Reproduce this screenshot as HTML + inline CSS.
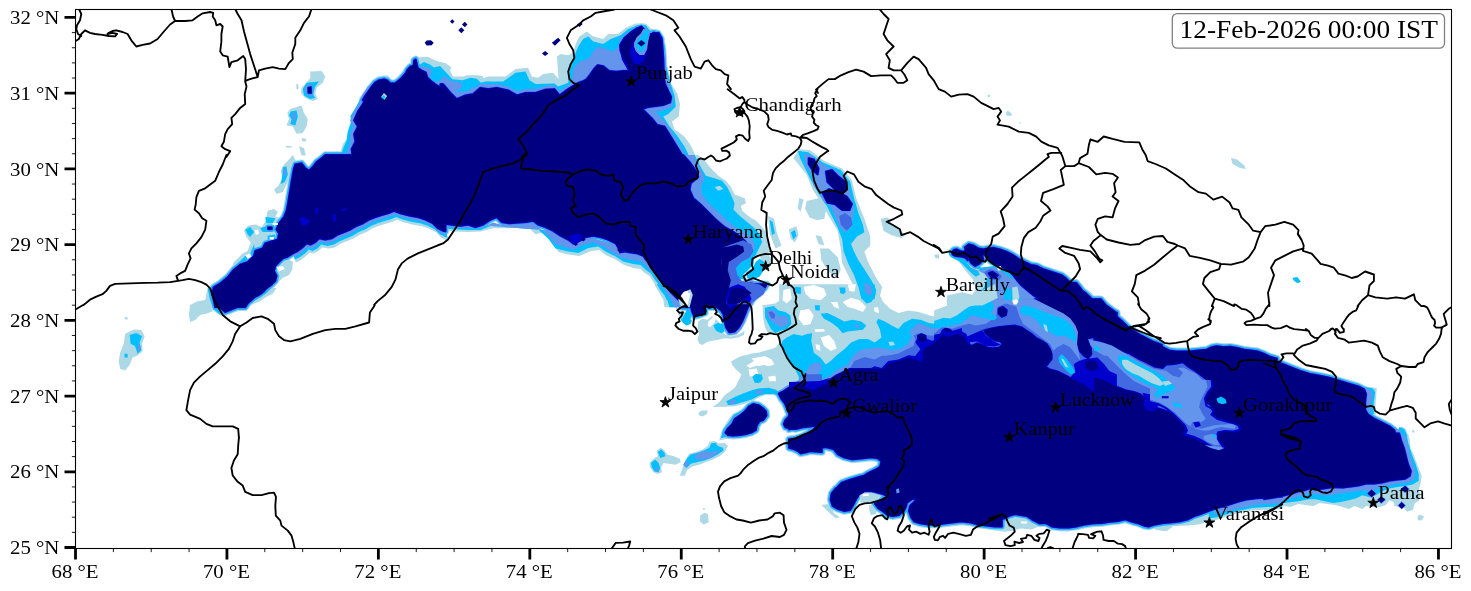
<!DOCTYPE html>
<html><head><meta charset="utf-8"><title>map</title>
<style>
html,body{margin:0;padding:0;background:#fff;}
body{width:1471px;height:591px;overflow:hidden;font-family:"Liberation Serif",serif;}
svg{display:block;position:absolute;left:0;top:0;}
text{font-family:"Liberation Serif",serif;fill:#000;}
.tk text{font-size:17.8px;}
.ct text{font-size:18.4px;}
</style></head><body>
<svg width="1471" height="591" viewBox="0 0 1471 591">
<rect width="1471" height="591" fill="#fff"/>
<defs><clipPath id="cp"><rect x="75.5" y="9.5" width="1376.0" height="539.0"/></clipPath></defs>
<g clip-path="url(#cp)">
<path d="M308.3,87.8 310.8,87.1 311,92.9 308.5,92.9Z M352.8,159.2 351.6,149.2 355.4,141.7 354.1,134.2 357.9,126.6 354.1,120.4 357.9,111.6 362.9,104.1 366.6,94.1 362.6,100 365.7,95.1 370.8,87.9 374.9,82.8 378.9,80.3 384,79.3 387.1,80.3 390.2,83.3 395.3,83.3 400.4,79.3 405.5,73.6 407.5,69.6 410.6,66.5 413.6,65.5 414.1,60.4 415.7,59.4 416.7,63.5 417.7,68 421.8,70.6 425.8,72.6 427.4,77.7 432,81.8 436,84.9 441.1,87.9 445.2,93 450.3,97.1 452.4,101.2 452.4,121.6 445.5,159.2Z M295.3,164.5 301.5,163.3 305.3,168.3 309,170.8 312.8,167 316.6,162 321.6,158.3 325.3,155 445.5,155 445.5,231.3 443,230.8 438,228.3 432.9,223.3 425.4,219.6 417.9,217.1 410.4,215.8 400.4,213.3 394.1,210.8 387.9,213.3 381.6,215.1 375.4,217.1 369.1,219.6 362.9,223.3 356.6,225.8 350.3,229.6 344.1,232.1 337.8,234.6 331.6,238.4 325.3,239.6 319.1,238.4 315.3,242.1 310.3,244.6 306.5,243.4 302.8,247.1 297.8,250.9 292.8,253.4 287.8,256.6 282.8,258.4 279,262.1 275.3,265.9 274,270.9 276.5,275.9 275.3,280.9 271.5,284.7 266.5,288.4 261.5,292.2 256.5,295.9 251.5,299.7 247.7,303.4 245.2,307.2 215.2,307.2 213.9,300.9 212.2,293.4 213.9,287.2 220.2,283.4 227.7,277.2 233.9,269.6 240.2,264.6 247.7,262.1 254,255.9 255.2,250.9 262.7,248.4 265.2,243.4 272.7,240.9 277.8,239.6 279,233.3 276.5,229.6 279,223.3 284,217.1 286.5,210.8 287.8,204.6 289,197.1 290.3,189.5 291.5,182 292.8,174.5 294,168.3Z M268.2,227.3 271.7,227.3 271.7,229.1 268.2,229.1Z M213.4,288 214.7,295 217.7,302.5 221.4,308.8 225.2,312 230.2,310 236.5,307.5 244,305 250.2,301.3 254,297.5 259,295 264,291.3 266.5,288Z M440.5,159.2 440.5,84.1 443,84.1 450.5,92.9 456.8,99.1 465.5,95.4 473,94.1 480.5,87.8 488.1,89.1 496.8,87.8 508.1,90.4 516.8,95.4 525.6,92.9 535.6,92.9 545.6,89.6 554.4,89.1 559.4,95.4 568.2,89.1 578.2,82.8 585.7,80.3 579.1,83.8 586.5,79.2 590.2,74.5 594,69 597.7,65.2 603.3,66.2 608.8,70.8 616.3,71.7 623.7,70.8 629.3,70.8 626.5,63.4 622.8,56.9 620.4,50.3 620.4,44.8 624.7,38.3 631.2,32.7 636.7,28.4 641.4,27.1 643.3,29.5 640.1,34.5 635.8,39.2 633,42.9 631.2,47.6 629.3,52.2 631.2,57.8 634,63.4 638.6,64.3 643.3,61.5 646,55 647.5,48.5 647.9,41 649.8,35.5 653.5,32.7 658.1,33.6 660.9,38.3 661.9,46.6 662.4,57.8 662.8,69 663.7,76.4 665,83.8 668.4,91.3 671.2,96.9 670.2,102.4 662.8,105.2 655.3,106.2 647.9,107.1 642.3,109 647,113.6 652.6,119.2 657.2,125 664.5,126.6 670.8,136.7 677,146.7 684.6,159.2Z M441,155 683.3,155 689.6,162 695.8,170.8 698.3,177 690.8,183.3 689.6,189.5 693.3,198.3 700.8,204.6 708.3,212.1 715.8,219.6 724.6,227.1 733.4,232.1 740.9,237.1 745.9,242.1 742.1,247.1 735.9,250.9 728.4,253.4 723.4,257.1 725.9,262.1 730.9,267.1 728.4,272.1 732.1,279.7 739.6,284.7 750.9,283.4 760.9,285.9 755.9,292.2 748.4,295.9 744.6,300.9 747.1,307.2 682,307.2 680.8,302.2 675.8,297.2 670.8,292.2 665.8,285.9 660.8,279.7 655.8,273.4 650.8,267.1 647,260.9 643.3,255.9 637,253.4 628.2,252.1 619.5,249.6 615.7,243.4 608.2,239.6 600.7,237.1 593.2,235.8 585.7,237.1 579.4,240.9 573.2,243.4 568.2,239.6 560.6,235.8 553.1,230.8 545.6,227.1 538.1,224.6 533.1,220.8 525.6,222.1 518.1,222.6 509.3,223.3 501.8,222.1 496.8,217.1 490.6,219.6 483.1,224.6 475.5,227.1 468,224.6 460.5,225.8 450.5,224.6 441,223.3Z M666.1,284.2 670.3,290.1 673.7,294.3 677.9,297.7 680.5,296 683.8,291.8 687.2,290.1 690.6,292.6 691.4,298.5 690.6,305.3 692.3,312.1 694.3,316.3 700.8,314.6 705,312.9 705,308.7 704.1,306.1 706.7,304.5 710.1,306.1 714.3,305.3 717.7,307.8 721.1,310.4 723.6,314.6 724.4,320.5 726.1,327.3 729.5,332.4 734.6,331.5 738.8,327.3 742.2,321.4 744.7,315.5 747.3,308.7 749.8,303.6 751.5,301.1 754,297.7 758.3,294.3 761.7,290.9 765,287.5 766.7,284.2Z M839.2,386.5 842.6,377.2 851.1,374.7 859.5,373 871.4,371.3 878.1,368.7 883.2,369.6 888.3,363.7 898.4,361.1 908.6,357.7 915.3,359.4 920.4,362 923.8,357.7 922.1,352.7 925.5,347.6 932.3,344.2 940.7,342.5 939,347.6 942.4,351 949.2,348.4 952.6,342.5 949.2,335.8 952.6,333.2 961.9,334.1 961.9,386.5Z M917.9,335.8 921.3,334.1 925.5,335.8 926.3,340 923,342.5 918.7,340.8Z M943.3,330.7 946.6,328.6 950.9,330.7 950,334.9 945.8,335.4Z M725.4,432.5 728,428.3 732.2,424.1 734.7,419 739.8,415.6 744.9,411.4 749.1,406.3 753.3,404.1 758.4,405.1 762.7,408 766,411.4 766.5,415.6 763.5,419.8 759.3,421.5 756.7,425.8 755.9,430 751.7,432.5 745.7,434.2 739.8,435.1 733,435.6 728,435.1Z M778.7,393.6 783.8,391.1 788.9,387.7 795.6,386.5 799.9,385.2 804.9,386.8 809.2,389.4 815.9,390.2 821.9,389.4 821.9,424.1 815.9,425.8 809.2,426.6 802.4,427.4 795.6,429.1 789.7,428.3 785.5,427.4 783.8,424.1 785.5,419.8 788.9,416.4 792.3,413.1 794.8,408.8 795.6,405.5 793.1,406.3 791.4,410.5 788,411.4 786.8,408 784.6,402.9 781.3,398.7Z M793.1,445.2 797.3,441.8 802.4,438.4 809.2,435.1 815.9,431.7 821.9,428.3 821.9,452 809.2,451.1 802.4,452.8 799,450.3 794.8,447.7Z M808.7,158.1 814,159.6 818.5,168.5 817.6,174.4 812.5,170 808.7,164.1Z M825.9,171.5 831.8,170 837.7,175.9 845.1,181.8 846.6,189.2 842.2,193.7 834.8,189.2 827.4,181.8Z M822.9,193.7 828.8,189.2 837.7,192.2 846.6,196.6 851.9,204 849.6,210 842.2,210 834.8,204 827.4,202.5Z M952,251.8 954.1,249.8 956.6,249.3 959.6,250.8 962.7,251.8 965.2,250.8 965.7,247.8 967.8,260.4 965.7,257.9 962.7,256.9 958.6,256.4 955.1,255.9 952.5,254.4Z M849.4,369 1001.8,369 1001.8,488.8 837.5,488.8 837.5,487 841.5,482.8 849.4,479.9 859.3,476.9 867.2,474.9 873.1,471 880.1,467 881.4,461.1 877.1,458.1 869.2,457.1 859.3,457.1 849.4,457.1 841.5,454.1 836.5,451.2 834.5,446.2 829.6,444.8 819.7,446.2 809.8,448.2 801.9,453.1 794,449.2 789,447.8 789,439.3 795.9,438.3 801.9,436.3 807.8,433.3 813.8,429.4 815.7,426.4 811.8,424.4 805.8,425.4 797.9,427.4 789,429.4 789,390.8 797.9,389.8 805.8,388.8 813.8,389.8 819.7,386.8 825.6,383.9 829.6,379.9 835.5,375.9 841.5,373Z M1034.8,299.2 1043.3,303.4 1053.4,308.5 1063.6,313.5 1070.3,318.6 1075.4,325.4 1077.1,333.8 1076.3,337.2 1077.1,344 1079.6,350.8 1083.9,355.8 1088.1,358.4 1091.5,354.1 1090.6,345.7 1087.3,338.9 1092.7,337.2 1103,342.3 1113.3,347.5 1116.9,349.1 1116.9,312.7 1115,311.8 1105.9,305.1 1100.8,299.2Z M934.2,341.1 938.4,340.3 942.6,333.5 946.8,336.9 950.2,335.9 953.6,334.7 960.4,333.8 964.6,337.2 967.1,343.1 971.4,345.7 977.3,343.1 982.4,344.8 987.4,347.4 993.4,348.2 999.3,347.4 1002.7,344 1000.1,341.4 995.1,340.6 990.8,338.1 985.8,333.8 984.1,330.5 989.1,328.8 997.6,327.1 1006.1,326.2 1014.5,325.4 1021.3,327.1 1026.4,330.5 1031.4,333.8 1036.5,338.1 1041.6,340.6 1046.7,344 1050,349.1 1051.7,354.1 1051.7,359.2 1048.3,363.4 1045.8,366.8 1050,369.4 1056.8,371.1 1063.6,374.4 1070.3,377.8 1077.1,381.2 1083.9,384.6 1088.1,388 1094,391.4 1099.9,393.9 1105.9,394.7 1116.9,394.7 1116.9,401.5 934.2,401.5Z M1085.6,361.7 1092.3,360.1 1097.4,363.4 1098.3,367.7 1094,371.1 1088.1,370.2 1084.7,366.8Z M942.6,330.5 946,327.9 950.2,329.6 951.1,333 947.7,335.5 943.5,333.8Z M998.4,308.5 1002.7,306.8 1006.9,310.2 1006.1,315.2 1001.8,316.9 998.4,313.5Z M964.8,247.4 968.9,244.3 973,245.3 978.2,248.4 983.3,249.4 987.5,248.4 993.7,247.8 999.9,249.4 1006,251.5 1012.2,254.6 1018.4,258.7 1024.6,261.8 1030.8,264.9 1037,266 1043.2,269.1 1049.4,271.1 1055.6,273.2 1061.8,275.2 1065.9,278.3 1070,282.5 1076.2,282.9 1079.3,286.6 1082.4,290.7 1086.5,293.8 1090.7,298 1096.9,302.1 1103.1,306.2 1109.2,310.3 1115.4,315.5 1121.6,320.7 1127.8,326.8 1134,331 1140.2,335.1 1146.4,338.2 1152.6,341.3 1161.9,344.8 1161.9,358.8 1146.4,357.8 1134,354.7 1123.7,351.6 1113.4,347.5 1103.1,342.3 1092.7,337.2 1084.5,334.1 1077.3,333 1074.2,327.9 1071.1,322.7 1066.9,317.6 1061.8,312.4 1056.6,308.3 1051.5,305.2 1045.3,302.1 1039.1,299 1032.9,294.9 1026.7,289.7 1020.5,284.5 1016.4,279.4 1013.3,275.2 1009.1,271.1 1004,268 997.8,264.9 991.6,261.8 987.5,257.7 984.4,253.6 982.3,255.6 983.3,259.8 979.2,263.9 975.1,266 971,262.9 968.9,257.7 966.8,252.5Z M988.5,273.2 992.6,271.7 997.8,275.2 995.7,277.9 991.2,277.3Z M788.3,444 794.4,448.1 800.6,453.3 806.8,452.2 815.1,449.1 825.4,447.1 833.7,449.1 837.8,454.3 844,457.4 852.2,459.4 862.6,458.4 870.8,457.4 879.1,458.4 882.2,462.5 879.1,467.7 872.9,470.8 866.7,473.9 860.5,478 854.3,481.1 848.1,482.2 841.9,485.2 835.7,488.3 831.6,493.5 830.6,499.7 832.6,505.9 837.8,509 844,511 850.2,510 853.3,504.9 856.4,498.7 859.5,494.5 864.6,491.4 870.8,490.8 877,492.5 883.2,494.1 887.3,496.2 881.1,500.3 874.9,503.8 878,508 883.2,511.5 887.3,514.8 892.5,516.2 898.7,515.2 903.8,511 905.9,506.9 906.9,502.8 912.1,499.1 917.3,498.3 914.2,501.8 910,505.9 909,511 911.1,517.2 914.2,521.4 920.4,523.4 928.6,524.5 936.9,524.5 945.1,523.4 953.4,522.4 961.6,521.4 969.9,522.4 978.1,524.5 986.4,525.5 994.7,526.5 1001.9,526.5 1001.9,444Z M989,524.9 990,524.5 996.2,522.4 1002.4,519.3 1008.6,516.2 1014.8,514.1 1021,515.2 1027.2,516.2 1033.3,520.3 1039.5,523.4 1045.7,523 1051.9,526.5 1060.2,527.6 1068.4,527.6 1076.7,526.5 1084.9,524.5 1093.2,523.4 1101.5,523 1109.7,521.8 1118,521 1125.2,519.3 1132.4,521.8 1138.6,523.4 1144.8,525.9 1148.9,526.5 1155.1,524.5 1163.4,523 1171.6,522.4 1179.9,521.4 1188.1,519.3 1194.3,516.2 1200.5,514.1 1208.8,511 1217,508 1225.3,505.9 1231.5,503.8 1237.7,501.8 1245.9,499.7 1256.3,498.3 1266.6,497.6 1274.8,497 1282.1,496.6 1282.1,444 989,444Z M960,395 1100,395 1100,420 1270,420 1270,450 960,450Z M1110,415 1270,415 1270,440 1110,440Z M1115.3,319.2 1122.1,325.1 1128.8,329.3 1137.3,333.5 1145.8,337.8 1154.2,342.8 1162.7,347.1 1169.4,350.5 1176.2,351.3 1183,351.3 1189.7,351.3 1198.2,350.5 1206.7,349.6 1211.7,347.1 1216.8,346.2 1223.6,347.1 1230.3,346.7 1237.1,347.9 1243.9,349.6 1250.6,350.5 1257.4,351.3 1264.2,353.8 1269.3,356.4 1276.9,358.6 1276.9,421.5 1216.8,421.5 1211.7,414.7 1213.4,409.7 1210,404.6 1203.3,401.2 1205,394.4 1210,391.1 1211.7,386 1208.3,380.9 1201.6,375.8 1194.8,370.8 1188,366.5 1183,362.3 1174.5,364 1166.1,364.8 1162.7,368.2 1154.2,366.5 1145.8,362.3 1137.3,358.1 1128.8,353 1122.1,348.8 1117,345.4 1110.2,343.7 1101.8,341.1 1094.2,339.5 1094.2,319.2Z M1186.4,421.5 1183,418.1 1176.2,414.7 1169.4,412.2 1162.7,409.7 1157.6,408 1152.5,411.4 1145.8,409.7 1144.1,404.6 1145.8,399.5 1140.7,394.4 1133.9,391.9 1125.5,390.2 1117,386.8 1108.5,382.6 1101.8,379.2 1094.2,377.5 1094.2,421.5Z M1264,355.9 1272.8,359.2 1280.6,363.1 1290.3,367 1300,370.8 1309.7,373.8 1319.5,375.7 1329.2,377.7 1338.9,380.6 1348.6,383.5 1358.4,386.4 1364.2,389.3 1366.1,394.2 1365.2,402 1365.2,409.8 1368.1,414.6 1373.9,418.5 1381.7,422.4 1389.5,426.3 1394.4,430.2 1396.3,436 1399.2,441.8 1401.2,447.7 1264,447.7Z M1399.2,433.4 1401.2,440.8 1404.1,448.6 1406,456.4 1408,464.2 1410.9,471 1409.9,475.8 1405.1,478.8 1397.3,479.7 1389.5,480.7 1381.7,482.7 1373.9,483.6 1366.1,483.6 1358.4,485.6 1350.6,486.5 1342.8,487.5 1333.1,487.1 1323.4,488.5 1315.6,489.5 1309.7,488.5 1303.9,490.4 1298.1,491.4 1292.2,493.4 1284.5,495.3 1276.7,497.2 1270.8,498.2 1264,499.2 1264,433.4Z" fill="none" stroke="#ADD8E6" stroke-width="7.6" stroke-linejoin="round"/>
<g fill="#ADD8E6"><path d="M310.3,71.6 321.6,71.1 325.3,76.6 322.8,82.8 316.6,87.8 315.3,94.1 317.8,99.1 312.8,101.1 305.3,97.9 301,92.9 301.5,87.8 306.5,82.8 310.3,77.8Z"/><path d="M296.3,84.1 298.3,84.1 298.5,89.1 296.5,89.1Z"/><path d="M290.3,109.1 301.5,105.4 304,112.9 307.8,119.1 306.5,126.6 302.8,132.9 296.5,133.7 292.8,126.6 286.5,125.4 289,119.1 287.3,112.9Z"/><path d="M301.5,137.9 306.5,138.7 305.3,141.7 302.3,141.2Z"/><path d="M286,145.9 291.5,145.9 291.5,147.4 286,147.4Z"/><path d="M299,146.2 304,147.9 305.8,155.4 301.5,155.4Z"/><path d="M416.7,60.4 419.7,57.3 427.9,56.8 432,58.9 438.1,61.4 445.2,62.9 451.3,67 449.3,72.6 454.4,78.7 462.6,77.2 466.6,75.2 477.9,75.2 483,76.2 483,101.2 452.4,101.2 421.8,70.6Z"/><path d="M321.6,159.2 325.3,152.9 340.3,152.9 342.8,144.2 346.6,139.2 347.8,131.7 350.3,121.6 351.6,114.1 356.6,106.6 361.6,96.6 369.1,84.1 377.9,76.6 387.9,75.3 390.4,80.3 375.4,84.1 357.9,159.2Z"/><path d="M287.8,160.8 284,164.5 280.8,170.8 282.3,178.3 278.3,185.8 274,189.5 276.5,194 282.8,192 287.8,182 292.8,172 296.5,162 292.8,155Z"/><path d="M267.7,210.8 274,209.1 277.8,212.1 275.3,217.1 282.8,218.3 277.8,232.1 282.8,238.4 275.3,242.1 267.7,240.9 262.7,243.4 257.7,248.4 252.7,248.4 250.2,242.1 246.5,237.1 244,230.8 247.7,225.8 255.2,224.6 261.5,227.1 265.2,222.1 266.5,215.8Z"/><path d="M250.2,243.4 247.7,250.9 242.7,253.4 237.7,258.4 233.9,262.1 231.4,268.4 225.2,274.6 218.9,279.7 211.4,284.7 207.7,290.9 208.9,297.2 206.4,300.9 200.2,302.2 198.9,307.2 215.2,307.2 255.2,250.9Z"/><path d="M282.8,257.1 292.8,261.6 292.3,269.6 289,275.1 282.8,277.7 278.3,282.2 275.3,280.9 274,269.6 276.5,263.4Z"/><path d="M340.3,232.1 350.3,228.3 362.9,222.1 365.4,225.8 360.4,230.8 350.3,234.6 342.8,235.8Z"/><path d="M445.5,231.3 443,230.8 438,228.3 432.9,223.3 425.4,219.6 417.9,217.1 410.4,215.8 400.4,213.3 394.1,210.8 387.9,213.3 381.6,215.1 375.4,217.1 369.1,219.6 362.9,223.3 356.6,225.8 350.3,229.6 344.1,232.1 337.8,234.6 331.6,238.4 325.3,239.6 319.1,238.4 315.3,242.1 310.3,244.6 306.5,243.4 302.8,247.1 297.8,250.9 292.8,253.4 295.9,262.4 300.9,259.9 305.9,256.1 309.7,252.4 313.4,253.6 318.5,251.1 322.2,247.4 328.5,248.6 334.7,247.4 341,243.6 347.2,241.1 353.5,238.6 359.8,234.8 366,232.3 372.3,228.6 378.5,226.1 384.8,224.1 391,222.3 397.3,219.8 403.6,222.3 413.6,224.8 421.1,226.1 428.6,228.6 436.1,232.3 441.1,237.4 446.1,239.9 448.6,240.4Z"/><path d="M190.1,305 197.7,301.3 205.2,300 207.7,288 210.2,305 212.7,311.3 206.4,313.8 200.2,315 195.2,320 190.1,322 188.9,315Z"/><path d="M266.5,288 276.5,288 272.7,293.8 265.2,297.5 260.2,301.3 254,303.8 245.2,308 237.7,311.3 227.7,314.5 220.2,315.5 213.9,311.3 210.2,305 207.7,288Z"/><path d="M125.1,333.8 133.8,329.5 141.3,330.1 144.6,336.3 142.1,343.8 142.6,351.3 137.6,355.6 132.6,357.6 129.6,365.1 125.1,370.6 120.1,368.8 118.8,361.3 120.1,352.6 123.8,343.8Z"/><path d="M124.6,317 127.6,317 127.6,319.5 125.1,319.5Z"/><path d="M440.5,62.3 449.3,69.1 453,76.6 468,76.6 478,80.3 488.1,76.6 505.6,76.6 515.6,69.1 528.1,67.8 531.9,76.6 538.1,77.8 543.1,74.1 553.1,72.8 558.6,79.1 556.9,56.6 560.6,54.1 568.2,55.3 573.2,52.8 575.7,44 579.4,36.5 586.9,31.5 593.2,36.5 603.2,39 608.2,34 618.2,34 625.7,27.8 635.7,23.5 645.8,23.5 650.8,28.5 658.3,29.8 663.8,36.5 666.3,49.1 667.5,66.6 671.3,84.1 677.5,94.1 680,104.1 678.8,116.6 672,121.6 674.5,129.2 684.6,136.7 690.8,145.4 697.1,159.2 440.5,159.2Z"/><path d="M441,230.8 455.5,231.6 468,232.1 480.5,231.6 493.1,228.3 508.1,228.3 525.6,227.1 530.6,229.6 535.6,234.6 543.1,232.1 548.1,233.3 551.1,242.1 558.6,252.1 568.2,254.6 579.4,256.1 590.7,250.9 599.4,250.1 605.7,255.1 615.7,259.6 623.2,264.6 633.2,268.1 640.7,269.1 644,272.6 649.5,275.9 654.5,283.4 658.3,290.9 663.3,299.7 664.5,307.2 683.3,307.2 643.3,252.1 568.2,232.1 443,222.1Z"/><path d="M698.3,155 705.8,162 712.1,169.5 718.3,175.8 725.9,180.8 730.9,187 734.6,194.5 744.6,198.3 745.9,203.3 740.9,205.8 742.1,210.8 749.6,217.1 755.9,220.8 760.9,225.8 765.9,232.1 768.4,242.1 770.9,252.1 755.9,257.1 718.3,232.1 683.3,182 680.8,155Z"/><path d="M654.2,284.2 657.6,290.1 662.7,296.8 666.1,301.9 672,303.6 677.1,307 679.6,312.9 683.8,312.1 689.8,315.5 692.3,321.4 686.4,324.8 681.3,321.4 666.9,284.2Z"/><path d="M698.2,321.4 702.4,318.8 707.5,319.7 711.7,316.3 716,318.8 719.4,323.1 724.4,334.1 730.4,336.6 738,334.9 744.7,330.7 743.9,334.9 738,337.4 731.2,338.8 724.4,338.3 717.7,340 712.6,340.8 707.5,341.7 702.4,345.1 699.1,343.4 697.4,339.1 699.1,334.1 697.7,327.3Z"/><path d="M762.5,305.3 775.2,303.6 780.3,300.2 785.3,298.5 787.9,303.6 788.7,310.4 793.8,313.8 797.2,323.9 790.4,330.7 778.6,334.1 768.4,334.1 765,327.3 763.3,318.8Z"/><path d="M731.2,362 738,357.7 744.7,356.1 751.5,353.5 758.3,352.7 761.7,356.1 768.4,354.4 775.2,356.1 776.9,361.1 776,366.2 778.6,369.6 783.6,373 790.4,376.4 793.8,385.7 738,385.7 739.7,379.7 742.2,373 738.8,367.9 732.9,366.2Z"/><path d="M779.2,284.2 874.7,284.2 881.5,288.4 879.8,295.2 883.2,301.9 890,308.7 898.4,312.9 908.6,310.4 918.7,312.1 932.3,316.3 942.4,315.5 949.2,310.4 952.6,305.3 961.9,303.6 961.9,386.5 779.2,386.5Z"/><path d="M793.5,356.1 800.3,352.7 805.4,357.7 807.1,364.5 802,369.6 796.9,366.2Z"/><path d="M719.2,440.6 721.7,430.8 727.6,420.7 732.7,413.9 741.2,409.3 748.3,403.4 753.3,401.2 750,408.8 734.7,425.8 728,438.4Z"/><path d="M698.4,413.1 701.7,410.5 707.7,410.5 706.8,413.9 702.6,416.4 699.2,415.6Z"/><path d="M679.8,475.7 683.1,466.4 685.7,459.6 689.1,453.7 695.8,452 702.6,449.4 707.7,446.1 709.4,441.8 714.4,441 719.5,443.5 724.6,442.7 728,446.1 724.6,452 719.5,456.2 712.7,459.6 706,462.1 699.2,464.7 692.4,466.4 687.4,469.7 684.8,475.7Z"/><path d="M656.9,451.1 660.3,447.7 664.5,450.3 667.1,454.5 673.8,456.2 679.8,458.7 680.6,462.1 675.5,464.7 668.8,463.8 663.7,463 661.1,467.2 662,472.3 657.8,474 653.5,472.3 650.2,467.2 649.3,463 653.5,458.7 657.8,456.2Z"/><path d="M712.7,407.1 719.5,402.1 724.6,395.3 731.4,390.2 738.1,385.2 744.9,381.8 748.3,374.2 807.5,374.2 806.6,380.1 778.7,397 773.6,395 765.2,395 758.4,397.8 751.7,401.2 744.9,403.8 734.7,406.3 724.6,406.8Z"/><path d="M731.3,361.2 741.5,356.1 758.4,352.7 775.3,347.7 781.4,340.9 781.4,381.5 768.6,388.3 751.6,391.6 738.1,395 728,401.8 717.8,403.5 734.7,388.3 741.5,374.7 734.7,368Z"/><path d="M700.4,515.3 704.6,512.7 708.1,514.3 708.7,522.6 703.5,524.6 699.8,521.5Z"/><path d="M703.1,508.1 704.8,508.1 704.8,509.8 703.1,509.8Z"/><path d="M987.2,96.1 988.7,94.6 990.7,96.1 988.7,97.6Z"/><path d="M1006.2,111.6 1008.7,111.1 1012,114.1 1011.3,115.9 1006.2,115.6Z"/><path d="M1019,122.9 1020,121.9 1021,122.9 1020,123.9Z"/><path d="M793.3,158.1 799.2,149.2 809.6,150.1 824.4,161.1 842.2,168.5 851.9,180.3 856.1,198.1 864.4,218.8 870.3,236.6 870.3,245.5 864.4,251.4 867.3,260.3 876.2,278.1 882.1,286.9 879.2,298.8 870.3,306.2 857,306.2 855.5,289.9 849.6,278.1 842.2,263.3 840.7,248.4 837.7,230.7 828.8,215.9 820,201.1 812.5,189.2 806.6,174.4Z"/><path d="M806.6,201.1 820,198.1 825.9,210 824.4,218.8 817,220.3 809.6,217.4 805.1,208.5Z"/><path d="M799.2,198.1 803.7,199.6 800.7,211.4 797.7,208.5Z"/><path d="M815.5,235.1 821.4,236.6 824.4,245.5 818.5,244Z"/><path d="M820,248.4 828.8,248.4 837.7,257.3 840.7,269.2 837.7,278.1 828.8,272.1 821.4,260.3Z"/><path d="M788.9,229.2 796.3,226.2 798.6,235.1 794.8,242.5 790.3,238.1Z"/><path d="M768.1,215.9 774.1,218.8 777,233.6 781.5,245.5 775.5,248.4 769.6,233.6Z"/><path d="M824.4,291.4 837.7,289.9 846.6,295.8 840.7,306.2 825.9,306.2Z"/><path d="M781.5,295.8 787.4,297.3 785.9,306.2 780,304.7Z"/><path d="M739.4,198.1 744.4,198.1 745.3,203.4 739.4,204Z"/><path d="M880.7,218.8 888.1,217.4 892.5,224.8 899.9,230.7 905.8,235.1 901.4,238.1 891,235.1 883.6,230.7Z"/><path d="M759.7,255.7 768,254.1 772.1,259.9 769,268.1 763.8,271.2 761.8,261.9Z"/><path d="M1231,158.1 1237,159.6 1244.4,165.5 1245.8,169.1 1239.9,167.9 1232.5,164Z"/><path d="M934.3,254.4 941.4,254.4 948.5,253.8 950.5,257.4 947.5,259.4 941.4,258.9 935.3,257.9Z"/><path d="M942.4,262.5 949.5,260.4 953.6,263.5 957.6,266.5 962.7,270.6 967.8,274.6 971.8,278.7 975.9,282.8 971.8,286.8 965.7,280.7 959.6,275.7 953.6,270.6 947.5,266Z"/><path d="M939,247.4 948.3,249.4 958.6,247.4 964.8,247.4 967.9,255.6 971,263.9 981.3,268 993.7,266 1008.1,273.2 1016.4,282.5 1008.1,296.9 991.6,309.3 971,321.7 939,325.8Z"/><path d="M944.1,261.8 952.4,263.9 960.6,272.2 956.5,276.3 948.3,268Z"/><path d="M946.2,292.8 956.5,290.7 966.8,296.9 960.6,303.1 952.4,301Z"/><path d="M869.2,504.9 873.9,505.3 877,509 876,514.1 870.8,515.2 869.2,510Z"/><path d="M821.3,504.9 830.6,503.8 833.7,513.1 839.9,517.2 835.7,518.3 830.6,514.1Z"/><path d="M1002.4,520.3 1010.6,515.2 1021,516.2 1031.3,517.2 1037.5,522.4 1041.6,525.5 1031.3,529.6 1021,528.6 1012.7,530.7 1004.4,531.7 998.3,530.7 989,529.6 989,523.4Z"/><path d="M1151,526.5 1157.2,525.1 1165.4,523.8 1173.7,523.4 1171.6,527.6 1166.5,531.3 1161.3,530.7 1155.1,529.6Z"/><path d="M1196.4,516.2 1282.1,496.6 1282.1,509 1266.6,509.4 1252.1,510.6 1237.7,513.1 1227.4,516.2 1217,519.7 1208.8,521.8 1198.5,524.5 1188.1,525.5 1175.8,525.9 1171.6,523.4Z"/><path d="M1366.1,386.4 1376.8,388 1376.3,394.2 1375.3,407.8 1375.9,415.6 1368.1,414.6 1364.2,388.4Z"/><path d="M1401.2,426.3 1406,429.2 1409.3,438.9 1410.5,447.7 1400.2,447.7 1396.3,436Z"/><path d="M1290.3,364.6 1296.1,367 1302,369.9 1299,371.2 1292.2,368.3Z"/><path d="M1412.2,430.2 1414.4,430.2 1414.4,432.5 1412.2,432.5Z"/><path d="M1408,433.4 1409.9,440.8 1409.3,446.7 1412.8,452.5 1415.7,460.3 1418.7,468.1 1421.6,475.8 1420.6,483.6 1418.7,489.5 1420.6,495.3 1418.7,501.1 1414.8,503.1 1412.8,509.9 1407,511.8 1404.1,507.9 1399.2,507 1394.4,506 1393.4,502.1 1389.5,500.2 1385.6,505 1379.8,507 1373.9,507 1366.1,506 1362.3,508.9 1354.5,506 1348.6,508.9 1342.8,507 1335,505 1327.2,504.1 1319.5,503.1 1313.6,506 1305.8,505 1298.1,504.1 1290.3,507 1284.5,506 1276.7,507.9 1270.8,509.9 1264,510.9 1264,493.4 1381.7,473.9Z"/><path d="M1417.7,515.7 1420.6,514.8 1424.1,516.7 1421.6,520.6 1417.7,520.2Z"/></g>
<g fill="#FFFFFF"><path d="M803.7,286.7 813.8,285 824,288.4 826.5,295.2 820.6,300.2 810.5,298.5 805.4,293.5Z"/><path d="M842.6,301.9 851.1,297.7 859.5,300.2 866.3,307 862.9,312.1 854.4,308.7 847.7,307Z"/><path d="M800.3,310.4 808.8,308.7 813.8,315.5 810.5,323.9 803.7,325.6 798.6,318.8Z"/><path d="M820.6,337.4 829.1,334.9 834.1,340.8 836.7,348.4 830.8,351 824,345.9Z"/><path d="M814.7,329.3 824,329 824.8,331.5 815.5,332Z"/><path d="M830.8,301.9 837.5,301.9 839.2,308.7 834.1,307Z"/><path d="M847.7,284.2 856.1,284.2 854.4,291.8 849.4,290.9Z"/><path d="M873.9,307.8 878.1,307 879,312.9 874.7,312.1Z"/><path d="M815.5,344.2 819.8,345.1 820.6,351 816.4,349.3Z"/><path d="M783.4,290.1 790.2,288.4 791.8,298.5 786.8,303.6 782.5,300.2Z"/><path d="M790.2,337.4 796.9,336.6 797.8,340 791,340.8Z"/><path d="M768.6,377.5 775.3,376.7 775.3,380.9 769.4,380.9Z"/><path d="M751.6,358.5 765.2,356.1 770.2,362.9 758.4,366.3Z"/><path d="M748.3,369.6 756.7,368.6 758.4,374.7 749.9,376.4Z"/><path d="M768.6,376.4 775.3,375.7 776,380.8 769.2,381.5Z"/><path d="M939,246.4 948.3,249.9 954.4,256.7 960.6,263.9 966.8,272.2 973,279.4 976.1,288.7 971,296.9 962.7,303.1 952.4,307.2 939,309.3Z"/></g>
<path d="M308.3,87.8 310.8,87.1 311,92.9 308.5,92.9Z M352.8,159.2 351.6,149.2 355.4,141.7 354.1,134.2 357.9,126.6 354.1,120.4 357.9,111.6 362.9,104.1 366.6,94.1 362.6,100 365.7,95.1 370.8,87.9 374.9,82.8 378.9,80.3 384,79.3 387.1,80.3 390.2,83.3 395.3,83.3 400.4,79.3 405.5,73.6 407.5,69.6 410.6,66.5 413.6,65.5 414.1,60.4 415.7,59.4 416.7,63.5 417.7,68 421.8,70.6 425.8,72.6 427.4,77.7 432,81.8 436,84.9 441.1,87.9 445.2,93 450.3,97.1 452.4,101.2 452.4,121.6 445.5,159.2Z M295.3,164.5 301.5,163.3 305.3,168.3 309,170.8 312.8,167 316.6,162 321.6,158.3 325.3,155 445.5,155 445.5,231.3 443,230.8 438,228.3 432.9,223.3 425.4,219.6 417.9,217.1 410.4,215.8 400.4,213.3 394.1,210.8 387.9,213.3 381.6,215.1 375.4,217.1 369.1,219.6 362.9,223.3 356.6,225.8 350.3,229.6 344.1,232.1 337.8,234.6 331.6,238.4 325.3,239.6 319.1,238.4 315.3,242.1 310.3,244.6 306.5,243.4 302.8,247.1 297.8,250.9 292.8,253.4 287.8,256.6 282.8,258.4 279,262.1 275.3,265.9 274,270.9 276.5,275.9 275.3,280.9 271.5,284.7 266.5,288.4 261.5,292.2 256.5,295.9 251.5,299.7 247.7,303.4 245.2,307.2 215.2,307.2 213.9,300.9 212.2,293.4 213.9,287.2 220.2,283.4 227.7,277.2 233.9,269.6 240.2,264.6 247.7,262.1 254,255.9 255.2,250.9 262.7,248.4 265.2,243.4 272.7,240.9 277.8,239.6 279,233.3 276.5,229.6 279,223.3 284,217.1 286.5,210.8 287.8,204.6 289,197.1 290.3,189.5 291.5,182 292.8,174.5 294,168.3Z M268.2,227.3 271.7,227.3 271.7,229.1 268.2,229.1Z M213.4,288 214.7,295 217.7,302.5 221.4,308.8 225.2,312 230.2,310 236.5,307.5 244,305 250.2,301.3 254,297.5 259,295 264,291.3 266.5,288Z M440.5,159.2 440.5,84.1 443,84.1 450.5,92.9 456.8,99.1 465.5,95.4 473,94.1 480.5,87.8 488.1,89.1 496.8,87.8 508.1,90.4 516.8,95.4 525.6,92.9 535.6,92.9 545.6,89.6 554.4,89.1 559.4,95.4 568.2,89.1 578.2,82.8 585.7,80.3 579.1,83.8 586.5,79.2 590.2,74.5 594,69 597.7,65.2 603.3,66.2 608.8,70.8 616.3,71.7 623.7,70.8 629.3,70.8 626.5,63.4 622.8,56.9 620.4,50.3 620.4,44.8 624.7,38.3 631.2,32.7 636.7,28.4 641.4,27.1 643.3,29.5 640.1,34.5 635.8,39.2 633,42.9 631.2,47.6 629.3,52.2 631.2,57.8 634,63.4 638.6,64.3 643.3,61.5 646,55 647.5,48.5 647.9,41 649.8,35.5 653.5,32.7 658.1,33.6 660.9,38.3 661.9,46.6 662.4,57.8 662.8,69 663.7,76.4 665,83.8 668.4,91.3 671.2,96.9 670.2,102.4 662.8,105.2 655.3,106.2 647.9,107.1 642.3,109 647,113.6 652.6,119.2 657.2,125 664.5,126.6 670.8,136.7 677,146.7 684.6,159.2Z M441,155 683.3,155 689.6,162 695.8,170.8 698.3,177 690.8,183.3 689.6,189.5 693.3,198.3 700.8,204.6 708.3,212.1 715.8,219.6 724.6,227.1 733.4,232.1 740.9,237.1 745.9,242.1 742.1,247.1 735.9,250.9 728.4,253.4 723.4,257.1 725.9,262.1 730.9,267.1 728.4,272.1 732.1,279.7 739.6,284.7 750.9,283.4 760.9,285.9 755.9,292.2 748.4,295.9 744.6,300.9 747.1,307.2 682,307.2 680.8,302.2 675.8,297.2 670.8,292.2 665.8,285.9 660.8,279.7 655.8,273.4 650.8,267.1 647,260.9 643.3,255.9 637,253.4 628.2,252.1 619.5,249.6 615.7,243.4 608.2,239.6 600.7,237.1 593.2,235.8 585.7,237.1 579.4,240.9 573.2,243.4 568.2,239.6 560.6,235.8 553.1,230.8 545.6,227.1 538.1,224.6 533.1,220.8 525.6,222.1 518.1,222.6 509.3,223.3 501.8,222.1 496.8,217.1 490.6,219.6 483.1,224.6 475.5,227.1 468,224.6 460.5,225.8 450.5,224.6 441,223.3Z M666.1,284.2 670.3,290.1 673.7,294.3 677.9,297.7 680.5,296 683.8,291.8 687.2,290.1 690.6,292.6 691.4,298.5 690.6,305.3 692.3,312.1 694.3,316.3 700.8,314.6 705,312.9 705,308.7 704.1,306.1 706.7,304.5 710.1,306.1 714.3,305.3 717.7,307.8 721.1,310.4 723.6,314.6 724.4,320.5 726.1,327.3 729.5,332.4 734.6,331.5 738.8,327.3 742.2,321.4 744.7,315.5 747.3,308.7 749.8,303.6 751.5,301.1 754,297.7 758.3,294.3 761.7,290.9 765,287.5 766.7,284.2Z M839.2,386.5 842.6,377.2 851.1,374.7 859.5,373 871.4,371.3 878.1,368.7 883.2,369.6 888.3,363.7 898.4,361.1 908.6,357.7 915.3,359.4 920.4,362 923.8,357.7 922.1,352.7 925.5,347.6 932.3,344.2 940.7,342.5 939,347.6 942.4,351 949.2,348.4 952.6,342.5 949.2,335.8 952.6,333.2 961.9,334.1 961.9,386.5Z M917.9,335.8 921.3,334.1 925.5,335.8 926.3,340 923,342.5 918.7,340.8Z M943.3,330.7 946.6,328.6 950.9,330.7 950,334.9 945.8,335.4Z M725.4,432.5 728,428.3 732.2,424.1 734.7,419 739.8,415.6 744.9,411.4 749.1,406.3 753.3,404.1 758.4,405.1 762.7,408 766,411.4 766.5,415.6 763.5,419.8 759.3,421.5 756.7,425.8 755.9,430 751.7,432.5 745.7,434.2 739.8,435.1 733,435.6 728,435.1Z M778.7,393.6 783.8,391.1 788.9,387.7 795.6,386.5 799.9,385.2 804.9,386.8 809.2,389.4 815.9,390.2 821.9,389.4 821.9,424.1 815.9,425.8 809.2,426.6 802.4,427.4 795.6,429.1 789.7,428.3 785.5,427.4 783.8,424.1 785.5,419.8 788.9,416.4 792.3,413.1 794.8,408.8 795.6,405.5 793.1,406.3 791.4,410.5 788,411.4 786.8,408 784.6,402.9 781.3,398.7Z M793.1,445.2 797.3,441.8 802.4,438.4 809.2,435.1 815.9,431.7 821.9,428.3 821.9,452 809.2,451.1 802.4,452.8 799,450.3 794.8,447.7Z M808.7,158.1 814,159.6 818.5,168.5 817.6,174.4 812.5,170 808.7,164.1Z M825.9,171.5 831.8,170 837.7,175.9 845.1,181.8 846.6,189.2 842.2,193.7 834.8,189.2 827.4,181.8Z M822.9,193.7 828.8,189.2 837.7,192.2 846.6,196.6 851.9,204 849.6,210 842.2,210 834.8,204 827.4,202.5Z M952,251.8 954.1,249.8 956.6,249.3 959.6,250.8 962.7,251.8 965.2,250.8 965.7,247.8 967.8,260.4 965.7,257.9 962.7,256.9 958.6,256.4 955.1,255.9 952.5,254.4Z M849.4,369 1001.8,369 1001.8,488.8 837.5,488.8 837.5,487 841.5,482.8 849.4,479.9 859.3,476.9 867.2,474.9 873.1,471 880.1,467 881.4,461.1 877.1,458.1 869.2,457.1 859.3,457.1 849.4,457.1 841.5,454.1 836.5,451.2 834.5,446.2 829.6,444.8 819.7,446.2 809.8,448.2 801.9,453.1 794,449.2 789,447.8 789,439.3 795.9,438.3 801.9,436.3 807.8,433.3 813.8,429.4 815.7,426.4 811.8,424.4 805.8,425.4 797.9,427.4 789,429.4 789,390.8 797.9,389.8 805.8,388.8 813.8,389.8 819.7,386.8 825.6,383.9 829.6,379.9 835.5,375.9 841.5,373Z M1034.8,299.2 1043.3,303.4 1053.4,308.5 1063.6,313.5 1070.3,318.6 1075.4,325.4 1077.1,333.8 1076.3,337.2 1077.1,344 1079.6,350.8 1083.9,355.8 1088.1,358.4 1091.5,354.1 1090.6,345.7 1087.3,338.9 1092.7,337.2 1103,342.3 1113.3,347.5 1116.9,349.1 1116.9,312.7 1115,311.8 1105.9,305.1 1100.8,299.2Z M934.2,341.1 938.4,340.3 942.6,333.5 946.8,336.9 950.2,335.9 953.6,334.7 960.4,333.8 964.6,337.2 967.1,343.1 971.4,345.7 977.3,343.1 982.4,344.8 987.4,347.4 993.4,348.2 999.3,347.4 1002.7,344 1000.1,341.4 995.1,340.6 990.8,338.1 985.8,333.8 984.1,330.5 989.1,328.8 997.6,327.1 1006.1,326.2 1014.5,325.4 1021.3,327.1 1026.4,330.5 1031.4,333.8 1036.5,338.1 1041.6,340.6 1046.7,344 1050,349.1 1051.7,354.1 1051.7,359.2 1048.3,363.4 1045.8,366.8 1050,369.4 1056.8,371.1 1063.6,374.4 1070.3,377.8 1077.1,381.2 1083.9,384.6 1088.1,388 1094,391.4 1099.9,393.9 1105.9,394.7 1116.9,394.7 1116.9,401.5 934.2,401.5Z M1085.6,361.7 1092.3,360.1 1097.4,363.4 1098.3,367.7 1094,371.1 1088.1,370.2 1084.7,366.8Z M942.6,330.5 946,327.9 950.2,329.6 951.1,333 947.7,335.5 943.5,333.8Z M998.4,308.5 1002.7,306.8 1006.9,310.2 1006.1,315.2 1001.8,316.9 998.4,313.5Z M964.8,247.4 968.9,244.3 973,245.3 978.2,248.4 983.3,249.4 987.5,248.4 993.7,247.8 999.9,249.4 1006,251.5 1012.2,254.6 1018.4,258.7 1024.6,261.8 1030.8,264.9 1037,266 1043.2,269.1 1049.4,271.1 1055.6,273.2 1061.8,275.2 1065.9,278.3 1070,282.5 1076.2,282.9 1079.3,286.6 1082.4,290.7 1086.5,293.8 1090.7,298 1096.9,302.1 1103.1,306.2 1109.2,310.3 1115.4,315.5 1121.6,320.7 1127.8,326.8 1134,331 1140.2,335.1 1146.4,338.2 1152.6,341.3 1161.9,344.8 1161.9,358.8 1146.4,357.8 1134,354.7 1123.7,351.6 1113.4,347.5 1103.1,342.3 1092.7,337.2 1084.5,334.1 1077.3,333 1074.2,327.9 1071.1,322.7 1066.9,317.6 1061.8,312.4 1056.6,308.3 1051.5,305.2 1045.3,302.1 1039.1,299 1032.9,294.9 1026.7,289.7 1020.5,284.5 1016.4,279.4 1013.3,275.2 1009.1,271.1 1004,268 997.8,264.9 991.6,261.8 987.5,257.7 984.4,253.6 982.3,255.6 983.3,259.8 979.2,263.9 975.1,266 971,262.9 968.9,257.7 966.8,252.5Z M988.5,273.2 992.6,271.7 997.8,275.2 995.7,277.9 991.2,277.3Z M788.3,444 794.4,448.1 800.6,453.3 806.8,452.2 815.1,449.1 825.4,447.1 833.7,449.1 837.8,454.3 844,457.4 852.2,459.4 862.6,458.4 870.8,457.4 879.1,458.4 882.2,462.5 879.1,467.7 872.9,470.8 866.7,473.9 860.5,478 854.3,481.1 848.1,482.2 841.9,485.2 835.7,488.3 831.6,493.5 830.6,499.7 832.6,505.9 837.8,509 844,511 850.2,510 853.3,504.9 856.4,498.7 859.5,494.5 864.6,491.4 870.8,490.8 877,492.5 883.2,494.1 887.3,496.2 881.1,500.3 874.9,503.8 878,508 883.2,511.5 887.3,514.8 892.5,516.2 898.7,515.2 903.8,511 905.9,506.9 906.9,502.8 912.1,499.1 917.3,498.3 914.2,501.8 910,505.9 909,511 911.1,517.2 914.2,521.4 920.4,523.4 928.6,524.5 936.9,524.5 945.1,523.4 953.4,522.4 961.6,521.4 969.9,522.4 978.1,524.5 986.4,525.5 994.7,526.5 1001.9,526.5 1001.9,444Z M989,524.9 990,524.5 996.2,522.4 1002.4,519.3 1008.6,516.2 1014.8,514.1 1021,515.2 1027.2,516.2 1033.3,520.3 1039.5,523.4 1045.7,523 1051.9,526.5 1060.2,527.6 1068.4,527.6 1076.7,526.5 1084.9,524.5 1093.2,523.4 1101.5,523 1109.7,521.8 1118,521 1125.2,519.3 1132.4,521.8 1138.6,523.4 1144.8,525.9 1148.9,526.5 1155.1,524.5 1163.4,523 1171.6,522.4 1179.9,521.4 1188.1,519.3 1194.3,516.2 1200.5,514.1 1208.8,511 1217,508 1225.3,505.9 1231.5,503.8 1237.7,501.8 1245.9,499.7 1256.3,498.3 1266.6,497.6 1274.8,497 1282.1,496.6 1282.1,444 989,444Z M960,395 1100,395 1100,420 1270,420 1270,450 960,450Z M1110,415 1270,415 1270,440 1110,440Z M1115.3,319.2 1122.1,325.1 1128.8,329.3 1137.3,333.5 1145.8,337.8 1154.2,342.8 1162.7,347.1 1169.4,350.5 1176.2,351.3 1183,351.3 1189.7,351.3 1198.2,350.5 1206.7,349.6 1211.7,347.1 1216.8,346.2 1223.6,347.1 1230.3,346.7 1237.1,347.9 1243.9,349.6 1250.6,350.5 1257.4,351.3 1264.2,353.8 1269.3,356.4 1276.9,358.6 1276.9,421.5 1216.8,421.5 1211.7,414.7 1213.4,409.7 1210,404.6 1203.3,401.2 1205,394.4 1210,391.1 1211.7,386 1208.3,380.9 1201.6,375.8 1194.8,370.8 1188,366.5 1183,362.3 1174.5,364 1166.1,364.8 1162.7,368.2 1154.2,366.5 1145.8,362.3 1137.3,358.1 1128.8,353 1122.1,348.8 1117,345.4 1110.2,343.7 1101.8,341.1 1094.2,339.5 1094.2,319.2Z M1186.4,421.5 1183,418.1 1176.2,414.7 1169.4,412.2 1162.7,409.7 1157.6,408 1152.5,411.4 1145.8,409.7 1144.1,404.6 1145.8,399.5 1140.7,394.4 1133.9,391.9 1125.5,390.2 1117,386.8 1108.5,382.6 1101.8,379.2 1094.2,377.5 1094.2,421.5Z M1264,355.9 1272.8,359.2 1280.6,363.1 1290.3,367 1300,370.8 1309.7,373.8 1319.5,375.7 1329.2,377.7 1338.9,380.6 1348.6,383.5 1358.4,386.4 1364.2,389.3 1366.1,394.2 1365.2,402 1365.2,409.8 1368.1,414.6 1373.9,418.5 1381.7,422.4 1389.5,426.3 1394.4,430.2 1396.3,436 1399.2,441.8 1401.2,447.7 1264,447.7Z M1399.2,433.4 1401.2,440.8 1404.1,448.6 1406,456.4 1408,464.2 1410.9,471 1409.9,475.8 1405.1,478.8 1397.3,479.7 1389.5,480.7 1381.7,482.7 1373.9,483.6 1366.1,483.6 1358.4,485.6 1350.6,486.5 1342.8,487.5 1333.1,487.1 1323.4,488.5 1315.6,489.5 1309.7,488.5 1303.9,490.4 1298.1,491.4 1292.2,493.4 1284.5,495.3 1276.7,497.2 1270.8,498.2 1264,499.2 1264,433.4Z" fill="none" stroke="#00BFFF" stroke-width="5.4" stroke-linejoin="round"/>
<g fill="#00BFFF"><path d="M306.5,82.8 319.1,81.6 315.3,86.6 312.8,94.1 315.3,97.9 310.3,99.1 304,95.4 302.8,89.1Z"/><path d="M290.8,111.6 296.5,110.4 297.8,116.6 295.3,125.4 290.3,124.1 291.5,119.1 289,115.4Z"/><path d="M417.2,66.5 423.8,61.9 429.9,64.5 434,67.5 440.1,66 444.2,70.6 448.3,74.7 452.4,79.3 462.6,80.3 470.7,77.7 476.8,78.7 483,84.9 483,101.2 452.4,101.2 421.8,70.6Z"/><path d="M432,74.7 438.1,73.6 441.1,77.7 436,80.8 430.9,79.8Z"/><path d="M340.3,159.2 342.8,149.2 346.6,140.4 347.8,131.7 351.6,121.6 350.3,116.6 355.4,107.9 360.4,99.1 367.9,86.6 375.4,84.1 357.9,159.2Z"/><path d="M282.8,167 286.5,166.5 287.8,174.5 284.8,182 280.8,184 282.3,175.8Z"/><path d="M245.2,229.6 250.2,227.1 254,232.1 250.2,237.1 247.7,234.6Z"/><path d="M265.2,217.1 275.3,218.3 272.7,223.3 266.5,223.3Z"/><path d="M260.2,228.3 267.7,225.8 275.3,228.3 272.7,232.1 262.7,232.1Z"/><path d="M267.7,235.8 275.3,234.6 274,239.6 267.7,239.6Z"/><path d="M254,244.6 250.2,253.4 245.2,255.9 239,262.1 235.2,265.9 232.7,270.9 226.4,276.6 219.7,281.4 212.2,285.9 209.7,292.2 211.4,299.7 212.7,307.2 215.2,307.2 255.2,250.9Z"/><path d="M445.5,231.3 443,230.8 438,228.3 432.9,223.3 425.4,219.6 417.9,217.1 410.4,215.8 400.4,213.3 394.1,210.8 387.9,213.3 381.6,215.1 375.4,217.1 369.1,219.6 362.9,223.3 356.6,225.8 350.3,229.6 344.1,232.1 337.8,234.6 331.6,238.4 325.3,239.6 319.1,238.4 315.3,242.1 310.3,244.6 306.5,243.4 302.8,247.1 297.8,250.9 292.8,253.4 295,259.6 300,257.1 305,253.4 308.7,249.6 312.5,250.9 317.5,248.4 321.2,244.6 327.5,245.9 333.8,244.6 340,240.9 346.3,238.4 352.5,235.8 358.8,232.1 365.1,229.6 371.3,225.8 377.6,223.3 383.8,221.3 390.1,219.6 396.3,217.1 402.6,219.6 412.6,222.1 420.1,223.3 427.6,225.8 435.1,229.6 440.1,234.6 445.2,237.1 447.7,237.6Z"/><path d="M207.7,288 209.7,298.8 213.2,308.8 218.9,313.8 225.2,314 235.2,310 245.2,306.5 252.7,302 259,298 266.5,293 271.5,288Z"/><path d="M129.6,335.1 136.3,333.1 142.1,336.3 139.6,342.6 141.3,350.1 137.6,353.8 135.1,346.3 130.6,343.8Z"/><path d="M124.6,353.8 127.6,353.8 127.6,357.6 124.6,357.6Z"/><path d="M440.5,73.6 450.5,79.1 458,81.6 468,80.3 475.5,84.1 485.6,81.6 503.1,81.6 515.6,72.8 525.6,71.6 529.4,80.3 535.6,84.1 554.4,83.6 558.1,86.6 568.2,82.8 569.4,71.6 573.2,59.1 578.2,46.5 583.2,39 588.2,36.5 593.2,41.5 603.2,44 610.7,39 620.7,35.3 628.2,29 638.2,25.3 645.8,25.3 649.5,30.3 658.3,31.5 662.8,37.8 665.3,49.1 666.3,66.6 670.8,84.1 674.5,95.4 675.8,106.6 668.3,114.1 663.3,116.6 669.5,126.6 677,135.4 684.6,146.7 690.8,159.2 440.5,159.2Z"/><path d="M441,228.6 468,230.1 480.5,230.1 493.1,225.1 501.8,227.1 518.1,226.6 533.1,225.1 538.1,229.6 548.1,238.4 555.6,248.4 568.2,251.6 578.2,253.1 588.2,248.1 598.2,246.6 605.7,251.6 615.7,256.6 623.2,261.6 633.2,264.1 640.7,265.1 645.3,269.6 650.8,273.4 655.8,280.9 660.8,287.2 665.8,294.7 669.5,307.2 683.3,307.2 643.3,252.1 568.2,232.1 443,222.1Z"/><path d="M694.6,155 700.8,167 705.8,175.8 714.6,178.3 722.1,180.8 727.1,187 730.9,194.5 734.6,203.3 733.4,209.6 739.6,215.8 747.1,222.1 754.6,228.3 759.6,234.6 762.1,242.1 758.4,249.6 754.6,257.1 753.4,264.6 747.1,270.9 743.4,274.6 747.1,280.2 730.9,277.2 718.3,257.1 718.3,232.1 683.3,182 680.8,155Z"/><path d="M656.8,284.2 660.2,290.1 664.4,295.2 666.9,300.2 672,301.9 677.1,305.3 683.8,304.5 686.4,307.8 690.6,307 691.4,313.8 690.6,318.8 686.4,321.4 682.1,319.7 683.8,315.5 686.4,310.4 666.9,284.2Z"/><path d="M713.4,325.6 717.7,323.1 722.7,323.9 724.4,331.5 721.1,333.2 716,330.7Z"/><path d="M680.5,318.8 688.9,317.1 691.4,320.5 690.6,323.9 686.4,325.6 683,323.1Z"/><path d="M765,307.8 773.5,306.1 778.6,310.4 785.3,312.1 790.4,315.5 791.3,323.9 787,329 780.3,330.7 775.2,333.2 771,329 768.4,323.9 765,317.1Z"/><path d="M752.4,377.2 755.7,373.8 760,374.7 762.5,378 760.8,382.3 754.9,383.1Z"/><path d="M820.6,313.8 827.4,312.9 835.8,317.1 844.3,321.4 852.7,319.7 861.2,321.4 866.3,325.6 862.9,329.8 854.4,330.7 847.7,331.5 842.6,333.2 837.5,327.3 830.8,322.2 824,318.8Z"/><path d="M786.8,337.4 793.5,334.1 802,335.8 807.1,334.1 812.1,333.2 811.3,340.8 813.8,352.7 820.6,357.7 825.7,364.5 830.8,361.1 835.8,356.1 844.3,349.3 851.1,342.5 859.5,339.1 868,339.1 874.7,342.5 881.5,337.4 879.8,329 876.4,322.2 878.1,318.8 884.9,321.4 891.7,325.6 898.4,329 903.5,323.1 912,318.8 920.4,319.7 928.9,323.1 935.6,323.9 942.4,320.5 949.2,317.1 961.9,316.3 961.9,386.5 800.3,386.5 798.6,376.4 795.2,369.6 790.2,361.1 785.1,352.7 780.8,345.9 782.5,340.8Z"/><path d="M859.5,288.4 864.6,284.2 874.7,284.2 875.6,293.5 871.4,301.9 866.3,303.6 861.2,296.8Z"/><path d="M839.2,287.5 845.1,287.5 845.6,292.6 840.9,293.5Z"/><path d="M814.7,305.3 819.8,305.3 819.8,310.4 815.5,310.4Z"/><path d="M796.1,286.7 801.1,287.5 800.3,293.5 796.6,292.6Z"/><path d="M779.2,312.1 786.8,315.5 788.5,323.1 783.4,328.1 779.2,329Z"/><path d="M720.9,437.9 723.4,429.1 729.3,421.5 733.6,414.8 741.2,410.9 748.3,404.6 753.3,402.1 750,408.8 734.7,425.8 728,436.7Z"/><path d="M683.1,464.7 687.4,457.9 690.8,454.5 697.5,452.8 704.3,450.3 709.4,447.7 711.1,443.5 715.3,442.7 717.8,446.1 722.9,447.7 723.7,450.3 717.8,454.5 711.1,457.9 704.3,460.4 697.5,462.1 690.8,463.8 686.5,468Z"/><path d="M657.8,452 661.1,449.4 664.5,452.8 665.4,456.2 660.3,457.9Z"/><path d="M651,463 655.2,459.6 658.6,463 660.3,468 658.6,472.3 654.4,471.4 651.8,467.2Z"/><path d="M753.3,375.8 761.8,374.2 762.7,379.2 758.4,382.6 754.2,380.1Z"/><path d="M726.3,401.2 734.7,397 743.2,393.6 751.7,390.2 758.4,388.5 768.6,387.7 775.3,389.4 778.7,391.9 777.9,396.1 773.6,393.9 765.2,393.9 758.4,396.1 751.7,399.5 743.2,402.1 734.7,404.6 728,405.1Z"/><path d="M753.3,376.4 758.4,374 762.5,378.8 758.4,383.2 754.3,381.5Z"/><path d="M797.7,150.7 808.1,152.2 822.9,162.6 840.7,170 850.2,181.8 854,198.1 858.4,212.9 862.9,224.8 864.4,232.2 857,236.6 851,244 854,251.4 858.4,260.3 864.4,269.2 871.8,281 876.2,289.9 874.7,298.8 867.3,303.2 861.4,298.8 858.4,286.9 854,275.1 848.1,263.3 843.6,251.4 842.2,239.6 837.7,227.7 831.8,215.9 825.9,204 818.5,193.7 812.5,183.3 806.6,171.5 800.7,159.6Z"/><path d="M790.9,232.2 795.1,230.1 796.3,236 793.3,239.6Z"/><path d="M769.6,220.3 772.6,221.8 774.9,233.6 772,235.1Z"/><path d="M840.1,288.4 845.1,289.9 844.2,294.3 840.1,292.9Z"/><path d="M794.8,286.9 800.7,288.4 800.7,294.3 795.7,292.9Z"/><path d="M746.3,272.2 752.5,268.1 755.6,261.9 759.7,258.8 763.8,261.9 763.8,270.2 759.7,276.4 753.5,279.5 747.3,278.4Z"/><path d="M1293.2,278 1297.6,277.4 1300.6,281.6 1296.2,282.5Z"/><path d="M948.5,251.3 951.5,250.3 952,254.4 955.6,256.9 959.6,257.9 963.7,259.4 966.8,262.5 969.8,266.5 972.8,269.6 977.9,270.6 979.9,274.6 975.9,276.7 971.8,273.6 967.8,269.6 963.7,265.5 959.6,261.5 955.6,259.4 951.5,257.4 949,254.9Z"/><path d="M789,402.7 793.6,403.7 794,408.6 789,411.6Z"/><path d="M954.4,256.7 962.7,255.6 968.9,261.8 975.1,268 983.3,271.1 987.5,277.3 984.4,286.6 979.2,294.9 971,305.2 962.7,311.4 952.4,317.6 940,321.7 939,325.8 971,323.8 993.7,311.4 1010.2,296.9 1017.4,283.5 1009.1,273.2 994.7,266 981.3,267.6 971,263.9 966.8,254.6Z"/><path d="M1208.8,513.1 1282.1,496.6 1282.1,506.9 1266.6,506.9 1252.1,508 1237.7,511 1227.4,514.1 1217,517.2 1208.8,518.3Z"/><path d="M1292.5,278 1296.9,277.1 1300.5,281.6 1298.4,283.3 1294,281Z"/><path d="M1365.2,387 1373,388.4 1375.1,392.2 1374.1,400 1373.2,407.8 1373.9,414 1368.1,414.6 1364.2,388.4Z"/><path d="M1399.2,426.9 1404.1,428.8 1407,435 1408.2,447.7 1400.2,447.7 1396.3,436Z"/><path d="M1405.4,433.4 1408.9,444.7 1411.9,454.5 1415.7,464.2 1418.7,473.9 1418.7,480.7 1412.8,484.6 1405.1,486 1397.3,487.1 1389.5,488.5 1381.7,491.4 1375.9,495.3 1370,497.2 1362.3,495.3 1356.4,498.2 1348.6,500.2 1340.9,502.1 1333.1,503.1 1323.4,501.1 1315.6,499.2 1307.8,499.2 1300,501.1 1292.2,502.1 1284.5,503.1 1276.7,504.1 1264,506 1264,493.4 1381.7,473.9Z"/></g>
<path d="M308.3,87.8 310.8,87.1 311,92.9 308.5,92.9Z M352.8,159.2 351.6,149.2 355.4,141.7 354.1,134.2 357.9,126.6 354.1,120.4 357.9,111.6 362.9,104.1 366.6,94.1 362.6,100 365.7,95.1 370.8,87.9 374.9,82.8 378.9,80.3 384,79.3 387.1,80.3 390.2,83.3 395.3,83.3 400.4,79.3 405.5,73.6 407.5,69.6 410.6,66.5 413.6,65.5 414.1,60.4 415.7,59.4 416.7,63.5 417.7,68 421.8,70.6 425.8,72.6 427.4,77.7 432,81.8 436,84.9 441.1,87.9 445.2,93 450.3,97.1 452.4,101.2 452.4,121.6 445.5,159.2Z M295.3,164.5 301.5,163.3 305.3,168.3 309,170.8 312.8,167 316.6,162 321.6,158.3 325.3,155 445.5,155 445.5,231.3 443,230.8 438,228.3 432.9,223.3 425.4,219.6 417.9,217.1 410.4,215.8 400.4,213.3 394.1,210.8 387.9,213.3 381.6,215.1 375.4,217.1 369.1,219.6 362.9,223.3 356.6,225.8 350.3,229.6 344.1,232.1 337.8,234.6 331.6,238.4 325.3,239.6 319.1,238.4 315.3,242.1 310.3,244.6 306.5,243.4 302.8,247.1 297.8,250.9 292.8,253.4 287.8,256.6 282.8,258.4 279,262.1 275.3,265.9 274,270.9 276.5,275.9 275.3,280.9 271.5,284.7 266.5,288.4 261.5,292.2 256.5,295.9 251.5,299.7 247.7,303.4 245.2,307.2 215.2,307.2 213.9,300.9 212.2,293.4 213.9,287.2 220.2,283.4 227.7,277.2 233.9,269.6 240.2,264.6 247.7,262.1 254,255.9 255.2,250.9 262.7,248.4 265.2,243.4 272.7,240.9 277.8,239.6 279,233.3 276.5,229.6 279,223.3 284,217.1 286.5,210.8 287.8,204.6 289,197.1 290.3,189.5 291.5,182 292.8,174.5 294,168.3Z M268.2,227.3 271.7,227.3 271.7,229.1 268.2,229.1Z M213.4,288 214.7,295 217.7,302.5 221.4,308.8 225.2,312 230.2,310 236.5,307.5 244,305 250.2,301.3 254,297.5 259,295 264,291.3 266.5,288Z M440.5,159.2 440.5,84.1 443,84.1 450.5,92.9 456.8,99.1 465.5,95.4 473,94.1 480.5,87.8 488.1,89.1 496.8,87.8 508.1,90.4 516.8,95.4 525.6,92.9 535.6,92.9 545.6,89.6 554.4,89.1 559.4,95.4 568.2,89.1 578.2,82.8 585.7,80.3 579.1,83.8 586.5,79.2 590.2,74.5 594,69 597.7,65.2 603.3,66.2 608.8,70.8 616.3,71.7 623.7,70.8 629.3,70.8 626.5,63.4 622.8,56.9 620.4,50.3 620.4,44.8 624.7,38.3 631.2,32.7 636.7,28.4 641.4,27.1 643.3,29.5 640.1,34.5 635.8,39.2 633,42.9 631.2,47.6 629.3,52.2 631.2,57.8 634,63.4 638.6,64.3 643.3,61.5 646,55 647.5,48.5 647.9,41 649.8,35.5 653.5,32.7 658.1,33.6 660.9,38.3 661.9,46.6 662.4,57.8 662.8,69 663.7,76.4 665,83.8 668.4,91.3 671.2,96.9 670.2,102.4 662.8,105.2 655.3,106.2 647.9,107.1 642.3,109 647,113.6 652.6,119.2 657.2,125 664.5,126.6 670.8,136.7 677,146.7 684.6,159.2Z M441,155 683.3,155 689.6,162 695.8,170.8 698.3,177 690.8,183.3 689.6,189.5 693.3,198.3 700.8,204.6 708.3,212.1 715.8,219.6 724.6,227.1 733.4,232.1 740.9,237.1 745.9,242.1 742.1,247.1 735.9,250.9 728.4,253.4 723.4,257.1 725.9,262.1 730.9,267.1 728.4,272.1 732.1,279.7 739.6,284.7 750.9,283.4 760.9,285.9 755.9,292.2 748.4,295.9 744.6,300.9 747.1,307.2 682,307.2 680.8,302.2 675.8,297.2 670.8,292.2 665.8,285.9 660.8,279.7 655.8,273.4 650.8,267.1 647,260.9 643.3,255.9 637,253.4 628.2,252.1 619.5,249.6 615.7,243.4 608.2,239.6 600.7,237.1 593.2,235.8 585.7,237.1 579.4,240.9 573.2,243.4 568.2,239.6 560.6,235.8 553.1,230.8 545.6,227.1 538.1,224.6 533.1,220.8 525.6,222.1 518.1,222.6 509.3,223.3 501.8,222.1 496.8,217.1 490.6,219.6 483.1,224.6 475.5,227.1 468,224.6 460.5,225.8 450.5,224.6 441,223.3Z M666.1,284.2 670.3,290.1 673.7,294.3 677.9,297.7 680.5,296 683.8,291.8 687.2,290.1 690.6,292.6 691.4,298.5 690.6,305.3 692.3,312.1 694.3,316.3 700.8,314.6 705,312.9 705,308.7 704.1,306.1 706.7,304.5 710.1,306.1 714.3,305.3 717.7,307.8 721.1,310.4 723.6,314.6 724.4,320.5 726.1,327.3 729.5,332.4 734.6,331.5 738.8,327.3 742.2,321.4 744.7,315.5 747.3,308.7 749.8,303.6 751.5,301.1 754,297.7 758.3,294.3 761.7,290.9 765,287.5 766.7,284.2Z M839.2,386.5 842.6,377.2 851.1,374.7 859.5,373 871.4,371.3 878.1,368.7 883.2,369.6 888.3,363.7 898.4,361.1 908.6,357.7 915.3,359.4 920.4,362 923.8,357.7 922.1,352.7 925.5,347.6 932.3,344.2 940.7,342.5 939,347.6 942.4,351 949.2,348.4 952.6,342.5 949.2,335.8 952.6,333.2 961.9,334.1 961.9,386.5Z M917.9,335.8 921.3,334.1 925.5,335.8 926.3,340 923,342.5 918.7,340.8Z M943.3,330.7 946.6,328.6 950.9,330.7 950,334.9 945.8,335.4Z M725.4,432.5 728,428.3 732.2,424.1 734.7,419 739.8,415.6 744.9,411.4 749.1,406.3 753.3,404.1 758.4,405.1 762.7,408 766,411.4 766.5,415.6 763.5,419.8 759.3,421.5 756.7,425.8 755.9,430 751.7,432.5 745.7,434.2 739.8,435.1 733,435.6 728,435.1Z M778.7,393.6 783.8,391.1 788.9,387.7 795.6,386.5 799.9,385.2 804.9,386.8 809.2,389.4 815.9,390.2 821.9,389.4 821.9,424.1 815.9,425.8 809.2,426.6 802.4,427.4 795.6,429.1 789.7,428.3 785.5,427.4 783.8,424.1 785.5,419.8 788.9,416.4 792.3,413.1 794.8,408.8 795.6,405.5 793.1,406.3 791.4,410.5 788,411.4 786.8,408 784.6,402.9 781.3,398.7Z M793.1,445.2 797.3,441.8 802.4,438.4 809.2,435.1 815.9,431.7 821.9,428.3 821.9,452 809.2,451.1 802.4,452.8 799,450.3 794.8,447.7Z M808.7,158.1 814,159.6 818.5,168.5 817.6,174.4 812.5,170 808.7,164.1Z M825.9,171.5 831.8,170 837.7,175.9 845.1,181.8 846.6,189.2 842.2,193.7 834.8,189.2 827.4,181.8Z M822.9,193.7 828.8,189.2 837.7,192.2 846.6,196.6 851.9,204 849.6,210 842.2,210 834.8,204 827.4,202.5Z M952,251.8 954.1,249.8 956.6,249.3 959.6,250.8 962.7,251.8 965.2,250.8 965.7,247.8 967.8,260.4 965.7,257.9 962.7,256.9 958.6,256.4 955.1,255.9 952.5,254.4Z M849.4,369 1001.8,369 1001.8,488.8 837.5,488.8 837.5,487 841.5,482.8 849.4,479.9 859.3,476.9 867.2,474.9 873.1,471 880.1,467 881.4,461.1 877.1,458.1 869.2,457.1 859.3,457.1 849.4,457.1 841.5,454.1 836.5,451.2 834.5,446.2 829.6,444.8 819.7,446.2 809.8,448.2 801.9,453.1 794,449.2 789,447.8 789,439.3 795.9,438.3 801.9,436.3 807.8,433.3 813.8,429.4 815.7,426.4 811.8,424.4 805.8,425.4 797.9,427.4 789,429.4 789,390.8 797.9,389.8 805.8,388.8 813.8,389.8 819.7,386.8 825.6,383.9 829.6,379.9 835.5,375.9 841.5,373Z M1034.8,299.2 1043.3,303.4 1053.4,308.5 1063.6,313.5 1070.3,318.6 1075.4,325.4 1077.1,333.8 1076.3,337.2 1077.1,344 1079.6,350.8 1083.9,355.8 1088.1,358.4 1091.5,354.1 1090.6,345.7 1087.3,338.9 1092.7,337.2 1103,342.3 1113.3,347.5 1116.9,349.1 1116.9,312.7 1115,311.8 1105.9,305.1 1100.8,299.2Z M934.2,341.1 938.4,340.3 942.6,333.5 946.8,336.9 950.2,335.9 953.6,334.7 960.4,333.8 964.6,337.2 967.1,343.1 971.4,345.7 977.3,343.1 982.4,344.8 987.4,347.4 993.4,348.2 999.3,347.4 1002.7,344 1000.1,341.4 995.1,340.6 990.8,338.1 985.8,333.8 984.1,330.5 989.1,328.8 997.6,327.1 1006.1,326.2 1014.5,325.4 1021.3,327.1 1026.4,330.5 1031.4,333.8 1036.5,338.1 1041.6,340.6 1046.7,344 1050,349.1 1051.7,354.1 1051.7,359.2 1048.3,363.4 1045.8,366.8 1050,369.4 1056.8,371.1 1063.6,374.4 1070.3,377.8 1077.1,381.2 1083.9,384.6 1088.1,388 1094,391.4 1099.9,393.9 1105.9,394.7 1116.9,394.7 1116.9,401.5 934.2,401.5Z M1085.6,361.7 1092.3,360.1 1097.4,363.4 1098.3,367.7 1094,371.1 1088.1,370.2 1084.7,366.8Z M942.6,330.5 946,327.9 950.2,329.6 951.1,333 947.7,335.5 943.5,333.8Z M998.4,308.5 1002.7,306.8 1006.9,310.2 1006.1,315.2 1001.8,316.9 998.4,313.5Z M964.8,247.4 968.9,244.3 973,245.3 978.2,248.4 983.3,249.4 987.5,248.4 993.7,247.8 999.9,249.4 1006,251.5 1012.2,254.6 1018.4,258.7 1024.6,261.8 1030.8,264.9 1037,266 1043.2,269.1 1049.4,271.1 1055.6,273.2 1061.8,275.2 1065.9,278.3 1070,282.5 1076.2,282.9 1079.3,286.6 1082.4,290.7 1086.5,293.8 1090.7,298 1096.9,302.1 1103.1,306.2 1109.2,310.3 1115.4,315.5 1121.6,320.7 1127.8,326.8 1134,331 1140.2,335.1 1146.4,338.2 1152.6,341.3 1161.9,344.8 1161.9,358.8 1146.4,357.8 1134,354.7 1123.7,351.6 1113.4,347.5 1103.1,342.3 1092.7,337.2 1084.5,334.1 1077.3,333 1074.2,327.9 1071.1,322.7 1066.9,317.6 1061.8,312.4 1056.6,308.3 1051.5,305.2 1045.3,302.1 1039.1,299 1032.9,294.9 1026.7,289.7 1020.5,284.5 1016.4,279.4 1013.3,275.2 1009.1,271.1 1004,268 997.8,264.9 991.6,261.8 987.5,257.7 984.4,253.6 982.3,255.6 983.3,259.8 979.2,263.9 975.1,266 971,262.9 968.9,257.7 966.8,252.5Z M988.5,273.2 992.6,271.7 997.8,275.2 995.7,277.9 991.2,277.3Z M788.3,444 794.4,448.1 800.6,453.3 806.8,452.2 815.1,449.1 825.4,447.1 833.7,449.1 837.8,454.3 844,457.4 852.2,459.4 862.6,458.4 870.8,457.4 879.1,458.4 882.2,462.5 879.1,467.7 872.9,470.8 866.7,473.9 860.5,478 854.3,481.1 848.1,482.2 841.9,485.2 835.7,488.3 831.6,493.5 830.6,499.7 832.6,505.9 837.8,509 844,511 850.2,510 853.3,504.9 856.4,498.7 859.5,494.5 864.6,491.4 870.8,490.8 877,492.5 883.2,494.1 887.3,496.2 881.1,500.3 874.9,503.8 878,508 883.2,511.5 887.3,514.8 892.5,516.2 898.7,515.2 903.8,511 905.9,506.9 906.9,502.8 912.1,499.1 917.3,498.3 914.2,501.8 910,505.9 909,511 911.1,517.2 914.2,521.4 920.4,523.4 928.6,524.5 936.9,524.5 945.1,523.4 953.4,522.4 961.6,521.4 969.9,522.4 978.1,524.5 986.4,525.5 994.7,526.5 1001.9,526.5 1001.9,444Z M989,524.9 990,524.5 996.2,522.4 1002.4,519.3 1008.6,516.2 1014.8,514.1 1021,515.2 1027.2,516.2 1033.3,520.3 1039.5,523.4 1045.7,523 1051.9,526.5 1060.2,527.6 1068.4,527.6 1076.7,526.5 1084.9,524.5 1093.2,523.4 1101.5,523 1109.7,521.8 1118,521 1125.2,519.3 1132.4,521.8 1138.6,523.4 1144.8,525.9 1148.9,526.5 1155.1,524.5 1163.4,523 1171.6,522.4 1179.9,521.4 1188.1,519.3 1194.3,516.2 1200.5,514.1 1208.8,511 1217,508 1225.3,505.9 1231.5,503.8 1237.7,501.8 1245.9,499.7 1256.3,498.3 1266.6,497.6 1274.8,497 1282.1,496.6 1282.1,444 989,444Z M960,395 1100,395 1100,420 1270,420 1270,450 960,450Z M1110,415 1270,415 1270,440 1110,440Z M1115.3,319.2 1122.1,325.1 1128.8,329.3 1137.3,333.5 1145.8,337.8 1154.2,342.8 1162.7,347.1 1169.4,350.5 1176.2,351.3 1183,351.3 1189.7,351.3 1198.2,350.5 1206.7,349.6 1211.7,347.1 1216.8,346.2 1223.6,347.1 1230.3,346.7 1237.1,347.9 1243.9,349.6 1250.6,350.5 1257.4,351.3 1264.2,353.8 1269.3,356.4 1276.9,358.6 1276.9,421.5 1216.8,421.5 1211.7,414.7 1213.4,409.7 1210,404.6 1203.3,401.2 1205,394.4 1210,391.1 1211.7,386 1208.3,380.9 1201.6,375.8 1194.8,370.8 1188,366.5 1183,362.3 1174.5,364 1166.1,364.8 1162.7,368.2 1154.2,366.5 1145.8,362.3 1137.3,358.1 1128.8,353 1122.1,348.8 1117,345.4 1110.2,343.7 1101.8,341.1 1094.2,339.5 1094.2,319.2Z M1186.4,421.5 1183,418.1 1176.2,414.7 1169.4,412.2 1162.7,409.7 1157.6,408 1152.5,411.4 1145.8,409.7 1144.1,404.6 1145.8,399.5 1140.7,394.4 1133.9,391.9 1125.5,390.2 1117,386.8 1108.5,382.6 1101.8,379.2 1094.2,377.5 1094.2,421.5Z M1264,355.9 1272.8,359.2 1280.6,363.1 1290.3,367 1300,370.8 1309.7,373.8 1319.5,375.7 1329.2,377.7 1338.9,380.6 1348.6,383.5 1358.4,386.4 1364.2,389.3 1366.1,394.2 1365.2,402 1365.2,409.8 1368.1,414.6 1373.9,418.5 1381.7,422.4 1389.5,426.3 1394.4,430.2 1396.3,436 1399.2,441.8 1401.2,447.7 1264,447.7Z M1399.2,433.4 1401.2,440.8 1404.1,448.6 1406,456.4 1408,464.2 1410.9,471 1409.9,475.8 1405.1,478.8 1397.3,479.7 1389.5,480.7 1381.7,482.7 1373.9,483.6 1366.1,483.6 1358.4,485.6 1350.6,486.5 1342.8,487.5 1333.1,487.1 1323.4,488.5 1315.6,489.5 1309.7,488.5 1303.9,490.4 1298.1,491.4 1292.2,493.4 1284.5,495.3 1276.7,497.2 1270.8,498.2 1264,499.2 1264,433.4Z" fill="none" stroke="#6495ED" stroke-width="3.7" stroke-linejoin="round"/>
<g fill="#6495ED"><path d="M306.5,85.3 311.5,84.1 312.8,91.6 311.5,96.6 306.5,94.1 304.8,89.1Z"/><path d="M292.8,112.9 295.8,112.9 295.3,119.1 294,122.9 292.3,119.1Z"/><path d="M417.7,68 421.8,66.5 427.9,67.5 432,70.6 430.9,74.7 427.9,78.7 432,82.8 440.1,80.8 444.2,75.7 450.3,80.8 457.5,81.8 462.6,83.8 460.5,88.9 455.4,91 462.6,97.1 472.8,86.9 483,93 483,101.2 452.4,101.2Z"/><path d="M346.6,159.2 347.8,149.2 350.3,141.7 349.8,134.2 353.3,126.6 350.3,120.4 354.1,111.6 359.1,104.1 362.9,94.1 370.4,84.1 375.4,84.1 357.9,159.2Z"/><path d="M283.3,169 286,169 286.5,174 284,175.8Z"/><path d="M266.5,226.6 272.7,226.6 273.2,229.6 266.5,229.6Z"/><path d="M445.5,231.3 443,230.8 438,228.3 432.9,223.3 425.4,219.6 417.9,217.1 410.4,215.8 400.4,213.3 394.1,210.8 387.9,213.3 381.6,215.1 375.4,217.1 369.1,219.6 362.9,223.3 356.6,225.8 350.3,229.6 344.1,232.1 337.8,234.6 331.6,238.4 325.3,239.6 319.1,238.4 315.3,242.1 310.3,244.6 306.5,243.4 302.8,247.1 297.8,250.9 292.8,253.4 294.1,257.1 299.1,254.6 304.1,250.9 307.9,247.1 311.6,248.4 316.6,245.9 320.4,242.1 326.6,243.4 332.9,242.1 339.1,238.4 345.4,235.8 351.7,233.3 357.9,229.6 364.2,227.1 370.4,223.3 376.7,220.8 382.9,218.8 389.2,217.1 395.5,214.6 401.7,217.1 411.7,219.6 419.2,220.8 426.8,223.3 434.3,227.1 439.3,232.1 444.3,234.6 446.8,235.1Z"/><path d="M211.4,288 212.7,297.5 215.7,305.5 220.2,311.3 225.2,313 235.2,309 245.2,305.5 252.2,301 257.7,297 265.2,292 269,288Z"/><path d="M138.1,343.8 140.6,346.3 139.6,351.3 137.6,350.1Z"/><path d="M440.5,79.6 450.5,84.1 455.5,91.6 465.5,91.6 473,89.1 480.5,84.1 496.8,84.1 508.1,86.6 516.8,91.6 525.6,89.1 535.6,89.1 545.6,86.1 554.4,85.3 559.4,91.6 568.2,85.3 571.9,81.6 573.2,69.1 579.4,61.6 588.2,59.1 593.2,51.6 598.2,46.5 605.7,49.1 613.2,51.6 618.2,46.5 620.7,39 627,32.8 638.2,26.5 644.5,26.5 648.3,32.8 654.5,32 660.3,34 663.3,42.8 665.3,56.6 666.3,71.6 669.5,84.1 672,95.4 672.8,106.6 663.3,110.4 655.8,111.6 665.8,122.9 673.3,134.2 680.8,146.7 687.1,159.2 440.5,159.2Z"/><path d="M441,226.6 468,228.3 480.5,228.3 493.1,222.6 501.8,225.1 518.1,225.1 533.1,223.3 538.1,227.1 549.4,236.6 554.4,243.4 563.2,246.6 573.2,250.1 583.2,245.1 593.2,242.6 603.2,246.6 613.2,252.9 620.7,257.6 630.7,260.1 640.7,261.4 645.8,265.9 652,272.1 658.3,280.9 664.5,289.7 669.5,297.2 674.5,307.2 683.3,307.2 643.3,252.1 568.2,232.1 443,222.1Z"/><path d="M693.3,155 700.8,169.5 704.6,178.3 700.8,187 702.1,194.5 708.3,203.3 717.1,210.8 725.9,219.6 734.6,227.1 743.4,232.1 750.9,237.1 754.6,243.4 754.6,248.4 750.9,253.4 743.4,257.1 738.4,262.1 733.4,267.1 734.6,274.6 740.9,280.9 750.9,279.7 763.4,284.7 765.9,288.4 759.6,293.4 752.1,297.2 749.6,302.2 752.1,307.2 730.9,307.2 718.3,257.1 718.3,232.1 683.3,182 680.8,155Z"/><path d="M723.6,323.1 725.3,330.7 729.5,334.9 736.3,334.1 741.4,329 744.7,322.2 748.1,313.8 751.5,307 755.7,298.5 761.7,293.5 768.4,286.7 768.4,284.2 751.5,284.2 734.6,318.8Z"/><path d="M661.8,284.2 665.2,290.1 669.5,295.2 673.7,298.5 677.9,299.4 681.3,297.7 684.7,293.5 688.1,292.1 689.8,295.2 689.2,305.3 690.6,312.9 693.1,318 700.8,316.3 666.9,284.2Z"/><path d="M766.7,310.4 771.8,308.7 776,312.1 778.6,316.3 783.6,315.5 787.9,317.1 788.7,322.2 785.3,326.4 780.3,327.3 776,324.8 771.8,321.4 767.6,317.1Z"/><path d="M854.4,324.8 857.8,324.2 859.5,327.3 856.1,328.6Z"/><path d="M864.6,286.7 871.4,286.7 872.2,293.5 868,295.2Z"/><path d="M781.4,316.3 786.8,318 786.8,324.8 781.4,326.4Z"/><path d="M802,386.5 805.4,373 810.5,364.5 818.9,362 822.3,367.9 817.2,374.7 820.6,379.7 829.1,376.4 837.5,369.6 847.7,364.5 852.7,356.1 859.5,350.1 868,348.4 878.1,347.6 884.9,348.4 891.7,350.1 901.8,348.4 908.6,342.5 912,335.8 908.6,332.4 913.6,327.3 918.7,323.1 925.5,325.6 932.3,328.1 939,327.3 945.8,324.8 952.6,323.1 961.9,321.4 961.9,386.5Z"/><path d="M723.2,435.6 725.9,427.4 731.4,420.7 735.6,415.6 741.5,412.6 748.3,406.3 753.3,402.9 750,408.8 734.7,425.8 728,435.9Z"/><path d="M776.7,392.8 782.1,388.9 787.2,385.5 793.1,383.1 797.3,380.9 800.7,377.5 801.6,374.2 809.2,374.2 792.3,390.2Z"/><path d="M694.1,456.2 699.2,452.8 706,451.1 711.1,452 716.1,451.1 721.2,449.4 714.4,455.4 707.7,458.7 700.9,459.6 695.8,459.6Z"/><path d="M684,463 688.2,461.3 689.1,464.7 684.8,467.2Z"/><path d="M655.2,468 657.8,467.2 658.6,470.6 656.1,471.4Z"/><path d="M729.7,400.4 736.4,399.5 734.7,403.8 729.7,404.6Z"/><path d="M755,391.1 761.8,389.9 763.5,392.8 756.7,394.5Z"/><path d="M803.7,153.7 811.1,155.2 820,162.6 827.4,167 837.7,171.5 848.1,183.3 851,198.1 854,208.5 852.5,218.8 851,227.7 845.1,232.2 839.2,226.2 834.8,215.9 830.3,205.5 822.9,201.1 820,193.7 814,186.3 811.1,174.4 805.7,165.5Z"/><path d="M864.4,282.5 870.3,285.5 872.7,292.9 868.8,295.8 864.4,291.4Z"/><path d="M966.8,266 975.1,271.1 984.4,269.1 993.7,267 1006,274.2 1012.2,282.5 1010.2,292.8 1001.9,303.1 989.5,313.4 971,323.8 952.4,325.8 964.8,317.6 977.2,307.2 984.4,296.9 989.5,286.6 988.5,276.3 979.2,271.1Z"/><path d="M1003,275 1016,280 1042,301 1000,301Z"/><path d="M1217,509 1227.4,504.9 1237.7,502.4 1250.1,499.1 1266.6,497.6 1282.1,497 1282.1,503.8 1268.6,503.8 1254.2,505.3 1241.8,508 1231.5,510 1221.2,513.1 1212.9,515.2Z"/><path d="M1365.2,388 1371,389.9 1372.4,396.1 1371.4,403.9 1370.4,411.7 1366.1,411.7 1364.2,388.4Z"/><path d="M1394.9,427.3 1400.8,431.1 1403.7,438.9 1405.1,447.7 1400.2,447.7 1396.3,436Z"/><path d="M1404.1,433.4 1407,442.8 1409.9,454.5 1412.8,464.2 1415.7,472.9 1414.8,478.8 1408.9,482.7 1401.2,483.6 1393.4,484.6 1385.6,486.5 1379.8,488.5 1373.9,489.5 1370,491.4 1362.3,490.4 1354.5,491.4 1346.7,492.4 1338.9,493.4 1331.1,495.3 1323.4,495.3 1315.6,494.3 1309.7,493.4 1303.9,495.3 1296.1,497.2 1288.3,499.2 1280.6,501.1 1272.8,502.1 1264,503.1 1264,493.4 1381.7,473.9Z"/><path d="M1366.5,493.4 1371.6,488.7 1376.7,493.4 1371.6,498Z"/><path d="M1376.7,499.8 1381.3,495.7 1386,499.8 1381.3,503.9Z"/><path d="M1400.4,489.1 1405.1,485 1409.7,489.1 1405.1,493.2Z"/><path d="M1397.5,505.4 1401.7,501.3 1406,505.4 1401.7,509.5Z"/></g>
<path d="M308.3,87.8 310.8,87.1 311,92.9 308.5,92.9Z M352.8,159.2 351.6,149.2 355.4,141.7 354.1,134.2 357.9,126.6 354.1,120.4 357.9,111.6 362.9,104.1 366.6,94.1 362.6,100 365.7,95.1 370.8,87.9 374.9,82.8 378.9,80.3 384,79.3 387.1,80.3 390.2,83.3 395.3,83.3 400.4,79.3 405.5,73.6 407.5,69.6 410.6,66.5 413.6,65.5 414.1,60.4 415.7,59.4 416.7,63.5 417.7,68 421.8,70.6 425.8,72.6 427.4,77.7 432,81.8 436,84.9 441.1,87.9 445.2,93 450.3,97.1 452.4,101.2 452.4,121.6 445.5,159.2Z M295.3,164.5 301.5,163.3 305.3,168.3 309,170.8 312.8,167 316.6,162 321.6,158.3 325.3,155 445.5,155 445.5,231.3 443,230.8 438,228.3 432.9,223.3 425.4,219.6 417.9,217.1 410.4,215.8 400.4,213.3 394.1,210.8 387.9,213.3 381.6,215.1 375.4,217.1 369.1,219.6 362.9,223.3 356.6,225.8 350.3,229.6 344.1,232.1 337.8,234.6 331.6,238.4 325.3,239.6 319.1,238.4 315.3,242.1 310.3,244.6 306.5,243.4 302.8,247.1 297.8,250.9 292.8,253.4 287.8,256.6 282.8,258.4 279,262.1 275.3,265.9 274,270.9 276.5,275.9 275.3,280.9 271.5,284.7 266.5,288.4 261.5,292.2 256.5,295.9 251.5,299.7 247.7,303.4 245.2,307.2 215.2,307.2 213.9,300.9 212.2,293.4 213.9,287.2 220.2,283.4 227.7,277.2 233.9,269.6 240.2,264.6 247.7,262.1 254,255.9 255.2,250.9 262.7,248.4 265.2,243.4 272.7,240.9 277.8,239.6 279,233.3 276.5,229.6 279,223.3 284,217.1 286.5,210.8 287.8,204.6 289,197.1 290.3,189.5 291.5,182 292.8,174.5 294,168.3Z M268.2,227.3 271.7,227.3 271.7,229.1 268.2,229.1Z M213.4,288 214.7,295 217.7,302.5 221.4,308.8 225.2,312 230.2,310 236.5,307.5 244,305 250.2,301.3 254,297.5 259,295 264,291.3 266.5,288Z M440.5,159.2 440.5,84.1 443,84.1 450.5,92.9 456.8,99.1 465.5,95.4 473,94.1 480.5,87.8 488.1,89.1 496.8,87.8 508.1,90.4 516.8,95.4 525.6,92.9 535.6,92.9 545.6,89.6 554.4,89.1 559.4,95.4 568.2,89.1 578.2,82.8 585.7,80.3 579.1,83.8 586.5,79.2 590.2,74.5 594,69 597.7,65.2 603.3,66.2 608.8,70.8 616.3,71.7 623.7,70.8 629.3,70.8 626.5,63.4 622.8,56.9 620.4,50.3 620.4,44.8 624.7,38.3 631.2,32.7 636.7,28.4 641.4,27.1 643.3,29.5 640.1,34.5 635.8,39.2 633,42.9 631.2,47.6 629.3,52.2 631.2,57.8 634,63.4 638.6,64.3 643.3,61.5 646,55 647.5,48.5 647.9,41 649.8,35.5 653.5,32.7 658.1,33.6 660.9,38.3 661.9,46.6 662.4,57.8 662.8,69 663.7,76.4 665,83.8 668.4,91.3 671.2,96.9 670.2,102.4 662.8,105.2 655.3,106.2 647.9,107.1 642.3,109 647,113.6 652.6,119.2 657.2,125 664.5,126.6 670.8,136.7 677,146.7 684.6,159.2Z M441,155 683.3,155 689.6,162 695.8,170.8 698.3,177 690.8,183.3 689.6,189.5 693.3,198.3 700.8,204.6 708.3,212.1 715.8,219.6 724.6,227.1 733.4,232.1 740.9,237.1 745.9,242.1 742.1,247.1 735.9,250.9 728.4,253.4 723.4,257.1 725.9,262.1 730.9,267.1 728.4,272.1 732.1,279.7 739.6,284.7 750.9,283.4 760.9,285.9 755.9,292.2 748.4,295.9 744.6,300.9 747.1,307.2 682,307.2 680.8,302.2 675.8,297.2 670.8,292.2 665.8,285.9 660.8,279.7 655.8,273.4 650.8,267.1 647,260.9 643.3,255.9 637,253.4 628.2,252.1 619.5,249.6 615.7,243.4 608.2,239.6 600.7,237.1 593.2,235.8 585.7,237.1 579.4,240.9 573.2,243.4 568.2,239.6 560.6,235.8 553.1,230.8 545.6,227.1 538.1,224.6 533.1,220.8 525.6,222.1 518.1,222.6 509.3,223.3 501.8,222.1 496.8,217.1 490.6,219.6 483.1,224.6 475.5,227.1 468,224.6 460.5,225.8 450.5,224.6 441,223.3Z M666.1,284.2 670.3,290.1 673.7,294.3 677.9,297.7 680.5,296 683.8,291.8 687.2,290.1 690.6,292.6 691.4,298.5 690.6,305.3 692.3,312.1 694.3,316.3 700.8,314.6 705,312.9 705,308.7 704.1,306.1 706.7,304.5 710.1,306.1 714.3,305.3 717.7,307.8 721.1,310.4 723.6,314.6 724.4,320.5 726.1,327.3 729.5,332.4 734.6,331.5 738.8,327.3 742.2,321.4 744.7,315.5 747.3,308.7 749.8,303.6 751.5,301.1 754,297.7 758.3,294.3 761.7,290.9 765,287.5 766.7,284.2Z M839.2,386.5 842.6,377.2 851.1,374.7 859.5,373 871.4,371.3 878.1,368.7 883.2,369.6 888.3,363.7 898.4,361.1 908.6,357.7 915.3,359.4 920.4,362 923.8,357.7 922.1,352.7 925.5,347.6 932.3,344.2 940.7,342.5 939,347.6 942.4,351 949.2,348.4 952.6,342.5 949.2,335.8 952.6,333.2 961.9,334.1 961.9,386.5Z M917.9,335.8 921.3,334.1 925.5,335.8 926.3,340 923,342.5 918.7,340.8Z M943.3,330.7 946.6,328.6 950.9,330.7 950,334.9 945.8,335.4Z M725.4,432.5 728,428.3 732.2,424.1 734.7,419 739.8,415.6 744.9,411.4 749.1,406.3 753.3,404.1 758.4,405.1 762.7,408 766,411.4 766.5,415.6 763.5,419.8 759.3,421.5 756.7,425.8 755.9,430 751.7,432.5 745.7,434.2 739.8,435.1 733,435.6 728,435.1Z M778.7,393.6 783.8,391.1 788.9,387.7 795.6,386.5 799.9,385.2 804.9,386.8 809.2,389.4 815.9,390.2 821.9,389.4 821.9,424.1 815.9,425.8 809.2,426.6 802.4,427.4 795.6,429.1 789.7,428.3 785.5,427.4 783.8,424.1 785.5,419.8 788.9,416.4 792.3,413.1 794.8,408.8 795.6,405.5 793.1,406.3 791.4,410.5 788,411.4 786.8,408 784.6,402.9 781.3,398.7Z M793.1,445.2 797.3,441.8 802.4,438.4 809.2,435.1 815.9,431.7 821.9,428.3 821.9,452 809.2,451.1 802.4,452.8 799,450.3 794.8,447.7Z M808.7,158.1 814,159.6 818.5,168.5 817.6,174.4 812.5,170 808.7,164.1Z M825.9,171.5 831.8,170 837.7,175.9 845.1,181.8 846.6,189.2 842.2,193.7 834.8,189.2 827.4,181.8Z M822.9,193.7 828.8,189.2 837.7,192.2 846.6,196.6 851.9,204 849.6,210 842.2,210 834.8,204 827.4,202.5Z M952,251.8 954.1,249.8 956.6,249.3 959.6,250.8 962.7,251.8 965.2,250.8 965.7,247.8 967.8,260.4 965.7,257.9 962.7,256.9 958.6,256.4 955.1,255.9 952.5,254.4Z M849.4,369 1001.8,369 1001.8,488.8 837.5,488.8 837.5,487 841.5,482.8 849.4,479.9 859.3,476.9 867.2,474.9 873.1,471 880.1,467 881.4,461.1 877.1,458.1 869.2,457.1 859.3,457.1 849.4,457.1 841.5,454.1 836.5,451.2 834.5,446.2 829.6,444.8 819.7,446.2 809.8,448.2 801.9,453.1 794,449.2 789,447.8 789,439.3 795.9,438.3 801.9,436.3 807.8,433.3 813.8,429.4 815.7,426.4 811.8,424.4 805.8,425.4 797.9,427.4 789,429.4 789,390.8 797.9,389.8 805.8,388.8 813.8,389.8 819.7,386.8 825.6,383.9 829.6,379.9 835.5,375.9 841.5,373Z M1034.8,299.2 1043.3,303.4 1053.4,308.5 1063.6,313.5 1070.3,318.6 1075.4,325.4 1077.1,333.8 1076.3,337.2 1077.1,344 1079.6,350.8 1083.9,355.8 1088.1,358.4 1091.5,354.1 1090.6,345.7 1087.3,338.9 1092.7,337.2 1103,342.3 1113.3,347.5 1116.9,349.1 1116.9,312.7 1115,311.8 1105.9,305.1 1100.8,299.2Z M934.2,341.1 938.4,340.3 942.6,333.5 946.8,336.9 950.2,335.9 953.6,334.7 960.4,333.8 964.6,337.2 967.1,343.1 971.4,345.7 977.3,343.1 982.4,344.8 987.4,347.4 993.4,348.2 999.3,347.4 1002.7,344 1000.1,341.4 995.1,340.6 990.8,338.1 985.8,333.8 984.1,330.5 989.1,328.8 997.6,327.1 1006.1,326.2 1014.5,325.4 1021.3,327.1 1026.4,330.5 1031.4,333.8 1036.5,338.1 1041.6,340.6 1046.7,344 1050,349.1 1051.7,354.1 1051.7,359.2 1048.3,363.4 1045.8,366.8 1050,369.4 1056.8,371.1 1063.6,374.4 1070.3,377.8 1077.1,381.2 1083.9,384.6 1088.1,388 1094,391.4 1099.9,393.9 1105.9,394.7 1116.9,394.7 1116.9,401.5 934.2,401.5Z M1085.6,361.7 1092.3,360.1 1097.4,363.4 1098.3,367.7 1094,371.1 1088.1,370.2 1084.7,366.8Z M942.6,330.5 946,327.9 950.2,329.6 951.1,333 947.7,335.5 943.5,333.8Z M998.4,308.5 1002.7,306.8 1006.9,310.2 1006.1,315.2 1001.8,316.9 998.4,313.5Z M964.8,247.4 968.9,244.3 973,245.3 978.2,248.4 983.3,249.4 987.5,248.4 993.7,247.8 999.9,249.4 1006,251.5 1012.2,254.6 1018.4,258.7 1024.6,261.8 1030.8,264.9 1037,266 1043.2,269.1 1049.4,271.1 1055.6,273.2 1061.8,275.2 1065.9,278.3 1070,282.5 1076.2,282.9 1079.3,286.6 1082.4,290.7 1086.5,293.8 1090.7,298 1096.9,302.1 1103.1,306.2 1109.2,310.3 1115.4,315.5 1121.6,320.7 1127.8,326.8 1134,331 1140.2,335.1 1146.4,338.2 1152.6,341.3 1161.9,344.8 1161.9,358.8 1146.4,357.8 1134,354.7 1123.7,351.6 1113.4,347.5 1103.1,342.3 1092.7,337.2 1084.5,334.1 1077.3,333 1074.2,327.9 1071.1,322.7 1066.9,317.6 1061.8,312.4 1056.6,308.3 1051.5,305.2 1045.3,302.1 1039.1,299 1032.9,294.9 1026.7,289.7 1020.5,284.5 1016.4,279.4 1013.3,275.2 1009.1,271.1 1004,268 997.8,264.9 991.6,261.8 987.5,257.7 984.4,253.6 982.3,255.6 983.3,259.8 979.2,263.9 975.1,266 971,262.9 968.9,257.7 966.8,252.5Z M988.5,273.2 992.6,271.7 997.8,275.2 995.7,277.9 991.2,277.3Z M788.3,444 794.4,448.1 800.6,453.3 806.8,452.2 815.1,449.1 825.4,447.1 833.7,449.1 837.8,454.3 844,457.4 852.2,459.4 862.6,458.4 870.8,457.4 879.1,458.4 882.2,462.5 879.1,467.7 872.9,470.8 866.7,473.9 860.5,478 854.3,481.1 848.1,482.2 841.9,485.2 835.7,488.3 831.6,493.5 830.6,499.7 832.6,505.9 837.8,509 844,511 850.2,510 853.3,504.9 856.4,498.7 859.5,494.5 864.6,491.4 870.8,490.8 877,492.5 883.2,494.1 887.3,496.2 881.1,500.3 874.9,503.8 878,508 883.2,511.5 887.3,514.8 892.5,516.2 898.7,515.2 903.8,511 905.9,506.9 906.9,502.8 912.1,499.1 917.3,498.3 914.2,501.8 910,505.9 909,511 911.1,517.2 914.2,521.4 920.4,523.4 928.6,524.5 936.9,524.5 945.1,523.4 953.4,522.4 961.6,521.4 969.9,522.4 978.1,524.5 986.4,525.5 994.7,526.5 1001.9,526.5 1001.9,444Z M989,524.9 990,524.5 996.2,522.4 1002.4,519.3 1008.6,516.2 1014.8,514.1 1021,515.2 1027.2,516.2 1033.3,520.3 1039.5,523.4 1045.7,523 1051.9,526.5 1060.2,527.6 1068.4,527.6 1076.7,526.5 1084.9,524.5 1093.2,523.4 1101.5,523 1109.7,521.8 1118,521 1125.2,519.3 1132.4,521.8 1138.6,523.4 1144.8,525.9 1148.9,526.5 1155.1,524.5 1163.4,523 1171.6,522.4 1179.9,521.4 1188.1,519.3 1194.3,516.2 1200.5,514.1 1208.8,511 1217,508 1225.3,505.9 1231.5,503.8 1237.7,501.8 1245.9,499.7 1256.3,498.3 1266.6,497.6 1274.8,497 1282.1,496.6 1282.1,444 989,444Z M960,395 1100,395 1100,420 1270,420 1270,450 960,450Z M1110,415 1270,415 1270,440 1110,440Z M1115.3,319.2 1122.1,325.1 1128.8,329.3 1137.3,333.5 1145.8,337.8 1154.2,342.8 1162.7,347.1 1169.4,350.5 1176.2,351.3 1183,351.3 1189.7,351.3 1198.2,350.5 1206.7,349.6 1211.7,347.1 1216.8,346.2 1223.6,347.1 1230.3,346.7 1237.1,347.9 1243.9,349.6 1250.6,350.5 1257.4,351.3 1264.2,353.8 1269.3,356.4 1276.9,358.6 1276.9,421.5 1216.8,421.5 1211.7,414.7 1213.4,409.7 1210,404.6 1203.3,401.2 1205,394.4 1210,391.1 1211.7,386 1208.3,380.9 1201.6,375.8 1194.8,370.8 1188,366.5 1183,362.3 1174.5,364 1166.1,364.8 1162.7,368.2 1154.2,366.5 1145.8,362.3 1137.3,358.1 1128.8,353 1122.1,348.8 1117,345.4 1110.2,343.7 1101.8,341.1 1094.2,339.5 1094.2,319.2Z M1186.4,421.5 1183,418.1 1176.2,414.7 1169.4,412.2 1162.7,409.7 1157.6,408 1152.5,411.4 1145.8,409.7 1144.1,404.6 1145.8,399.5 1140.7,394.4 1133.9,391.9 1125.5,390.2 1117,386.8 1108.5,382.6 1101.8,379.2 1094.2,377.5 1094.2,421.5Z M1264,355.9 1272.8,359.2 1280.6,363.1 1290.3,367 1300,370.8 1309.7,373.8 1319.5,375.7 1329.2,377.7 1338.9,380.6 1348.6,383.5 1358.4,386.4 1364.2,389.3 1366.1,394.2 1365.2,402 1365.2,409.8 1368.1,414.6 1373.9,418.5 1381.7,422.4 1389.5,426.3 1394.4,430.2 1396.3,436 1399.2,441.8 1401.2,447.7 1264,447.7Z M1399.2,433.4 1401.2,440.8 1404.1,448.6 1406,456.4 1408,464.2 1410.9,471 1409.9,475.8 1405.1,478.8 1397.3,479.7 1389.5,480.7 1381.7,482.7 1373.9,483.6 1366.1,483.6 1358.4,485.6 1350.6,486.5 1342.8,487.5 1333.1,487.1 1323.4,488.5 1315.6,489.5 1309.7,488.5 1303.9,490.4 1298.1,491.4 1292.2,493.4 1284.5,495.3 1276.7,497.2 1270.8,498.2 1264,499.2 1264,433.4Z" fill="none" stroke="#4169E1" stroke-width="2.6" stroke-linejoin="round"/>
<g fill="#4169E1"><path d="M768.4,312.1 771.8,311.2 775.2,314.6 774.3,318.8 771,318Z"/><path d="M820.6,386.5 830.8,379.7 839.2,373.8 849.4,369.6 854.4,361.1 864.6,356.9 874.7,359.4 881.5,356.1 890,355.2 898.4,353.5 905.2,350.1 913.6,345.9 915.3,339.1 913.6,335.8 917.9,333.2 923.8,334.9 932.3,335.8 940.7,334.1 949.2,329 961.9,324.8 961.9,386.5Z"/><path d="M799.9,384.3 803.3,380.9 805.8,376.7 806.6,374.2 821.9,374.2 821.9,389.4 815.9,390.2 809.2,389.4 804.9,386.8Z"/><path d="M839.2,215.9 845.1,212.9 851,217.4 852.5,224.8 846.6,230.7 840.7,224.8Z"/><path d="M934.2,323.7 945.2,320.3 955.3,316.9 965.5,310.2 975.6,305.1 985.8,299.2 1034.8,299.2 1043.3,303.4 1053.4,308.5 1063.6,313.5 1070.3,318.6 1075.4,325.4 1078,332.1 1087.3,338.1 1104.2,342.3 1116.9,349.1 1116.9,401.5 934.2,401.5Z"/><path d="M984.4,272.2 989.5,269.1 996.8,271.1 1001.9,276.3 998.8,280.4 991.6,279.4 986.4,276.3Z"/><path d="M1094.2,339.5 1101.8,341.1 1110.2,343.7 1117,345.4 1122.1,348.8 1128.8,353 1137.3,358.1 1145.8,362.3 1154.2,366.5 1162.7,368.2 1166.1,364.8 1174.5,364 1183,362.3 1188,366.5 1194.8,370.8 1201.6,375.8 1208.3,380.9 1211.7,386 1210,391.1 1205,394.4 1203.3,401.2 1210,404.6 1213.4,409.7 1211.7,414.7 1216.8,421.5 1186.4,421.5 1183,418.1 1176.2,414.7 1169.4,412.2 1162.7,409.7 1157.6,408 1152.5,411.4 1145.8,409.7 1144.1,404.6 1145.8,399.5 1140.7,394.4 1133.9,391.9 1125.5,390.2 1117,386.8 1108.5,382.6 1101.8,379.2 1094.2,377.5Z"/></g>
<path d="M308.3,87.8 310.8,87.1 311,92.9 308.5,92.9Z M352.8,159.2 351.6,149.2 355.4,141.7 354.1,134.2 357.9,126.6 354.1,120.4 357.9,111.6 362.9,104.1 366.6,94.1 362.6,100 365.7,95.1 370.8,87.9 374.9,82.8 378.9,80.3 384,79.3 387.1,80.3 390.2,83.3 395.3,83.3 400.4,79.3 405.5,73.6 407.5,69.6 410.6,66.5 413.6,65.5 414.1,60.4 415.7,59.4 416.7,63.5 417.7,68 421.8,70.6 425.8,72.6 427.4,77.7 432,81.8 436,84.9 441.1,87.9 445.2,93 450.3,97.1 452.4,101.2 452.4,121.6 445.5,159.2Z M295.3,164.5 301.5,163.3 305.3,168.3 309,170.8 312.8,167 316.6,162 321.6,158.3 325.3,155 445.5,155 445.5,231.3 443,230.8 438,228.3 432.9,223.3 425.4,219.6 417.9,217.1 410.4,215.8 400.4,213.3 394.1,210.8 387.9,213.3 381.6,215.1 375.4,217.1 369.1,219.6 362.9,223.3 356.6,225.8 350.3,229.6 344.1,232.1 337.8,234.6 331.6,238.4 325.3,239.6 319.1,238.4 315.3,242.1 310.3,244.6 306.5,243.4 302.8,247.1 297.8,250.9 292.8,253.4 287.8,256.6 282.8,258.4 279,262.1 275.3,265.9 274,270.9 276.5,275.9 275.3,280.9 271.5,284.7 266.5,288.4 261.5,292.2 256.5,295.9 251.5,299.7 247.7,303.4 245.2,307.2 215.2,307.2 213.9,300.9 212.2,293.4 213.9,287.2 220.2,283.4 227.7,277.2 233.9,269.6 240.2,264.6 247.7,262.1 254,255.9 255.2,250.9 262.7,248.4 265.2,243.4 272.7,240.9 277.8,239.6 279,233.3 276.5,229.6 279,223.3 284,217.1 286.5,210.8 287.8,204.6 289,197.1 290.3,189.5 291.5,182 292.8,174.5 294,168.3Z M268.2,227.3 271.7,227.3 271.7,229.1 268.2,229.1Z M213.4,288 214.7,295 217.7,302.5 221.4,308.8 225.2,312 230.2,310 236.5,307.5 244,305 250.2,301.3 254,297.5 259,295 264,291.3 266.5,288Z M440.5,159.2 440.5,84.1 443,84.1 450.5,92.9 456.8,99.1 465.5,95.4 473,94.1 480.5,87.8 488.1,89.1 496.8,87.8 508.1,90.4 516.8,95.4 525.6,92.9 535.6,92.9 545.6,89.6 554.4,89.1 559.4,95.4 568.2,89.1 578.2,82.8 585.7,80.3 579.1,83.8 586.5,79.2 590.2,74.5 594,69 597.7,65.2 603.3,66.2 608.8,70.8 616.3,71.7 623.7,70.8 629.3,70.8 626.5,63.4 622.8,56.9 620.4,50.3 620.4,44.8 624.7,38.3 631.2,32.7 636.7,28.4 641.4,27.1 643.3,29.5 640.1,34.5 635.8,39.2 633,42.9 631.2,47.6 629.3,52.2 631.2,57.8 634,63.4 638.6,64.3 643.3,61.5 646,55 647.5,48.5 647.9,41 649.8,35.5 653.5,32.7 658.1,33.6 660.9,38.3 661.9,46.6 662.4,57.8 662.8,69 663.7,76.4 665,83.8 668.4,91.3 671.2,96.9 670.2,102.4 662.8,105.2 655.3,106.2 647.9,107.1 642.3,109 647,113.6 652.6,119.2 657.2,125 664.5,126.6 670.8,136.7 677,146.7 684.6,159.2Z M441,155 683.3,155 689.6,162 695.8,170.8 698.3,177 690.8,183.3 689.6,189.5 693.3,198.3 700.8,204.6 708.3,212.1 715.8,219.6 724.6,227.1 733.4,232.1 740.9,237.1 745.9,242.1 742.1,247.1 735.9,250.9 728.4,253.4 723.4,257.1 725.9,262.1 730.9,267.1 728.4,272.1 732.1,279.7 739.6,284.7 750.9,283.4 760.9,285.9 755.9,292.2 748.4,295.9 744.6,300.9 747.1,307.2 682,307.2 680.8,302.2 675.8,297.2 670.8,292.2 665.8,285.9 660.8,279.7 655.8,273.4 650.8,267.1 647,260.9 643.3,255.9 637,253.4 628.2,252.1 619.5,249.6 615.7,243.4 608.2,239.6 600.7,237.1 593.2,235.8 585.7,237.1 579.4,240.9 573.2,243.4 568.2,239.6 560.6,235.8 553.1,230.8 545.6,227.1 538.1,224.6 533.1,220.8 525.6,222.1 518.1,222.6 509.3,223.3 501.8,222.1 496.8,217.1 490.6,219.6 483.1,224.6 475.5,227.1 468,224.6 460.5,225.8 450.5,224.6 441,223.3Z M666.1,284.2 670.3,290.1 673.7,294.3 677.9,297.7 680.5,296 683.8,291.8 687.2,290.1 690.6,292.6 691.4,298.5 690.6,305.3 692.3,312.1 694.3,316.3 700.8,314.6 705,312.9 705,308.7 704.1,306.1 706.7,304.5 710.1,306.1 714.3,305.3 717.7,307.8 721.1,310.4 723.6,314.6 724.4,320.5 726.1,327.3 729.5,332.4 734.6,331.5 738.8,327.3 742.2,321.4 744.7,315.5 747.3,308.7 749.8,303.6 751.5,301.1 754,297.7 758.3,294.3 761.7,290.9 765,287.5 766.7,284.2Z M839.2,386.5 842.6,377.2 851.1,374.7 859.5,373 871.4,371.3 878.1,368.7 883.2,369.6 888.3,363.7 898.4,361.1 908.6,357.7 915.3,359.4 920.4,362 923.8,357.7 922.1,352.7 925.5,347.6 932.3,344.2 940.7,342.5 939,347.6 942.4,351 949.2,348.4 952.6,342.5 949.2,335.8 952.6,333.2 961.9,334.1 961.9,386.5Z M917.9,335.8 921.3,334.1 925.5,335.8 926.3,340 923,342.5 918.7,340.8Z M943.3,330.7 946.6,328.6 950.9,330.7 950,334.9 945.8,335.4Z M725.4,432.5 728,428.3 732.2,424.1 734.7,419 739.8,415.6 744.9,411.4 749.1,406.3 753.3,404.1 758.4,405.1 762.7,408 766,411.4 766.5,415.6 763.5,419.8 759.3,421.5 756.7,425.8 755.9,430 751.7,432.5 745.7,434.2 739.8,435.1 733,435.6 728,435.1Z M778.7,393.6 783.8,391.1 788.9,387.7 795.6,386.5 799.9,385.2 804.9,386.8 809.2,389.4 815.9,390.2 821.9,389.4 821.9,424.1 815.9,425.8 809.2,426.6 802.4,427.4 795.6,429.1 789.7,428.3 785.5,427.4 783.8,424.1 785.5,419.8 788.9,416.4 792.3,413.1 794.8,408.8 795.6,405.5 793.1,406.3 791.4,410.5 788,411.4 786.8,408 784.6,402.9 781.3,398.7Z M793.1,445.2 797.3,441.8 802.4,438.4 809.2,435.1 815.9,431.7 821.9,428.3 821.9,452 809.2,451.1 802.4,452.8 799,450.3 794.8,447.7Z M808.7,158.1 814,159.6 818.5,168.5 817.6,174.4 812.5,170 808.7,164.1Z M825.9,171.5 831.8,170 837.7,175.9 845.1,181.8 846.6,189.2 842.2,193.7 834.8,189.2 827.4,181.8Z M822.9,193.7 828.8,189.2 837.7,192.2 846.6,196.6 851.9,204 849.6,210 842.2,210 834.8,204 827.4,202.5Z M952,251.8 954.1,249.8 956.6,249.3 959.6,250.8 962.7,251.8 965.2,250.8 965.7,247.8 967.8,260.4 965.7,257.9 962.7,256.9 958.6,256.4 955.1,255.9 952.5,254.4Z M849.4,369 1001.8,369 1001.8,488.8 837.5,488.8 837.5,487 841.5,482.8 849.4,479.9 859.3,476.9 867.2,474.9 873.1,471 880.1,467 881.4,461.1 877.1,458.1 869.2,457.1 859.3,457.1 849.4,457.1 841.5,454.1 836.5,451.2 834.5,446.2 829.6,444.8 819.7,446.2 809.8,448.2 801.9,453.1 794,449.2 789,447.8 789,439.3 795.9,438.3 801.9,436.3 807.8,433.3 813.8,429.4 815.7,426.4 811.8,424.4 805.8,425.4 797.9,427.4 789,429.4 789,390.8 797.9,389.8 805.8,388.8 813.8,389.8 819.7,386.8 825.6,383.9 829.6,379.9 835.5,375.9 841.5,373Z M1034.8,299.2 1043.3,303.4 1053.4,308.5 1063.6,313.5 1070.3,318.6 1075.4,325.4 1077.1,333.8 1076.3,337.2 1077.1,344 1079.6,350.8 1083.9,355.8 1088.1,358.4 1091.5,354.1 1090.6,345.7 1087.3,338.9 1092.7,337.2 1103,342.3 1113.3,347.5 1116.9,349.1 1116.9,312.7 1115,311.8 1105.9,305.1 1100.8,299.2Z M934.2,341.1 938.4,340.3 942.6,333.5 946.8,336.9 950.2,335.9 953.6,334.7 960.4,333.8 964.6,337.2 967.1,343.1 971.4,345.7 977.3,343.1 982.4,344.8 987.4,347.4 993.4,348.2 999.3,347.4 1002.7,344 1000.1,341.4 995.1,340.6 990.8,338.1 985.8,333.8 984.1,330.5 989.1,328.8 997.6,327.1 1006.1,326.2 1014.5,325.4 1021.3,327.1 1026.4,330.5 1031.4,333.8 1036.5,338.1 1041.6,340.6 1046.7,344 1050,349.1 1051.7,354.1 1051.7,359.2 1048.3,363.4 1045.8,366.8 1050,369.4 1056.8,371.1 1063.6,374.4 1070.3,377.8 1077.1,381.2 1083.9,384.6 1088.1,388 1094,391.4 1099.9,393.9 1105.9,394.7 1116.9,394.7 1116.9,401.5 934.2,401.5Z M1085.6,361.7 1092.3,360.1 1097.4,363.4 1098.3,367.7 1094,371.1 1088.1,370.2 1084.7,366.8Z M942.6,330.5 946,327.9 950.2,329.6 951.1,333 947.7,335.5 943.5,333.8Z M998.4,308.5 1002.7,306.8 1006.9,310.2 1006.1,315.2 1001.8,316.9 998.4,313.5Z M964.8,247.4 968.9,244.3 973,245.3 978.2,248.4 983.3,249.4 987.5,248.4 993.7,247.8 999.9,249.4 1006,251.5 1012.2,254.6 1018.4,258.7 1024.6,261.8 1030.8,264.9 1037,266 1043.2,269.1 1049.4,271.1 1055.6,273.2 1061.8,275.2 1065.9,278.3 1070,282.5 1076.2,282.9 1079.3,286.6 1082.4,290.7 1086.5,293.8 1090.7,298 1096.9,302.1 1103.1,306.2 1109.2,310.3 1115.4,315.5 1121.6,320.7 1127.8,326.8 1134,331 1140.2,335.1 1146.4,338.2 1152.6,341.3 1161.9,344.8 1161.9,358.8 1146.4,357.8 1134,354.7 1123.7,351.6 1113.4,347.5 1103.1,342.3 1092.7,337.2 1084.5,334.1 1077.3,333 1074.2,327.9 1071.1,322.7 1066.9,317.6 1061.8,312.4 1056.6,308.3 1051.5,305.2 1045.3,302.1 1039.1,299 1032.9,294.9 1026.7,289.7 1020.5,284.5 1016.4,279.4 1013.3,275.2 1009.1,271.1 1004,268 997.8,264.9 991.6,261.8 987.5,257.7 984.4,253.6 982.3,255.6 983.3,259.8 979.2,263.9 975.1,266 971,262.9 968.9,257.7 966.8,252.5Z M988.5,273.2 992.6,271.7 997.8,275.2 995.7,277.9 991.2,277.3Z M788.3,444 794.4,448.1 800.6,453.3 806.8,452.2 815.1,449.1 825.4,447.1 833.7,449.1 837.8,454.3 844,457.4 852.2,459.4 862.6,458.4 870.8,457.4 879.1,458.4 882.2,462.5 879.1,467.7 872.9,470.8 866.7,473.9 860.5,478 854.3,481.1 848.1,482.2 841.9,485.2 835.7,488.3 831.6,493.5 830.6,499.7 832.6,505.9 837.8,509 844,511 850.2,510 853.3,504.9 856.4,498.7 859.5,494.5 864.6,491.4 870.8,490.8 877,492.5 883.2,494.1 887.3,496.2 881.1,500.3 874.9,503.8 878,508 883.2,511.5 887.3,514.8 892.5,516.2 898.7,515.2 903.8,511 905.9,506.9 906.9,502.8 912.1,499.1 917.3,498.3 914.2,501.8 910,505.9 909,511 911.1,517.2 914.2,521.4 920.4,523.4 928.6,524.5 936.9,524.5 945.1,523.4 953.4,522.4 961.6,521.4 969.9,522.4 978.1,524.5 986.4,525.5 994.7,526.5 1001.9,526.5 1001.9,444Z M989,524.9 990,524.5 996.2,522.4 1002.4,519.3 1008.6,516.2 1014.8,514.1 1021,515.2 1027.2,516.2 1033.3,520.3 1039.5,523.4 1045.7,523 1051.9,526.5 1060.2,527.6 1068.4,527.6 1076.7,526.5 1084.9,524.5 1093.2,523.4 1101.5,523 1109.7,521.8 1118,521 1125.2,519.3 1132.4,521.8 1138.6,523.4 1144.8,525.9 1148.9,526.5 1155.1,524.5 1163.4,523 1171.6,522.4 1179.9,521.4 1188.1,519.3 1194.3,516.2 1200.5,514.1 1208.8,511 1217,508 1225.3,505.9 1231.5,503.8 1237.7,501.8 1245.9,499.7 1256.3,498.3 1266.6,497.6 1274.8,497 1282.1,496.6 1282.1,444 989,444Z M960,395 1100,395 1100,420 1270,420 1270,450 960,450Z M1110,415 1270,415 1270,440 1110,440Z M1115.3,319.2 1122.1,325.1 1128.8,329.3 1137.3,333.5 1145.8,337.8 1154.2,342.8 1162.7,347.1 1169.4,350.5 1176.2,351.3 1183,351.3 1189.7,351.3 1198.2,350.5 1206.7,349.6 1211.7,347.1 1216.8,346.2 1223.6,347.1 1230.3,346.7 1237.1,347.9 1243.9,349.6 1250.6,350.5 1257.4,351.3 1264.2,353.8 1269.3,356.4 1276.9,358.6 1276.9,421.5 1216.8,421.5 1211.7,414.7 1213.4,409.7 1210,404.6 1203.3,401.2 1205,394.4 1210,391.1 1211.7,386 1208.3,380.9 1201.6,375.8 1194.8,370.8 1188,366.5 1183,362.3 1174.5,364 1166.1,364.8 1162.7,368.2 1154.2,366.5 1145.8,362.3 1137.3,358.1 1128.8,353 1122.1,348.8 1117,345.4 1110.2,343.7 1101.8,341.1 1094.2,339.5 1094.2,319.2Z M1186.4,421.5 1183,418.1 1176.2,414.7 1169.4,412.2 1162.7,409.7 1157.6,408 1152.5,411.4 1145.8,409.7 1144.1,404.6 1145.8,399.5 1140.7,394.4 1133.9,391.9 1125.5,390.2 1117,386.8 1108.5,382.6 1101.8,379.2 1094.2,377.5 1094.2,421.5Z M1264,355.9 1272.8,359.2 1280.6,363.1 1290.3,367 1300,370.8 1309.7,373.8 1319.5,375.7 1329.2,377.7 1338.9,380.6 1348.6,383.5 1358.4,386.4 1364.2,389.3 1366.1,394.2 1365.2,402 1365.2,409.8 1368.1,414.6 1373.9,418.5 1381.7,422.4 1389.5,426.3 1394.4,430.2 1396.3,436 1399.2,441.8 1401.2,447.7 1264,447.7Z M1399.2,433.4 1401.2,440.8 1404.1,448.6 1406,456.4 1408,464.2 1410.9,471 1409.9,475.8 1405.1,478.8 1397.3,479.7 1389.5,480.7 1381.7,482.7 1373.9,483.6 1366.1,483.6 1358.4,485.6 1350.6,486.5 1342.8,487.5 1333.1,487.1 1323.4,488.5 1315.6,489.5 1309.7,488.5 1303.9,490.4 1298.1,491.4 1292.2,493.4 1284.5,495.3 1276.7,497.2 1270.8,498.2 1264,499.2 1264,433.4Z" fill="none" stroke="#0000CD" stroke-width="1.8" stroke-linejoin="round"/>
<g fill="#0000CD"><path d="M619.1,44.8 623.7,37.3 631.2,30.8 641.4,25.2 645.1,29 648.8,33.6 659.1,31.7 662.8,38.3 664.3,57.8 665,76.4 644.2,70.8 629.3,72.7 621.9,59.7Z"/><path d="M615.7,243.4 623.2,245.9 628.2,252.1 619.5,253.4Z"/><path d="M835.8,386.5 837.5,376.4 847.7,373 856.1,371.3 868,369.6 874.7,366.2 881.5,367.9 888.3,361.1 898.4,359.4 908.6,355.2 915.3,356.1 920.4,349.3 915.3,342.5 918.7,334.9 923.8,334.1 927.2,339.1 932.3,340.8 939,339.1 944.9,333.2 942.4,329.8 947.5,328.1 952.6,330.7 961.9,328.1 961.9,386.5Z"/><path d="M789,381.9 819.7,380.9 829.6,377.9 825.6,383.9 819.7,386.8 813.8,389.8 805.8,388.8 797.9,389.8 789,390.8Z"/><path d="M1073.7,364.3 1078.8,360.9 1083.9,359.2 1097.4,357.5 1104.2,364.3 1109.3,371.1 1116.9,374.4 1116.9,394.7 1105.9,394.7 1099.9,393.9 1094,391.4 1088.1,388 1083.9,384.6 1077.1,381.2 1070.3,377.8 1075.4,371.1Z"/><path d="M934.2,336.4 940.1,333.8 945.2,336.4 951.9,333.8 960.4,332.1 966.3,336.4 968.8,342.3 977.3,341.4 985.8,345.7 994.2,346.5 1001,344.8 994.2,341.4 985.8,335.5 982.4,330.5 989.1,327.1 934.2,350.8Z"/><path d="M1367.3,493.4 1371.6,489.5 1375.9,493.4 1371.6,497.2Z"/><path d="M1377.4,499.8 1381.3,496.5 1385.2,499.8 1381.3,503.1Z"/><path d="M1401.2,489.1 1405.1,485.8 1408.9,489.1 1405.1,492.4Z"/><path d="M1398.2,505.4 1401.7,502.1 1405.2,505.4 1401.7,508.7Z"/></g>
<g fill="#000080"><path d="M308.3,87.8 310.8,87.1 311,92.9 308.5,92.9Z"/><path d="M424.7,42.8 426.7,40.5 430.9,40.3 433.7,42.8 431.7,45.3 426.7,45.5Z"/><path d="M352.8,159.2 351.6,149.2 355.4,141.7 354.1,134.2 357.9,126.6 354.1,120.4 357.9,111.6 362.9,104.1 366.6,94.1 362.6,100 365.7,95.1 370.8,87.9 374.9,82.8 378.9,80.3 384,79.3 387.1,80.3 390.2,83.3 395.3,83.3 400.4,79.3 405.5,73.6 407.5,69.6 410.6,66.5 413.6,65.5 414.1,60.4 415.7,59.4 416.7,63.5 417.7,68 421.8,70.6 425.8,72.6 427.4,77.7 432,81.8 436,84.9 441.1,87.9 445.2,93 450.3,97.1 452.4,101.2 452.4,121.6 445.5,159.2Z"/><path d="M295.3,164.5 301.5,163.3 305.3,168.3 309,170.8 312.8,167 316.6,162 321.6,158.3 325.3,155 445.5,155 445.5,231.3 443,230.8 438,228.3 432.9,223.3 425.4,219.6 417.9,217.1 410.4,215.8 400.4,213.3 394.1,210.8 387.9,213.3 381.6,215.1 375.4,217.1 369.1,219.6 362.9,223.3 356.6,225.8 350.3,229.6 344.1,232.1 337.8,234.6 331.6,238.4 325.3,239.6 319.1,238.4 315.3,242.1 310.3,244.6 306.5,243.4 302.8,247.1 297.8,250.9 292.8,253.4 287.8,256.6 282.8,258.4 279,262.1 275.3,265.9 274,270.9 276.5,275.9 275.3,280.9 271.5,284.7 266.5,288.4 261.5,292.2 256.5,295.9 251.5,299.7 247.7,303.4 245.2,307.2 215.2,307.2 213.9,300.9 212.2,293.4 213.9,287.2 220.2,283.4 227.7,277.2 233.9,269.6 240.2,264.6 247.7,262.1 254,255.9 255.2,250.9 262.7,248.4 265.2,243.4 272.7,240.9 277.8,239.6 279,233.3 276.5,229.6 279,223.3 284,217.1 286.5,210.8 287.8,204.6 289,197.1 290.3,189.5 291.5,182 292.8,174.5 294,168.3Z"/><path d="M268.2,227.3 271.7,227.3 271.7,229.1 268.2,229.1Z"/><path d="M213.4,288 214.7,295 217.7,302.5 221.4,308.8 225.2,312 230.2,310 236.5,307.5 244,305 250.2,301.3 254,297.5 259,295 264,291.3 266.5,288Z"/><path d="M450,21.5 452.3,19.3 454.5,21.5 452.3,23.8Z"/><path d="M462,24.5 464.8,21.8 467.5,24.5 464.8,27.3Z"/><path d="M458.3,30.3 461.3,27.3 464.3,30.3 461.3,33.3Z"/><path d="M551.9,42.8 558.1,37.8 560.6,40.3 554.9,45.8Z"/><path d="M541.9,53.6 545.1,51.1 548.4,53.6 545.1,56.1Z"/><path d="M576.9,24.5 580.7,22 582.7,24 579.4,27Z"/><path d="M440.5,159.2 440.5,84.1 443,84.1 450.5,92.9 456.8,99.1 465.5,95.4 473,94.1 480.5,87.8 488.1,89.1 496.8,87.8 508.1,90.4 516.8,95.4 525.6,92.9 535.6,92.9 545.6,89.6 554.4,89.1 559.4,95.4 568.2,89.1 578.2,82.8 585.7,80.3 579.1,83.8 586.5,79.2 590.2,74.5 594,69 597.7,65.2 603.3,66.2 608.8,70.8 616.3,71.7 623.7,70.8 629.3,70.8 626.5,63.4 622.8,56.9 620.4,50.3 620.4,44.8 624.7,38.3 631.2,32.7 636.7,28.4 641.4,27.1 643.3,29.5 640.1,34.5 635.8,39.2 633,42.9 631.2,47.6 629.3,52.2 631.2,57.8 634,63.4 638.6,64.3 643.3,61.5 646,55 647.5,48.5 647.9,41 649.8,35.5 653.5,32.7 658.1,33.6 660.9,38.3 661.9,46.6 662.4,57.8 662.8,69 663.7,76.4 665,83.8 668.4,91.3 671.2,96.9 670.2,102.4 662.8,105.2 655.3,106.2 647.9,107.1 642.3,109 647,113.6 652.6,119.2 657.2,125 664.5,126.6 670.8,136.7 677,146.7 684.6,159.2Z"/><path d="M637.3,43.3 641.4,39.9 645.5,43.3 641.4,46.6Z"/><path d="M441,155 683.3,155 689.6,162 695.8,170.8 698.3,177 690.8,183.3 689.6,189.5 693.3,198.3 700.8,204.6 708.3,212.1 715.8,219.6 724.6,227.1 733.4,232.1 740.9,237.1 745.9,242.1 742.1,247.1 735.9,250.9 728.4,253.4 723.4,257.1 725.9,262.1 730.9,267.1 728.4,272.1 732.1,279.7 739.6,284.7 750.9,283.4 760.9,285.9 755.9,292.2 748.4,295.9 744.6,300.9 747.1,307.2 682,307.2 680.8,302.2 675.8,297.2 670.8,292.2 665.8,285.9 660.8,279.7 655.8,273.4 650.8,267.1 647,260.9 643.3,255.9 637,253.4 628.2,252.1 619.5,249.6 615.7,243.4 608.2,239.6 600.7,237.1 593.2,235.8 585.7,237.1 579.4,240.9 573.2,243.4 568.2,239.6 560.6,235.8 553.1,230.8 545.6,227.1 538.1,224.6 533.1,220.8 525.6,222.1 518.1,222.6 509.3,223.3 501.8,222.1 496.8,217.1 490.6,219.6 483.1,224.6 475.5,227.1 468,224.6 460.5,225.8 450.5,224.6 441,223.3Z"/><path d="M573.2,244.1 575.7,242.1 578.2,244.1 575.7,246.1Z"/><path d="M580.7,239.6 583.2,237.6 585.7,239.6 583.2,241.6Z"/><path d="M617,250.1 619.5,248.1 622,250.1 619.5,252.1Z"/><path d="M588.2,232.1 590.7,230.1 593.2,232.1 590.7,234.1Z"/><path d="M666.1,284.2 670.3,290.1 673.7,294.3 677.9,297.7 680.5,296 683.8,291.8 687.2,290.1 690.6,292.6 691.4,298.5 690.6,305.3 692.3,312.1 694.3,316.3 700.8,314.6 705,312.9 705,308.7 704.1,306.1 706.7,304.5 710.1,306.1 714.3,305.3 717.7,307.8 721.1,310.4 723.6,314.6 724.4,320.5 726.1,327.3 729.5,332.4 734.6,331.5 738.8,327.3 742.2,321.4 744.7,315.5 747.3,308.7 749.8,303.6 751.5,301.1 754,297.7 758.3,294.3 761.7,290.9 765,287.5 766.7,284.2Z"/><path d="M839.2,386.5 842.6,377.2 851.1,374.7 859.5,373 871.4,371.3 878.1,368.7 883.2,369.6 888.3,363.7 898.4,361.1 908.6,357.7 915.3,359.4 920.4,362 923.8,357.7 922.1,352.7 925.5,347.6 932.3,344.2 940.7,342.5 939,347.6 942.4,351 949.2,348.4 952.6,342.5 949.2,335.8 952.6,333.2 961.9,334.1 961.9,386.5Z"/><path d="M917.9,335.8 921.3,334.1 925.5,335.8 926.3,340 923,342.5 918.7,340.8Z"/><path d="M943.3,330.7 946.6,328.6 950.9,330.7 950,334.9 945.8,335.4Z"/><path d="M725.4,432.5 728,428.3 732.2,424.1 734.7,419 739.8,415.6 744.9,411.4 749.1,406.3 753.3,404.1 758.4,405.1 762.7,408 766,411.4 766.5,415.6 763.5,419.8 759.3,421.5 756.7,425.8 755.9,430 751.7,432.5 745.7,434.2 739.8,435.1 733,435.6 728,435.1Z"/><path d="M778.7,393.6 783.8,391.1 788.9,387.7 795.6,386.5 799.9,385.2 804.9,386.8 809.2,389.4 815.9,390.2 821.9,389.4 821.9,424.1 815.9,425.8 809.2,426.6 802.4,427.4 795.6,429.1 789.7,428.3 785.5,427.4 783.8,424.1 785.5,419.8 788.9,416.4 792.3,413.1 794.8,408.8 795.6,405.5 793.1,406.3 791.4,410.5 788,411.4 786.8,408 784.6,402.9 781.3,398.7Z"/><path d="M793.1,445.2 797.3,441.8 802.4,438.4 809.2,435.1 815.9,431.7 821.9,428.3 821.9,452 809.2,451.1 802.4,452.8 799,450.3 794.8,447.7Z"/><path d="M808.7,158.1 814,159.6 818.5,168.5 817.6,174.4 812.5,170 808.7,164.1Z"/><path d="M825.9,171.5 831.8,170 837.7,175.9 845.1,181.8 846.6,189.2 842.2,193.7 834.8,189.2 827.4,181.8Z"/><path d="M822.9,193.7 828.8,189.2 837.7,192.2 846.6,196.6 851.9,204 849.6,210 842.2,210 834.8,204 827.4,202.5Z"/><path d="M952,251.8 954.1,249.8 956.6,249.3 959.6,250.8 962.7,251.8 965.2,250.8 965.7,247.8 967.8,260.4 965.7,257.9 962.7,256.9 958.6,256.4 955.1,255.9 952.5,254.4Z"/><path d="M849.4,369 1001.8,369 1001.8,488.8 837.5,488.8 837.5,487 841.5,482.8 849.4,479.9 859.3,476.9 867.2,474.9 873.1,471 880.1,467 881.4,461.1 877.1,458.1 869.2,457.1 859.3,457.1 849.4,457.1 841.5,454.1 836.5,451.2 834.5,446.2 829.6,444.8 819.7,446.2 809.8,448.2 801.9,453.1 794,449.2 789,447.8 789,439.3 795.9,438.3 801.9,436.3 807.8,433.3 813.8,429.4 815.7,426.4 811.8,424.4 805.8,425.4 797.9,427.4 789,429.4 789,390.8 797.9,389.8 805.8,388.8 813.8,389.8 819.7,386.8 825.6,383.9 829.6,379.9 835.5,375.9 841.5,373Z"/><path d="M1034.8,299.2 1043.3,303.4 1053.4,308.5 1063.6,313.5 1070.3,318.6 1075.4,325.4 1077.1,333.8 1076.3,337.2 1077.1,344 1079.6,350.8 1083.9,355.8 1088.1,358.4 1091.5,354.1 1090.6,345.7 1087.3,338.9 1092.7,337.2 1103,342.3 1113.3,347.5 1116.9,349.1 1116.9,312.7 1115,311.8 1105.9,305.1 1100.8,299.2Z"/><path d="M934.2,341.1 938.4,340.3 942.6,333.5 946.8,336.9 950.2,335.9 953.6,334.7 960.4,333.8 964.6,337.2 967.1,343.1 971.4,345.7 977.3,343.1 982.4,344.8 987.4,347.4 993.4,348.2 999.3,347.4 1002.7,344 1000.1,341.4 995.1,340.6 990.8,338.1 985.8,333.8 984.1,330.5 989.1,328.8 997.6,327.1 1006.1,326.2 1014.5,325.4 1021.3,327.1 1026.4,330.5 1031.4,333.8 1036.5,338.1 1041.6,340.6 1046.7,344 1050,349.1 1051.7,354.1 1051.7,359.2 1048.3,363.4 1045.8,366.8 1050,369.4 1056.8,371.1 1063.6,374.4 1070.3,377.8 1077.1,381.2 1083.9,384.6 1088.1,388 1094,391.4 1099.9,393.9 1105.9,394.7 1116.9,394.7 1116.9,401.5 934.2,401.5Z"/><path d="M1085.6,361.7 1092.3,360.1 1097.4,363.4 1098.3,367.7 1094,371.1 1088.1,370.2 1084.7,366.8Z"/><path d="M942.6,330.5 946,327.9 950.2,329.6 951.1,333 947.7,335.5 943.5,333.8Z"/><path d="M998.4,308.5 1002.7,306.8 1006.9,310.2 1006.1,315.2 1001.8,316.9 998.4,313.5Z"/><path d="M964.8,247.4 968.9,244.3 973,245.3 978.2,248.4 983.3,249.4 987.5,248.4 993.7,247.8 999.9,249.4 1006,251.5 1012.2,254.6 1018.4,258.7 1024.6,261.8 1030.8,264.9 1037,266 1043.2,269.1 1049.4,271.1 1055.6,273.2 1061.8,275.2 1065.9,278.3 1070,282.5 1076.2,282.9 1079.3,286.6 1082.4,290.7 1086.5,293.8 1090.7,298 1096.9,302.1 1103.1,306.2 1109.2,310.3 1115.4,315.5 1121.6,320.7 1127.8,326.8 1134,331 1140.2,335.1 1146.4,338.2 1152.6,341.3 1161.9,344.8 1161.9,358.8 1146.4,357.8 1134,354.7 1123.7,351.6 1113.4,347.5 1103.1,342.3 1092.7,337.2 1084.5,334.1 1077.3,333 1074.2,327.9 1071.1,322.7 1066.9,317.6 1061.8,312.4 1056.6,308.3 1051.5,305.2 1045.3,302.1 1039.1,299 1032.9,294.9 1026.7,289.7 1020.5,284.5 1016.4,279.4 1013.3,275.2 1009.1,271.1 1004,268 997.8,264.9 991.6,261.8 987.5,257.7 984.4,253.6 982.3,255.6 983.3,259.8 979.2,263.9 975.1,266 971,262.9 968.9,257.7 966.8,252.5Z"/><path d="M988.5,273.2 992.6,271.7 997.8,275.2 995.7,277.9 991.2,277.3Z"/><path d="M788.3,444 794.4,448.1 800.6,453.3 806.8,452.2 815.1,449.1 825.4,447.1 833.7,449.1 837.8,454.3 844,457.4 852.2,459.4 862.6,458.4 870.8,457.4 879.1,458.4 882.2,462.5 879.1,467.7 872.9,470.8 866.7,473.9 860.5,478 854.3,481.1 848.1,482.2 841.9,485.2 835.7,488.3 831.6,493.5 830.6,499.7 832.6,505.9 837.8,509 844,511 850.2,510 853.3,504.9 856.4,498.7 859.5,494.5 864.6,491.4 870.8,490.8 877,492.5 883.2,494.1 887.3,496.2 881.1,500.3 874.9,503.8 878,508 883.2,511.5 887.3,514.8 892.5,516.2 898.7,515.2 903.8,511 905.9,506.9 906.9,502.8 912.1,499.1 917.3,498.3 914.2,501.8 910,505.9 909,511 911.1,517.2 914.2,521.4 920.4,523.4 928.6,524.5 936.9,524.5 945.1,523.4 953.4,522.4 961.6,521.4 969.9,522.4 978.1,524.5 986.4,525.5 994.7,526.5 1001.9,526.5 1001.9,444Z"/><path d="M989,524.9 990,524.5 996.2,522.4 1002.4,519.3 1008.6,516.2 1014.8,514.1 1021,515.2 1027.2,516.2 1033.3,520.3 1039.5,523.4 1045.7,523 1051.9,526.5 1060.2,527.6 1068.4,527.6 1076.7,526.5 1084.9,524.5 1093.2,523.4 1101.5,523 1109.7,521.8 1118,521 1125.2,519.3 1132.4,521.8 1138.6,523.4 1144.8,525.9 1148.9,526.5 1155.1,524.5 1163.4,523 1171.6,522.4 1179.9,521.4 1188.1,519.3 1194.3,516.2 1200.5,514.1 1208.8,511 1217,508 1225.3,505.9 1231.5,503.8 1237.7,501.8 1245.9,499.7 1256.3,498.3 1266.6,497.6 1274.8,497 1282.1,496.6 1282.1,444 989,444Z"/><path d="M960,395 1100,395 1100,420 1270,420 1270,450 960,450Z"/><path d="M1110,415 1270,415 1270,440 1110,440Z"/><path d="M1115.3,319.2 1122.1,325.1 1128.8,329.3 1137.3,333.5 1145.8,337.8 1154.2,342.8 1162.7,347.1 1169.4,350.5 1176.2,351.3 1183,351.3 1189.7,351.3 1198.2,350.5 1206.7,349.6 1211.7,347.1 1216.8,346.2 1223.6,347.1 1230.3,346.7 1237.1,347.9 1243.9,349.6 1250.6,350.5 1257.4,351.3 1264.2,353.8 1269.3,356.4 1276.9,358.6 1276.9,421.5 1216.8,421.5 1211.7,414.7 1213.4,409.7 1210,404.6 1203.3,401.2 1205,394.4 1210,391.1 1211.7,386 1208.3,380.9 1201.6,375.8 1194.8,370.8 1188,366.5 1183,362.3 1174.5,364 1166.1,364.8 1162.7,368.2 1154.2,366.5 1145.8,362.3 1137.3,358.1 1128.8,353 1122.1,348.8 1117,345.4 1110.2,343.7 1101.8,341.1 1094.2,339.5 1094.2,319.2Z"/><path d="M1186.4,421.5 1183,418.1 1176.2,414.7 1169.4,412.2 1162.7,409.7 1157.6,408 1152.5,411.4 1145.8,409.7 1144.1,404.6 1145.8,399.5 1140.7,394.4 1133.9,391.9 1125.5,390.2 1117,386.8 1108.5,382.6 1101.8,379.2 1094.2,377.5 1094.2,421.5Z"/><path d="M1264,355.9 1272.8,359.2 1280.6,363.1 1290.3,367 1300,370.8 1309.7,373.8 1319.5,375.7 1329.2,377.7 1338.9,380.6 1348.6,383.5 1358.4,386.4 1364.2,389.3 1366.1,394.2 1365.2,402 1365.2,409.8 1368.1,414.6 1373.9,418.5 1381.7,422.4 1389.5,426.3 1394.4,430.2 1396.3,436 1399.2,441.8 1401.2,447.7 1264,447.7Z"/><path d="M1399.2,433.4 1401.2,440.8 1404.1,448.6 1406,456.4 1408,464.2 1410.9,471 1409.9,475.8 1405.1,478.8 1397.3,479.7 1389.5,480.7 1381.7,482.7 1373.9,483.6 1366.1,483.6 1358.4,485.6 1350.6,486.5 1342.8,487.5 1333.1,487.1 1323.4,488.5 1315.6,489.5 1309.7,488.5 1303.9,490.4 1298.1,491.4 1292.2,493.4 1284.5,495.3 1276.7,497.2 1270.8,498.2 1264,499.2 1264,433.4Z"/><path d="M1367.9,493.4 1371.6,490 1375.3,493.4 1371.6,496.7Z"/><path d="M1378,499.8 1381.3,497.1 1384.6,499.8 1381.3,502.5Z"/><path d="M1401.7,489.1 1405.1,486.4 1408.4,489.1 1405.1,491.8Z"/><path d="M1398.8,505.4 1401.7,502.7 1404.7,505.4 1401.7,508.1Z"/></g>
<g fill="#0000CD"><path d="M722.6,247.5 730.8,244.4 741.1,241.3 747.3,244.4 749.4,251.6 745.3,255.7 737,259.9 730.8,266 732.9,274.3 737,282.6 747.3,286.7 755.6,286.7 761.8,290.8 755.6,297 749.4,301.1 744.2,304.2 726.7,304.2 725.7,292.9 722.6,278.4 721.5,261.9Z"/><path d="M934.2,334.7 940.1,333.8 942.6,329.1 946.8,332.1 951.9,331.8 960.4,330.5 966.3,333.8 968.8,340.6 971.4,345.7 967.1,343.1 964.6,337.2 960.4,333.8 953.6,334.7 950.2,335.9 946.8,336.9 942.6,333.5 938.4,340.3 934.2,341.1Z"/><path d="M1142.4,392.7 1150.8,394.4 1157.6,397.8 1159.3,404.6 1154.2,411.4 1145.8,409.7 1143.2,404.6 1144.9,399.5Z"/><path d="M1150,403.7 1158.5,405.4 1165.2,408.8 1172,413.8 1178.8,420.6 1183.8,425.7 1185.5,430.8 1182.1,434.1 1187.2,436.7 1194,438.4 1200.8,441.7 1207.5,446 1214.3,449.4 1221.1,450.2 1225.3,447.7 1221.1,442.6 1217.7,437.5 1219.4,432.4 1226.1,431.6 1234.6,432.4 1241.4,429.9 1239.7,425.7 1234.6,423.1 1226.1,420.6 1217.7,418.1 1212.6,413.8 1215.1,411.3 1212.6,407.9 1207.5,405.4 1205.8,398.6 1209.2,391.8 1213.4,386.8 1212.6,380 1150,380Z"/></g>
<g fill="#4169E1"><path d="M743.2,240.2 751.5,244.4 753.5,251.6 749.4,257.8 741.1,261.9 736,268.1 737,274.3 742.2,281.5 751.5,282.6 759.7,284.6 765.9,288.8 763.8,293.9 755.6,300.1 749.4,304.2 726.7,304.2 725.7,292.9 722.6,278.4 721.5,261.9 722.6,247.5 730.8,244.4Z"/><path d="M1183,384.3 1189.7,383.4 1193.1,387.7 1188,390.2 1183.8,388.5Z"/><path d="M1162.7,396.1 1169.4,395.3 1172.8,397.8 1167.7,399.5 1162.7,398.7Z"/><path d="M1150,401.1 1158.5,403.3 1166.1,407.1 1173.7,413 1180.5,419.8 1185.9,425.3 1188.1,430.8 1186.4,433.8 1194,435.8 1201.6,439.2 1208.4,443.4 1215.1,447.3 1220.2,447.7 1221.9,446.8 1218.5,441.7 1215.6,437.5 1217.3,431.6 1224.4,429.9 1233.7,430.4 1238.8,429.1 1237.6,426 1233.7,424.3 1225.3,422.3 1216.8,419.8 1210.1,414.7 1212.3,411.3 1210.1,408.8 1205.5,406.2 1203.8,398.6 1207.2,391.8 1211.2,386.8 1210.6,380 1150,380Z"/><path d="M1183.8,385.1 1190.6,384.2 1193.1,387.6 1188.9,389.3 1184.7,388.5Z"/></g>
<g fill="#6495ED"><path d="M634,42.9 636.7,37.3 640.8,33.6 643.4,29.1 646.4,28.4 650.1,33.6 648.3,41 647,49.4 644.2,55 639.5,55 635.8,51.3 634,46.6Z"/><path d="M934.2,323.7 945.2,320.3 955.3,316.9 965.5,310.2 975.6,305.1 985.8,299.2 1034.8,299.2 1043.3,303.4 1053.4,308.5 1063.6,313.5 1070.3,318.6 1075.4,325.4 1078,332.1 1077.1,344 1080.5,360.9 1075.4,354.1 1070.3,347.4 1063.6,344 1056.8,347.4 1053.4,350.8 1050,344 1043.3,338.9 1036.5,333.8 1029.7,328.8 1023,323.7 1019.6,316.9 1016.2,306.8 1006.1,303.4 997.6,306.8 995.9,316.9 985.8,323.7 975.6,325.4 968.8,323.7 962.1,325.4 951.9,328.8 941.8,327.1 934.2,333.8Z"/><path d="M1088.1,338.9 1097.4,342.3 1116.9,350.8 1116.9,355.8 1104.2,355.8 1095.7,350.8 1090.6,345.7Z"/><path d="M1094.2,341.1 1103.5,342.8 1111.9,345.4 1120.4,350.5 1128.8,355.5 1137.3,360.6 1145.8,364.8 1154.2,369.1 1166.1,370.8 1172.8,375.8 1179.6,377.5 1183,372.4 1177.9,368.2 1183,367.4 1189.7,370.8 1196.5,374.1 1203.3,380.9 1198.2,387.7 1196.5,396.1 1191.4,404.6 1196.5,411.4 1199.9,421.5 1191.4,421.5 1189.7,414.7 1183,408 1169.4,402.9 1162.7,401.2 1154.2,396.1 1152.5,389.4 1144.1,386 1133.9,380.9 1125.5,374.1 1118.7,367.4 1111.9,360.6 1105.2,353.8 1094.2,350.5Z"/><path d="M1150,399.5 1160.2,402.8 1168.6,407.9 1175.4,413 1182.1,419.8 1187.2,424.3 1192.3,427 1200.8,428.7 1207.5,427 1214.3,425.3 1222.7,424.5 1231.2,424 1235.9,425.7 1234.6,428.7 1227.8,427.9 1221.1,427 1214.3,428.7 1209.2,430.4 1202.4,430.4 1195.7,428.7 1190.6,425.3 1192.3,422.3 1200.8,422.3 1205.8,418.9 1202.4,413.8 1199.1,407.1 1200.8,400.3 1204.1,393.5 1207.5,386.8 1205.8,380 1150,380Z"/><path d="M1204.1,435.8 1210.9,434.1 1216.8,435 1216.8,439.2 1219.4,445.1 1214.3,445.1 1207.5,441.7 1203.3,438.4Z"/></g>
<g fill="#00BFFF"><path d="M635.6,44.8 638,39.2 642,35.5 644.2,30.3 646.4,29.9 648.7,34 646.4,42.9 644.7,49 641.4,51.8 638,50Z"/><path d="M934.2,320.3 941.8,316.9 948.5,318.6 955.3,315.2 962.1,310.2 968.8,306.8 977.3,303.4 982.4,299.2 990.8,299.2 994.2,306.8 990.8,313.5 997.6,316.9 994.2,320.3 985.8,318.6 979,316.9 972.2,315.2 967.1,318.6 960.4,323.7 951.9,325.4 943.5,327.1 934.2,328.8Z"/><path d="M1019.6,310.2 1023,305.1 1029.7,306.8 1036.5,308.5 1043.3,311.8 1053.4,315.2 1063.6,318.6 1072,325.4 1075.4,333.8 1076.3,342.3 1070.3,338.9 1063.6,335.5 1056.8,336.4 1050,332.1 1043.3,328.8 1038.2,322 1029.7,315.2 1023,315.2Z"/><path d="M1058.5,357.5 1061.9,354.1 1067,359.2 1072,366 1075.4,372.7 1070.3,374.4 1063.6,367.7 1059.3,362.6Z"/><path d="M1004,287 1012,290 1022,300 1004,300Z"/><path d="M1117.8,356.4 1122.1,354.7 1128.8,357.2 1137.3,362.3 1145.8,366.5 1154.2,370.8 1162.7,375.8 1169.4,382.6 1174.5,386 1174.5,389.4 1167.7,391.1 1162.7,392.7 1157.6,397.8 1154.2,395.3 1157.6,389.4 1152.5,386 1145.8,384.3 1137.3,379.2 1128.8,374.1 1122.1,367.4 1118.7,361.4Z"/><path d="M1171.1,402.9 1176.2,402.9 1182.1,405.4 1181.3,408 1174.5,406.3Z"/><path d="M1094.2,345.4 1100.1,347.9 1099.2,351.3 1094.2,350.5Z"/><path d="M1155.1,393.5 1161.8,390.2 1170.3,385.1 1175.4,386.8 1173.7,390.2 1165.2,393.5 1158.5,396.9Z"/><path d="M1172,402.8 1180.5,403.7 1182.1,407.1 1175.4,406.2Z"/></g>
<g fill="#ADD8E6"><path d="M934.2,310.2 943.5,306.8 951.9,303.4 965.5,300 979,299.2 975.6,305.1 968.8,306.8 963.8,310.2 957,315.2 950.2,318.6 943.5,317.8 934.2,321.1Z"/><path d="M1122.1,359.8 1127.1,359.8 1135.6,364.8 1144.1,369.1 1152.5,373.3 1159.3,378.4 1163.5,384.3 1160.1,386 1152.5,383.4 1145.8,380.1 1139,375.8 1132.2,373.3 1125.5,369.1 1122.1,364Z"/><path d="M1161.8,381.7 1168.6,380.8 1172,383.4 1165.2,385.9Z"/></g>
<g fill="#FFFFFF"><path d="M934.2,299.2 965.5,299.2 951.9,303.4 943.5,306.8 934.2,310.2Z"/></g>
<g fill="#ADD8E6"><path d="M381,97.1 384,93 387.1,96.1 384.6,99.7Z"/><path d="M678.3,299.7 683.3,292.2 690.3,289.2 692.8,294.7 689.6,307.2 680.8,307.2Z"/><path d="M714.6,187 719.6,185.8 723.4,189 718.3,190.8Z"/><path d="M888.3,341.7 893.3,341.7 895,345.1 890,345.9Z"/><path d="M1043.3,323.7 1046.7,325.4 1048,332.1 1045,330.5Z"/><path d="M1061,358.4 1063.6,359.2 1068.6,367.7 1065.3,366.8Z"/><path d="M1012.2,287.6 1017.4,286.6 1019.5,296.9 1016.4,305.2 1012.7,303.1Z"/><path d="M946.9,295.4 962.1,292.3 974.8,295.4 985,289 995.1,284 997.7,297.9 982.4,305.5 946.9,305.5Z"/><path d="M859.5,495.6 864.6,492.5 872.9,492.9 881.1,495.6 879.1,499.1 872.9,501.8 866.7,502.8 860.5,502.8Z"/><path d="M1218.2,399.2 1221.5,397.8 1224.4,400 1224.9,402.6 1221.9,402.9 1219,401.5Z"/></g>
<g fill="#00BFFF"><path d="M381.5,97.6 384,95.1 385.6,97.6 383.5,99.3Z"/><path d="M1216.5,398.7 1221,396.5 1225.6,399.2 1226.6,403.2 1221.9,404.2 1217.8,402.4Z"/><path d="M1211.7,435 1215.1,434.5 1215.6,437.2 1212.3,437.5Z"/></g>
<g fill="#6495ED"><path d="M896,489.4 898.7,488.3 899.7,492.5 896.6,493.5Z"/><path d="M1204.7,445 1212.9,446 1221.2,447.1 1224.3,448.1 1219.1,450.2 1210.8,448.1Z"/></g>
<g fill="#0000CD"><path d="M299,218.3 304,217.1 310.3,220.8 306.5,225.8 301.5,224.6Z"/><path d="M332.3,215.1 335.3,214.1 336.6,220.8 333.3,221.6Z"/><path d="M315.3,208.3 318.3,208.3 318.3,213.3 315.3,213.3Z"/><path d="M341.6,209.1 346.6,208.3 346.6,210.6 341.6,211.1Z"/><path d="M568.2,236.6 578.2,233.3 583.2,237.1 579.4,242.1 573.2,244.6Z"/><path d="M725.3,290.1 731.2,286.7 738,284.2 744.7,286.7 748.1,291.8 751.5,298.5 749.8,302.8 744.7,301.1 739.7,301.9 734.6,305.3 729.5,308.7 726.1,301.9Z"/><path d="M1193.1,422.3 1199.1,421.4 1200.8,425.7 1195.7,427.4Z"/><path d="M1161.8,396.1 1168.6,396.1 1168.6,398.3 1161.8,398.3Z"/></g>
<g fill="#000080"><path d="M637.3,43.3 641.4,39.9 645.5,43.3 641.4,46.6Z"/><path d="M721.5,247.5 728.8,246.4 737,244.4 743.2,246.4 744.2,251.6 737,256.8 728.8,261.9 727.7,270.2 730.8,280.5 728.8,288.8 726.7,297 721.5,297Z"/><path d="M730.8,288.8 739.1,287.7 747.3,289.8 751.5,292.9 745.3,298 739.1,303.2 730.8,304.2 727.7,303.2 728.8,297Z"/></g>
<g fill="#FFFFFF"><path d="M272.7,223.1 277.8,223.1 277.8,225.1 272.7,225.1Z"/><path d="M254.7,230.1 258.2,229.6 259,234.1 255.7,235.1Z"/><path d="M269.7,237.1 274,237.1 273.5,239.6 269.7,239.6Z"/><path d="M245.2,255.1 250.2,253.4 251.5,256.6 247.7,259.1Z"/><path d="M276.5,267.1 282.8,266.1 284.8,269.1 279,271.6Z"/><path d="M682.5,299.7 687.1,292.7 690.3,293.4 687.8,304.7 683.8,304.7Z"/><path d="M681.3,295.2 684.7,291.4 687.6,291.1 689.2,295.2 688.1,300.2 685.9,301.9Z"/><path d="M708.4,321.4 713.4,317.1 716,318.8 714.3,323.1 710.1,327.3 707.5,325.6Z"/><path d="M758.3,357.7 766.7,356.9 771.8,359.4 774.3,364.5 768.4,366.2 761.7,364.5 754.9,366.2 749.8,367.9 746.4,365.4 751.5,362.8Z"/><path d="M768.4,377.2 775.2,378 776,381.4 769.3,380.6Z"/><path d="M1012,300.8 1016.2,299.2 1018.7,301.7 1015.4,304.2Z"/><path d="M1012.7,301 1016.4,299.4 1017.4,303.5 1013.9,304.8Z"/><path d="M996.8,267 1000.9,266 1001.9,270.1 998.2,270.5Z"/><path d="M862.6,494.1 868.8,493.7 868.8,495.8 862.6,496.2Z"/><path d="M1021,521.4 1027.2,521.4 1027.2,523.4 1021,523.4Z"/></g>
<path d="M75,41.5 78.8,39 81.3,34 85,30.3 90,32.8 95,34 102.5,34.8 108.8,36 115.1,36.3 117.1,34 112.5,32.8 107.5,34 108.8,32.8 112.5,31 116.3,30.3 122.6,32 127.6,34 131.3,40.3 136.3,46.5 142.6,44.8 150.1,43.5 157.6,39 163.9,31.5 170.1,24.5 175.1,21 185.1,21 192.6,20.3 197.7,16.5 202.7,13.3 210.2,12 213.2,12.8 212.7,16.5 215.2,20.3 216.4,25.3 220.2,24 222.7,26.5 221.4,34 221.4,41.5 220.2,51.6 222.7,55.3 227.7,56.6 229.4,67.1 231.4,62.1 237.7,60.3 243.2,56.1 245.2,59.1 246,69.1 245.2,81.6 246.5,86.6 244.7,94.1 245.2,104.1 240.2,107.9 235.2,114.1 231.4,117.9 232.2,124.1 227.7,129.2 225.2,134.2 223.9,141.7 221.4,146.2 225.2,149.2 230.2,151.2 226.4,156.9 M79,9 81.3,14 80,20.3 77,25.3 76.3,29 78,34 81.3,36 M171.4,9 173.1,16.5 175.1,21 M235.2,9 237.7,14 241.5,20.3 244,31.5 250.2,54.1 257.7,77.1 M245.2,81.6 246.5,80.3 251.5,78.6 257.7,77.1 259,70.3 265.2,68.6 272.7,67.1 279,68.6 285.3,69.1 289,62.8 292.8,59.1 292.3,52.8 295.3,44 295.3,37.8 300.3,30.3 304,22.8 309,16.5 311.5,9 M226.4,155 222.7,164.5 218.9,172 215.2,180.8 210.2,184.5 205.2,188.3 198.9,190.8 196.4,197.1 195.7,204.6 194.6,209.6 198.9,213.3 202.2,218.3 206.4,220.8 205.2,229.6 201.4,237.1 196.4,243.4 191.4,248.4 188.9,253.4 190.6,258.4 187.6,264.6 185.1,270.9 180.1,273.4 176.4,275.9 178.1,280.9 182.6,280.2 188.9,278.9 195.2,280.2 201.4,282.2 206.4,284.7 210.2,288.4 212.7,295.9 215.2,302.2 216.4,304.9 M178.1,280.9 170.1,282.2 157.6,282.7 145.1,282.9 130.1,283.4 115.1,283.9 110,285.9 106.3,290.9 102.5,294.2 96.3,296.7 90,299.7 83.8,304.9 M443,243.4 430.4,248.4 417.9,253.4 407.9,258.4 401.7,263.4 397.9,269.6 395.4,279.7 391.6,287.2 385.4,294.7 377.9,300.9 374.1,304.9 M73.7,310.5 84,304.5 M216.7,304.5 217.7,306.3 222.7,315 230.2,321.3 240.2,326.3 246.5,322.5 252.7,318 261.5,316.3 267.7,318.8 274,323.8 275.3,330.1 279,336.3 284,340.1 290.3,341.3 300.3,338.8 312.8,333.8 325.3,330.1 335.3,328.8 345.3,328.8 355.4,326.3 369.1,322.5 369.9,312.5 374.6,305.5 M240.2,326.3 235.2,333.8 232.7,341.3 228.9,348.8 222.7,356.3 215.2,363.8 207.7,370.1 200.2,376.4 193.9,382.6 190.1,390.1 188.1,400.1 186.4,410.2 190.1,414.7 200.2,418.9 206.4,423.9 212.7,426.4 222.7,426.4 232.7,426.4 238.2,428.9 239,438.9 M239,436.7 238.2,445.5 237.7,454.3 233.9,460.5 231.4,468 232.7,475.5 237.7,481.8 242.7,485.6 245.2,491.8 252.7,495.1 261.5,495.1 269,493.1 274,492.6 276,496.8 275.3,505.6 275.8,515.6 280.3,520.6 281.5,525.6 287.8,530.6 291.5,535.6 293.3,541.9 294.8,548.6 M579.4,85.3 573.2,89.1 565.7,95.4 555.6,100.4 548.1,105.4 544.4,111.6 538.1,119.1 531.9,125.4 526.9,131.7 518.1,139.2 523.1,145.4 526.9,152.9 521.8,156.9 M579.4,85.3 573.2,82.8 569.4,79.1 568.2,71.6 570.7,64.1 574.4,57.8 573.2,50.3 569.4,44 566.9,37.8 570.7,30.3 578.2,25.3 583.2,20.3 590.7,16.5 595.7,12.8 605.7,11 613.2,9.8 618.2,8 M647,8 655.8,11.5 665.8,15.3 673.3,20.3 678.3,27.8 674.5,30.3 679.5,36.5 685.8,46.5 690.8,59.1 694.6,66.6 700.8,68.6 704.6,61.6 708.3,60.3 712.1,65.3 715.8,69.1 720.8,70.3 724.6,74.1 728.4,75.3 727.1,84.1 730.9,89.1 M727.6,89.2 733.7,93.8 739.8,98.4 742.1,96.9 744.4,99.9 744.4,102.2 747.4,104.5 752.7,107.5 758.1,109 764.2,111.3 768,115.1 768.7,119.7 767.2,124.3 768.7,127.3 772.5,129.9 777.1,130.8 782.4,132.6 787,134.5 790.8,133.4 791.6,135.7 796.1,136.4 799.9,138 M744.4,102.2 742.8,103.4 740.6,107.1 736.8,108 734.5,109 735.2,112.1 737.5,114.4 740.6,115.1 742.8,113.6 744.4,111.3 742.8,109 740.6,107.1 M744.4,112.8 747.4,116.6 748.9,120.5 749.7,126.5 749.2,132.6 749.7,138 748.2,141 745.1,138.7 742.8,135.7 739,134.9 736,136.4 736.8,139.5 733.7,142.5 729.1,144.8 724.6,147.1 721.5,148.6 722.3,150.9 726.1,150.6 729.1,152.4 729.9,155.5 726.9,158.5 723,160 720,161.3 M720,161.3 716,160.5 713.3,157 711,155.5 708.3,157 704.6,159.5 700.8,158.3 698.3,159.5 M817.5,89.2 815.2,93 816.7,96.1 814.4,98.4 813.7,102.2 811.4,105.2 810.6,109 812.9,112.8 812.1,116.6 814.4,119.7 813.7,122.7 815.9,125 818.7,126.5 817.5,129.3 812.9,131.4 807.6,133.4 803,134.9 799.9,138 M799.9,138 801.5,141 800.7,144.8 798.4,148.6 794.6,151.7 790.8,154.7 787,157.8 783.2,161.6 779.4,164.6 775.6,168.4 773,173 772.1,177.6 771.8,180 M799.9,138 803,137.5 806.8,138 811.4,141 816.7,144.1 822,147.1 826.6,149.4 828.4,150.9 M526.9,155 520.6,159.5 513.1,163.3 503.1,165.8 493.1,168.3 483.1,172 480.5,179.5 476.8,189.5 473,198.3 468,207.1 463,215.8 458,224.6 453,232.1 448,239.6 443,243.4 438,245.1 M523.1,158.3 520.6,168.3 530.6,169.5 543.1,170.8 555.6,171.5 568.2,172.5 573.2,174.5 580.7,170.8 588.2,169.5 595.7,170.8 600.7,174.5 608.2,175.8 613.2,174.5 614.5,180.8 620.7,182 623.2,187 620.7,194.5 624.5,200.8 628.2,199.6 633.2,192 639.5,185.8 645.8,183.3 655.8,183.3 663.3,181.5 670.8,183.3 677,186.5 684.6,185.8 689.6,180.8 697.1,178.3 698.3,172 695.8,165.8 698.3,159.5 M573.2,174.5 568.2,178.3 565.7,182 566.9,185.8 573.2,187 574.4,194.5 573.2,200.8 575.7,205.8 570.7,208.3 573.2,213.3 578.2,217.1 585.7,214.6 593.2,213.3 599.4,217.1 605.7,223.3 613.2,224.6 620.7,222.1 629.5,221.6 630.7,225.8 635.7,227.1 635.7,234.6 640.7,240.9 644.5,245.9 643.3,250.9 647,259.6 650.8,267.1 657,275.9 663.3,284.7 670.8,290.9 678.3,297.2 684.6,303.4 687.1,307.2 M663.5,285.8 670.3,288.4 677.1,293.5 682.1,299.4 685.5,304.5 687.2,307 683.8,306.1 680.5,307.8 677.1,310.4 679.6,312.9 683,312.1 681.3,316.3 678.8,318.8 679.6,321.4 676.2,323.1 675.4,325.6 678.8,329 683,330.7 688.1,330.7 692.3,331.5 694.8,334.1 697.4,331.5 695.7,328.1 693.1,325.6 693.6,321.4 694.3,317.1 696.5,315.5 700.8,315.1 705,313.8 705.8,310.4 704.1,307 706.7,305.3 709.2,307.8 713.4,306.7 715.1,308.7 716.8,312.1 715.1,313.8 718.5,315.5 721.1,318 722.7,321.4 725.3,318.8 728.7,318 731.2,314.6 733.7,311.2 737.1,307.8 740.5,304.5 743,301.9 746.4,301.9 749.8,304.5 751.5,307.8 752,313.8 752.4,321.4 752.7,329 751.5,334.1 749.8,337.4 749,342.5 750.7,343.9 754.9,343.4 757.4,340 760.8,339.1 762.5,336.6 759.1,335.8 761.7,334.1 766.7,334.4 770.1,333.2 774.3,334.1 777.7,334.4 783.6,331.5 788.7,329 793,326.4 796.3,323.9 795.5,318.8 793.8,313.8 794.6,308.7 797.2,306.1 795.5,301.9 796.3,296.8 794.6,292.6 793.8,288.4 791.3,285.8 788.7,284.5 M777.7,334.4 779.4,339.1 780.3,344.2 782.8,348.4 784.5,352.7 787,357.7 790.4,362.8 793.8,367.1 798,369.6 801.4,371.3 803.1,375.5 804.8,379.7 805.3,383.1 803.1,385.7 M805.5,374.2 804.1,380.1 800.7,383.5 796.5,386 794.8,388.5 799,390.2 806.6,391.9 810,393.6 810,396.1 806.6,397 799,398.7 792.3,402.1 788,405.5 787.2,409.7 788.5,411.9 791.4,410.5 794,406.3 794.8,403.8 800.7,402.1 809.2,400.4 821,401.2 M821,423.2 815.9,429.1 809.2,432.5 802.4,435.1 795.6,438.4 789.7,440.1 788.9,442.7 783.8,443.5 778.7,446.1 773.6,450.3 768.6,452.8 763.5,456.2 758.4,457.9 753.3,461.3 748.3,464.7 743.2,469.7 740.7,473.1 738.1,475.7 M738,475.7 730.4,478.2 724.2,481.3 720,486.4 718,491.6 719,497.8 721.1,506 724.2,512.2 730.4,516.4 736.5,519.5 742.7,520.5 751,522.6 759.2,520.5 767.5,519.5 772.7,516.4 774.7,513.3 779.9,512.7 783.6,515.3 784,522.6 786.5,529.8 784,534.9 779.9,537 771.6,536 763.4,538.7 755.1,540.7 747.9,543.2 744.8,546.3 745.2,548.6 M611.7,548.6 615.8,542.8 623,542.6 630.2,541.5 629.2,545.3 627.8,548.6 M878.6,8 883.6,14 888.6,19 886.1,26.5 883.6,34 887.3,40.3 893.6,46.5 886.1,54.1 889.8,60.3 888.6,67.8 893.6,70.3 901.1,70.3 904.9,75.3 907.4,80.3 903.6,82.8 897.4,82.8 893.6,77.8 891.1,75.3 881.1,75.3 871.1,76.1 863.6,71.6 856.1,69.6 848.5,72.1 841,75.3 834.8,79.1 828.5,79.1 822.3,84.1 816,89.6 818,92.9 M901.1,70.3 907.4,62.8 913.6,56.6 918.6,59.1 926.1,67.8 928.6,74.1 933.7,80.3 938.7,89.1 944.9,91.6 951.2,96.6 958.7,94.6 967.4,94.1 973.7,96.6 981.2,102.9 988.7,106.6 993.7,109.1 998.7,107.9 1001.2,111.6 997.5,116.6 1000,120.4 997.5,124.6 1008.7,126.6 1018.8,131.7 1028.8,132.9 1036.3,136.7 1041.3,141.7 1048.8,145.4 1057.6,147.9 1061.3,154.2 1062.6,156.9 M1061.3,152.9 1051.3,152.9 1047.5,154.2 1048.8,156.9 M771.7,180 768.1,184.8 763.7,190.7 765.2,196.6 762.2,202.5 761.3,210 766.7,212.9 766.1,224.8 767.2,236.6 769.6,247 772,254.4 M828.2,150.7 820,156.7 815.5,164.1 812.5,171.5 814,180.3 817,187.7 820,192.8 827.4,190.7 834.8,190.7 842.2,193.7 847.2,189.2 846.6,181.8 843.6,175.9 847.2,171.5 854,174.4 858.4,181.8 864.4,186.3 871.8,189.2 876.2,195.1 882.1,199.6 888.1,204 894,207.6 901.4,210.5 902.3,214.4 894,218.8 886.6,221.8 892.5,224.8 899.9,229.2 901.4,235.1 910.3,232.2 917.7,236.6 923.6,241 932.5,245.5 938.4,248.4 942,252.6 M772,254.4 765.2,253.8 757.8,255.9 752.4,258.8 751.8,264.7 753.3,269.2 747.4,273.6 743.6,276.6 745.9,281 753.3,278.1 760.7,281 768.1,284 772.6,285.5 777,282.5 778.5,278.1 782.9,275.7 780,269.2 778.5,261.8 774.1,256.7 772,254.4 M782.9,275.7 785.9,279.5 788.3,285.2 M1062.6,156.9 1065.3,166.1 1074.1,166.1 1078.6,163.2 1080.1,158.1 1087.5,153.7 1088.9,144.8 1090.4,139.5 1097.8,141.8 1103.7,136.5 1112.6,138.9 1124.5,141.8 1139.3,142.4 1142.2,149.2 1145.8,155.2 1147.6,161.1 1155.5,164 1165.9,168.5 1174.8,174.4 1183.7,180.3 1189.6,186.2 1198.5,192.2 1205.9,193.6 1213.3,199.6 1222.2,196.6 1229.6,202.5 1232.5,208.4 1238.4,209.9 1241.4,217.3 1248.8,224.7 1253.2,230.7 1260.6,232.1 1265.1,226.2 1275.4,224.7 1284.3,221.8 1293.2,224.7 1298.5,230.1 1297.9,234.2 1301.5,240.1 M1048.7,156.9 1046,159 1040.1,164 1032.7,170 1025.3,175.9 1017.9,181.8 1012,187.7 1012.6,196.6 1007.5,204 1000.7,211.4 1003.1,218.8 1004.6,226.2 998.6,233.6 992.7,236.6 991.2,244 986.8,249.9 985.3,255.8 988.3,260.3 994.2,264.7 1001.6,269.1 1010.5,272.1 1017.9,275.1 1022.3,269.1 1023.8,266.8 1032.7,272.1 1041.6,278 1050.5,283.9 1059.3,289.9 1068.2,291.3 1075.6,297.3 1081.5,306.1 M933.5,244.9 939.4,248.4 942.4,252.9 949.8,251.4 957.2,254.3 964.6,252.9 970.5,257.3 976.4,256.7 979.4,260.3 985.3,261.7 987.7,257.3 M1065.3,166.1 1060.8,170 1062.3,177.4 1063.8,184.8 1053.4,189.2 1043.1,192.8 1041,201 1047.5,206.4 1050.5,210.5 1043.1,215.8 1040.1,221.8 1035.7,227.7 1028.3,232.1 1023.8,238.1 1021.4,246.9 1020.8,254.3 1023.2,263.2 1023.8,269.1 M1078.6,163.2 1088.9,167 1096.3,174.4 1105.2,172.9 1112.6,173.8 1117.9,177.4 1114.1,183.3 1115.6,192.2 1112.6,196.6 1118.5,201 1115,208.4 1112.6,217.3 1105.2,216.4 1097.8,218.8 1095.4,224.7 1097.8,232.1 1100.8,235.1 1093.4,241 1090.4,245.5 1094.9,251.4 1099.3,258.8 1102.3,260.3 1100.2,262.3 1096.3,257.3 1090.4,251.4 1080.1,249.9 1071.2,247.8 1062.3,246 1059.3,248.4 1065.3,252.9 1074.1,255.8 1078.6,263.2 1080.1,269.1 1075.6,276.5 1069.7,282.5 1063.8,288.4 1062.3,291.3 M1100.8,235.1 1106.7,239.5 1118.5,242.5 1130.4,244.9 1139.3,244 1145.2,240.1 1154.1,236.6 1162.9,236 1167.4,241.9 1174.8,244 1177.7,245.5 1185.1,248.4 1189.6,255.8 1199.9,257.9 1210.3,260.3 1220.7,263.8 1231,264.7 1242.9,261.7 1248.8,257.3 1254.7,248.4 1257.7,239.5 1260.6,232.1 M1177.7,245.5 1171.8,249.9 1162.9,257.3 1154.1,264.7 1145.2,270.6 1136.3,275.1 1134.8,283.9 1131.9,291.3 1137.8,297.3 1139.3,306.1 M1220.7,263.8 1219.2,269.1 1210.3,272.1 1204.4,278 1202.9,283.9 1208.8,291.3 1214.8,298.7 1211.8,306.1 M1214.8,298.7 1223.6,301.1 1234,306.1 M1303.6,248.4 1293.2,251.4 1284.3,255.8 1275.4,260.3 1271,267.7 1274,275.1 1271,283.9 1268,292.8 1269.5,306.1 M819.7,400.3 827.6,401.7 832.6,404 836.5,400.7 841.5,398.7 847.4,399.7 850.4,402.7 847.4,405.6 848.4,408.6 855.3,406.6 861.3,407.6 867.2,410.6 873.1,412.6 879.1,412 887,411.2 892.9,413.9 897.9,417.5 902.8,417.1 904.8,423.4 907.8,429.4 910.7,435.3 912.3,441.3 911.7,445.2 907.8,448.2 903.8,450.2 904.4,454.1 901.8,458.1 904.4,462 902.8,467 898.9,472.9 894.9,479.9 890,484.8 887,487.8 M820.9,423.2 824.6,420.5 829.6,418.5 834.5,417.5 839.5,416.7 840.5,412 846.4,409.6 848.4,408.6 M1081.4,306.2 1083.4,309.3 1086.5,306.8 1090.7,309.3 1096.9,314.5 1103.1,318.6 1109.2,321.7 1115.4,324.8 1121.6,328.9 1125.8,330.4 1130.9,327.5 1136.1,329.9 1144.3,333 1152.6,336.1 1160.8,338.2 M1138.1,304.1 1141.2,309.3 1146.4,313.4 1149.5,318.6 1146.4,323.8 1140.2,324.8 1134,325.8 1130.9,327.5 M889.4,486.3 887.3,489.4 888.4,493.5 887.3,497 883.2,499.1 877,501.1 870.8,502.8 864.6,503.4 859.5,504.9 855.3,509 851.8,516.2 854.3,522.4 857.4,527.6 859.5,533.8 858.4,542 856.4,548.2 M881.1,548.2 880.1,539.9 878,532.7 874.9,526.5 871.8,523.4 873.9,518.3 877,516.2 882.2,515.2 885.3,518.3 887.3,519.3 888.4,515.2 887.3,509 890.4,507.3 892.5,511 894.6,514.1 897.6,512.1 898.7,506.9 900.7,505.9 902.8,510 903.8,515.2 901.8,521.4 898.7,526.5 897.6,530.7 900.7,532.7 903.8,530.7 906.9,526.5 910,525.5 909,529.6 912.1,532.7 916.2,531.7 920.4,533.8 924.5,532.7 928.6,534.8 929.6,531.7 928.6,526.5 929.6,521.4 931.7,519.3 932.7,524.5 934.8,526.5 940,524.5 938.9,527.6 935.8,532.7 933.8,536.8 934.8,539.9 937.9,540.4 940,536.8 943.1,535.8 945.1,537.9 948.2,533.8 953.4,532.7 959.6,534.2 965.8,535.8 970.9,534.8 973,529.6 977.1,526.5 983.3,524.5 988.5,521.4 994.7,518.3 1000.8,515.2 M989,518.7 996.2,516.2 1002.4,514.1 1005.5,516.2 1007.5,521.4 1009.6,525.5 1013.7,527.6 1014.8,531.7 1010.6,535.8 1006.5,538.9 1004,541 1005.5,545.1 1010.6,546.1 1014.8,545.1 1014.4,541.6 1018.9,543 1023,542 1021,538.9 1026.1,537.9 1027.2,534.8 1031.3,535.8 1034.4,539.9 1038.5,541 1039.5,537.9 1036.4,535.8 1039.5,533.8 1043.7,533.3 1046.8,529.6 1049.4,530.7 1047.8,535.8 1045.7,541 1042.6,546.1 1041.6,548.2 M1047.8,548.2 1050.3,547 1053,548.2 M1072.6,548.2 1074.6,542 1077.7,535.8 1078.3,533.8 1082.9,534.2 1088,534.8 1089.1,537.9 1093.2,538.3 1095.3,535.8 1091.1,534.2 1097.3,531.7 1101.5,531.3 1103.1,535.8 1103.5,539.9 1108.7,541 1113.8,541 1118,543.7 1122.1,544.1 1125.2,546.1 1125.8,548.2 M1282.1,504.4 1272.8,509 1264.5,513.1 1256.3,517.2 1248,522.4 1240.8,527.6 1236.6,532.7 1235.6,538.9 1236.6,544.1 1238.7,548.2 M1297.8,233.6 1301.4,239.5 1303.7,245.5 1302.9,250.8 1311.7,253.7 1317.7,260.3 1320.6,263.8 1328,265.6 1333.9,267.7 1338.4,273.6 1345.8,275.6 1351.7,278 1357.6,276.5 1365,271.5 1373.9,274.5 1373.9,281 1369.5,285.4 1368,295.2 1375.4,297.3 1387.2,298.7 1396.1,297.3 1405,298.7 1413.9,294.3 1415.3,300.2 1421.3,306.1 M1368,295.2 1362.1,300.2 1357.6,306.1 M1212.3,305.6 1213.4,307.4 1211.1,311.2 1209.6,315.7 1209.2,320.1 1210.7,322.4 M1234.3,304.4 1236.6,305.2 1241.8,308.9 1246.3,309.7 1250.8,312.7 1253,315.7 1254.5,318.7 M1269.5,302.9 1268.7,305.2 1265.7,308.9 1263.5,313.4 1260.5,317.2 1256,318.7 1250.8,320.9 1246.3,321.6 1244.5,323.1 1246.3,325.1 1253.8,324.6 1261.2,325.1 1267.2,325.1 1271.7,327.6 1274.7,328.7 1280.7,328.1 1286.7,325.7 1289.7,327.6 1294.1,329.1 1301.6,329.9 1307.6,330.6 M1331.1,329 1332.7,328.5 1334.5,329.9 1335.7,332.6 M1343.5,329.3 1341.3,326.1 1343.5,322.4 1346.5,317.9 1349.5,314.2 1352.5,311.9 1356.2,310.4 1358.2,306.2 M1421.3,306.1 1423.9,305.8 1427,307.3 1429,310.9 1430.5,314.4 1432,317.5 1434.6,320 1435.1,323.1 1434.1,325.6 1436.1,327.6 1440.1,327.6 1442.2,327.1 1444.2,326.1 1446.7,324.6 1445.7,321 1444.7,317.5 1443.7,313.9 1446.2,311.4 1448.8,308.8 1451.8,307.1 M1442.2,327.1 1441.5,329.6 M1105.2,319.2 1111.9,323.4 1120.4,327.6 1126.3,330.2 1130.5,326.8 1139,325.9 1144.1,325.1 1149.1,321.7 1148.3,319.2 M1139,325.9 1145.8,330.2 1152.5,335.2 1159.3,339.5 1164.4,342.8 1169.4,343.7 1176.2,342.8 1183,341.7 1187.2,341.1 1193.1,336.9 1198.2,336.1 1194.8,332.7 1198.2,329.3 1203.3,326.8 1210,324.2 1210.9,320.8 1208.3,319.2 M1187.2,341.1 1188,347.1 1189.7,353 1192.3,356.4 1198.2,358.1 1205,359.8 1213.4,360.9 1221.9,361.4 1227,364.8 1230.3,369.1 1233.7,369.9 1238,367.4 1238.8,362.3 1242.2,360.6 1250.6,359.8 1259.1,360.3 1267.6,360.6 1276,361.4 M1264,363.5 1270.8,366 1275.7,367.9 1274.7,363.1 1280.6,361.1 1283.5,357.2 1281.5,354.3 1286.4,353.3 1293.2,353.3 1294.2,355.3 1299,360.1 1305.8,365 1315.6,367 1325.3,368.9 1332.1,371.8 1336,376.7 1336,383.5 1334.1,390.3 1337,393.2 1344.8,395.2 1350.6,396.1 1356.4,400 1362.3,403.9 1366.1,406.8 1371,405.9 1373.9,406.8 1374.9,410.7 1379.8,413.6 1385.6,414.6 1389.5,410.7 1399.2,407.8 1407,405.9 1412.8,407.8 1415.7,412.7 1415.7,418.5 1420.6,423.4 1424.5,427.3 1430.3,423.4 1438.1,421.4 1444,423.4 1451.7,425.7 M1294.2,354.3 1297.1,349.5 1302.9,345.6 1309.7,343.6 1316.5,340.7 1318.5,337.8 1314.6,337.8 1310.7,334.9 1308.8,331 1305.8,329 M1318.5,337.8 1322.4,333.9 1329.2,331 1331.1,329 M1336,329 1335,333.9 1337.9,337.8 1344.8,339.7 1348.6,342.6 1356.4,341.7 1364.2,340.7 1372,342.6 1377.8,345.6 1379.8,351.4 1382.7,357.2 1389.5,361.1 1397.3,364 1401.2,366 1408.9,367 1415.7,367 1417.7,364 1423.5,362.1 1424.5,357.2 1427.4,352.4 1432.3,347.5 1436.2,343.6 1439.1,338.8 1441,333.9 1441.6,329 M1337,329 1339.9,332.9 1343.8,331.9 1343.8,329 M1401.2,366 1396.3,368.9 1397.3,372.8 1401.2,376.7 1400.2,382.5 1397.3,388.4 1394.4,392.2 1393.4,398.1 1391.4,403.9 1389.5,410.7 M1451.3,400 1448.8,403.9 1449.8,409.8 1451.3,414 M1274.7,363.1 1276.7,368.9 1280.6,374.7 1282.5,380.6 1286.4,386.4 1289.3,394.2 1294.2,400 1300,402.9 1304.9,404.9 1305.8,411.7 1309.7,415.6 1315.6,418.5 1316.5,421.4 1307.8,421 1300,421.4 1294.2,423.4 1290.3,428.2 1284.5,430.2 1280.6,430.2 1281.5,435 1288.3,438 1296.1,439.9 1301,441.8 1300,445.7 M1280.6,434 1288.3,436 1296.1,437.9 1301,441.8 1299.6,445.7 1300,448.6 1294.2,449.6 1288.3,451.5 1285.4,454.5 1287.4,459.3 1292.2,463.2 1297.1,467.1 1302,472 1305.8,474.9 1311.7,475.8 1316.5,476.8 1321.4,479.7 1327.2,481.7 1332.1,484.6 1333.1,487.5 1331.1,491.4 1327.2,493 1322.4,492.4 1316.5,489.5 1311.7,488.5 1310.1,491.4 1310.7,495.3 1307.8,497.6 1303.9,496.3 1302.9,492.4 1300,490.4 1296.1,490.4 1290.3,495.3 1284.5,501.1 1278.6,506 1272.8,509.9 1264,514.4" fill="none" stroke="#000" stroke-width="1.85" stroke-linejoin="round" stroke-linecap="round"/>
<g class="ct" opacity="0.999">
<path d="M0,-6 1.35,-1.85 5.7,-1.85 2.18,0.7 3.53,4.85 0,2.3 -3.53,4.85 -2.18,0.7 -5.7,-1.85 -1.35,-1.85Z" transform="translate(631.2,81.7) scale(0.96)" fill="#000" stroke="#000" stroke-width="0.9" stroke-miterlimit="10"/><text x="635.9" y="79.3" textLength="57.0" lengthAdjust="spacingAndGlyphs">Punjab</text>
<path d="M0,-6 1.35,-1.85 5.7,-1.85 2.18,0.7 3.53,4.85 0,2.3 -3.53,4.85 -2.18,0.7 -5.7,-1.85 -1.35,-1.85Z" transform="translate(739.6,112.39999999999999) scale(0.96)" fill="#000" stroke="#000" stroke-width="0.9" stroke-miterlimit="10"/><text x="744.6" y="110.6" textLength="97.0" lengthAdjust="spacingAndGlyphs">Chandigarh</text>
<path d="M0,-6 1.35,-1.85 5.7,-1.85 2.18,0.7 3.53,4.85 0,2.3 -3.53,4.85 -2.18,0.7 -5.7,-1.85 -1.35,-1.85Z" transform="translate(688.3,239.4) scale(0.96)" fill="#000" stroke="#000" stroke-width="0.9" stroke-miterlimit="10"/><text x="692.5" y="237.6" textLength="70.7" lengthAdjust="spacingAndGlyphs">Haryana</text>
<path d="M0,-6 1.35,-1.85 5.7,-1.85 2.18,0.7 3.53,4.85 0,2.3 -3.53,4.85 -2.18,0.7 -5.7,-1.85 -1.35,-1.85Z" transform="translate(765.6,266.40000000000003) scale(0.96)" fill="#000" stroke="#000" stroke-width="0.9" stroke-miterlimit="10"/><text x="768.8" y="264.4" textLength="43.5" lengthAdjust="spacingAndGlyphs">Delhi</text>
<path d="M0,-6 1.35,-1.85 5.7,-1.85 2.18,0.7 3.53,4.85 0,2.3 -3.53,4.85 -2.18,0.7 -5.7,-1.85 -1.35,-1.85Z" transform="translate(786.4,279.90000000000003) scale(0.96)" fill="#000" stroke="#000" stroke-width="0.9" stroke-miterlimit="10"/><text x="790.1" y="277.6" textLength="49.3" lengthAdjust="spacingAndGlyphs">Noida</text>
<path d="M0,-6 1.35,-1.85 5.7,-1.85 2.18,0.7 3.53,4.85 0,2.3 -3.53,4.85 -2.18,0.7 -5.7,-1.85 -1.35,-1.85Z" transform="translate(941.0,292.1) scale(0.96)" fill="#000" stroke="#000" stroke-width="0.9" stroke-miterlimit="10"/><text x="945.8" y="290.7" textLength="63.8" lengthAdjust="spacingAndGlyphs">Bareilly</text>
<path d="M0,-6 1.35,-1.85 5.7,-1.85 2.18,0.7 3.53,4.85 0,2.3 -3.53,4.85 -2.18,0.7 -5.7,-1.85 -1.35,-1.85Z" transform="translate(833.5,382.8) scale(0.96)" fill="#000" stroke="#000" stroke-width="0.9" stroke-miterlimit="10"/><text x="838.7" y="380.5" textLength="39.6" lengthAdjust="spacingAndGlyphs">Agra</text>
<path d="M0,-6 1.35,-1.85 5.7,-1.85 2.18,0.7 3.53,4.85 0,2.3 -3.53,4.85 -2.18,0.7 -5.7,-1.85 -1.35,-1.85Z" transform="translate(665.4,402.40000000000003) scale(0.96)" fill="#000" stroke="#000" stroke-width="0.9" stroke-miterlimit="10"/><text x="668.0" y="400.2" textLength="50.0" lengthAdjust="spacingAndGlyphs">Jaipur</text>
<path d="M0,-6 1.35,-1.85 5.7,-1.85 2.18,0.7 3.53,4.85 0,2.3 -3.53,4.85 -2.18,0.7 -5.7,-1.85 -1.35,-1.85Z" transform="translate(846.4,413.5) scale(0.96)" fill="#000" stroke="#000" stroke-width="0.9" stroke-miterlimit="10"/><text x="852.2" y="411.6" textLength="64.5" lengthAdjust="spacingAndGlyphs">Gwalior</text>
<path d="M0,-6 1.35,-1.85 5.7,-1.85 2.18,0.7 3.53,4.85 0,2.3 -3.53,4.85 -2.18,0.7 -5.7,-1.85 -1.35,-1.85Z" transform="translate(1055.5,407.5) scale(0.96)" fill="#000" stroke="#000" stroke-width="0.9" stroke-miterlimit="10"/><text x="1059.9" y="405.6" textLength="74.4" lengthAdjust="spacingAndGlyphs">Lucknow</text>
<path d="M0,-6 1.35,-1.85 5.7,-1.85 2.18,0.7 3.53,4.85 0,2.3 -3.53,4.85 -2.18,0.7 -5.7,-1.85 -1.35,-1.85Z" transform="translate(1009.3,437.3) scale(0.96)" fill="#000" stroke="#000" stroke-width="0.9" stroke-miterlimit="10"/><text x="1013.8" y="434.6" textLength="60.9" lengthAdjust="spacingAndGlyphs">Kanpur</text>
<path d="M0,-6 1.35,-1.85 5.7,-1.85 2.18,0.7 3.53,4.85 0,2.3 -3.53,4.85 -2.18,0.7 -5.7,-1.85 -1.35,-1.85Z" transform="translate(1239.3,413.0) scale(0.96)" fill="#000" stroke="#000" stroke-width="0.9" stroke-miterlimit="10"/><text x="1243.1" y="410.7" textLength="89.2" lengthAdjust="spacingAndGlyphs">Gorakhpur</text>
<path d="M0,-6 1.35,-1.85 5.7,-1.85 2.18,0.7 3.53,4.85 0,2.3 -3.53,4.85 -2.18,0.7 -5.7,-1.85 -1.35,-1.85Z" transform="translate(1209.4,522.6999999999999) scale(0.96)" fill="#000" stroke="#000" stroke-width="0.9" stroke-miterlimit="10"/><text x="1213.1" y="520.3" textLength="71.1" lengthAdjust="spacingAndGlyphs">Varanasi</text>
<path d="M0,-6 1.35,-1.85 5.7,-1.85 2.18,0.7 3.53,4.85 0,2.3 -3.53,4.85 -2.18,0.7 -5.7,-1.85 -1.35,-1.85Z" transform="translate(1373.3,503.0) scale(0.96)" fill="#000" stroke="#000" stroke-width="0.9" stroke-miterlimit="10"/><text x="1378.0" y="499.2" textLength="46.6" lengthAdjust="spacingAndGlyphs">Patna</text>

</g>
</g>
<path d="M64.5,547.5H75.5 M64.5,471.78H75.5 M64.5,396.06H75.5 M64.5,320.34H75.5 M64.5,244.62H75.5 M64.5,168.9H75.5 M64.5,93.18H75.5 M64.5,17.46H75.5 M75.5,548.5V559.5 M226.94,548.5V559.5 M378.38,548.5V559.5 M529.82,548.5V559.5 M681.26,548.5V559.5 M832.7,548.5V559.5 M984.14,548.5V559.5 M1135.58,548.5V559.5 M1287.02,548.5V559.5 M1438.46,548.5V559.5" stroke="#000" stroke-width="2.8" fill="none"/>
<path d="M71.9,532.36H75.5 M71.9,517.21H75.5 M71.9,502.07H75.5 M71.9,486.92H75.5 M71.9,456.64H75.5 M71.9,441.49H75.5 M71.9,426.35H75.5 M71.9,411.20H75.5 M71.9,380.92H75.5 M71.9,365.77H75.5 M71.9,350.63H75.5 M71.9,335.48H75.5 M71.9,305.20H75.5 M71.9,290.05H75.5 M71.9,274.91H75.5 M71.9,259.76H75.5 M71.9,229.48H75.5 M71.9,214.33H75.5 M71.9,199.19H75.5 M71.9,184.04H75.5 M71.9,153.76H75.5 M71.9,138.61H75.5 M71.9,123.47H75.5 M71.9,108.32H75.5 M71.9,78.04H75.5 M71.9,62.89H75.5 M71.9,47.75H75.5 M71.9,32.60H75.5 M113.36,548.5V552.1 M151.22,548.5V552.1 M189.08,548.5V552.1 M264.80,548.5V552.1 M302.66,548.5V552.1 M340.52,548.5V552.1 M416.24,548.5V552.1 M454.10,548.5V552.1 M491.96,548.5V552.1 M567.68,548.5V552.1 M605.54,548.5V552.1 M643.40,548.5V552.1 M719.12,548.5V552.1 M756.98,548.5V552.1 M794.84,548.5V552.1 M870.56,548.5V552.1 M908.42,548.5V552.1 M946.28,548.5V552.1 M1022.00,548.5V552.1 M1059.86,548.5V552.1 M1097.72,548.5V552.1 M1173.44,548.5V552.1 M1211.30,548.5V552.1 M1249.16,548.5V552.1 M1324.88,548.5V552.1 M1362.74,548.5V552.1 M1400.60,548.5V552.1" stroke="#000" stroke-width="0.9" fill="none"/>
<rect x="75.5" y="9.5" width="1376.0" height="539.0" fill="none" stroke="#000" stroke-width="1.1"/>
<g class="tk" opacity="0.999">
<text x="59.4" y="554.2" text-anchor="end" textLength="49.4" lengthAdjust="spacingAndGlyphs">25 °N</text>
<text x="59.4" y="478.48" text-anchor="end" textLength="49.4" lengthAdjust="spacingAndGlyphs">26 °N</text>
<text x="59.4" y="402.76" text-anchor="end" textLength="49.4" lengthAdjust="spacingAndGlyphs">27 °N</text>
<text x="59.4" y="327.04" text-anchor="end" textLength="49.4" lengthAdjust="spacingAndGlyphs">28 °N</text>
<text x="59.4" y="251.32" text-anchor="end" textLength="49.4" lengthAdjust="spacingAndGlyphs">29 °N</text>
<text x="59.4" y="175.6" text-anchor="end" textLength="49.4" lengthAdjust="spacingAndGlyphs">30 °N</text>
<text x="59.4" y="99.88" text-anchor="end" textLength="49.4" lengthAdjust="spacingAndGlyphs">31 °N</text>
<text x="59.4" y="24.16" text-anchor="end" textLength="49.4" lengthAdjust="spacingAndGlyphs">32 °N</text>
<text x="75" y="577.8" text-anchor="middle" textLength="47" lengthAdjust="spacingAndGlyphs">68 °E</text>
<text x="226.44" y="577.8" text-anchor="middle" textLength="47" lengthAdjust="spacingAndGlyphs">70 °E</text>
<text x="377.88" y="577.8" text-anchor="middle" textLength="47" lengthAdjust="spacingAndGlyphs">72 °E</text>
<text x="529.32" y="577.8" text-anchor="middle" textLength="47" lengthAdjust="spacingAndGlyphs">74 °E</text>
<text x="680.76" y="577.8" text-anchor="middle" textLength="47" lengthAdjust="spacingAndGlyphs">76 °E</text>
<text x="832.2" y="577.8" text-anchor="middle" textLength="47" lengthAdjust="spacingAndGlyphs">78 °E</text>
<text x="983.64" y="577.8" text-anchor="middle" textLength="47" lengthAdjust="spacingAndGlyphs">80 °E</text>
<text x="1135.08" y="577.8" text-anchor="middle" textLength="47" lengthAdjust="spacingAndGlyphs">82 °E</text>
<text x="1286.52" y="577.8" text-anchor="middle" textLength="47" lengthAdjust="spacingAndGlyphs">84 °E</text>
<text x="1437.96" y="577.8" text-anchor="middle" textLength="47" lengthAdjust="spacingAndGlyphs">86 °E</text>
</g>
<rect x="1172.3" y="13.6" width="272.2" height="34.6" rx="5" ry="5" fill="#fff" stroke="#808080" stroke-width="1.3"/>
<text opacity="0.999" x="1179.6" y="37.9" font-size="24.2" textLength="258.4" lengthAdjust="spacingAndGlyphs">12-Feb-2026 00:00 IST</text>
</svg>
</body></html>
